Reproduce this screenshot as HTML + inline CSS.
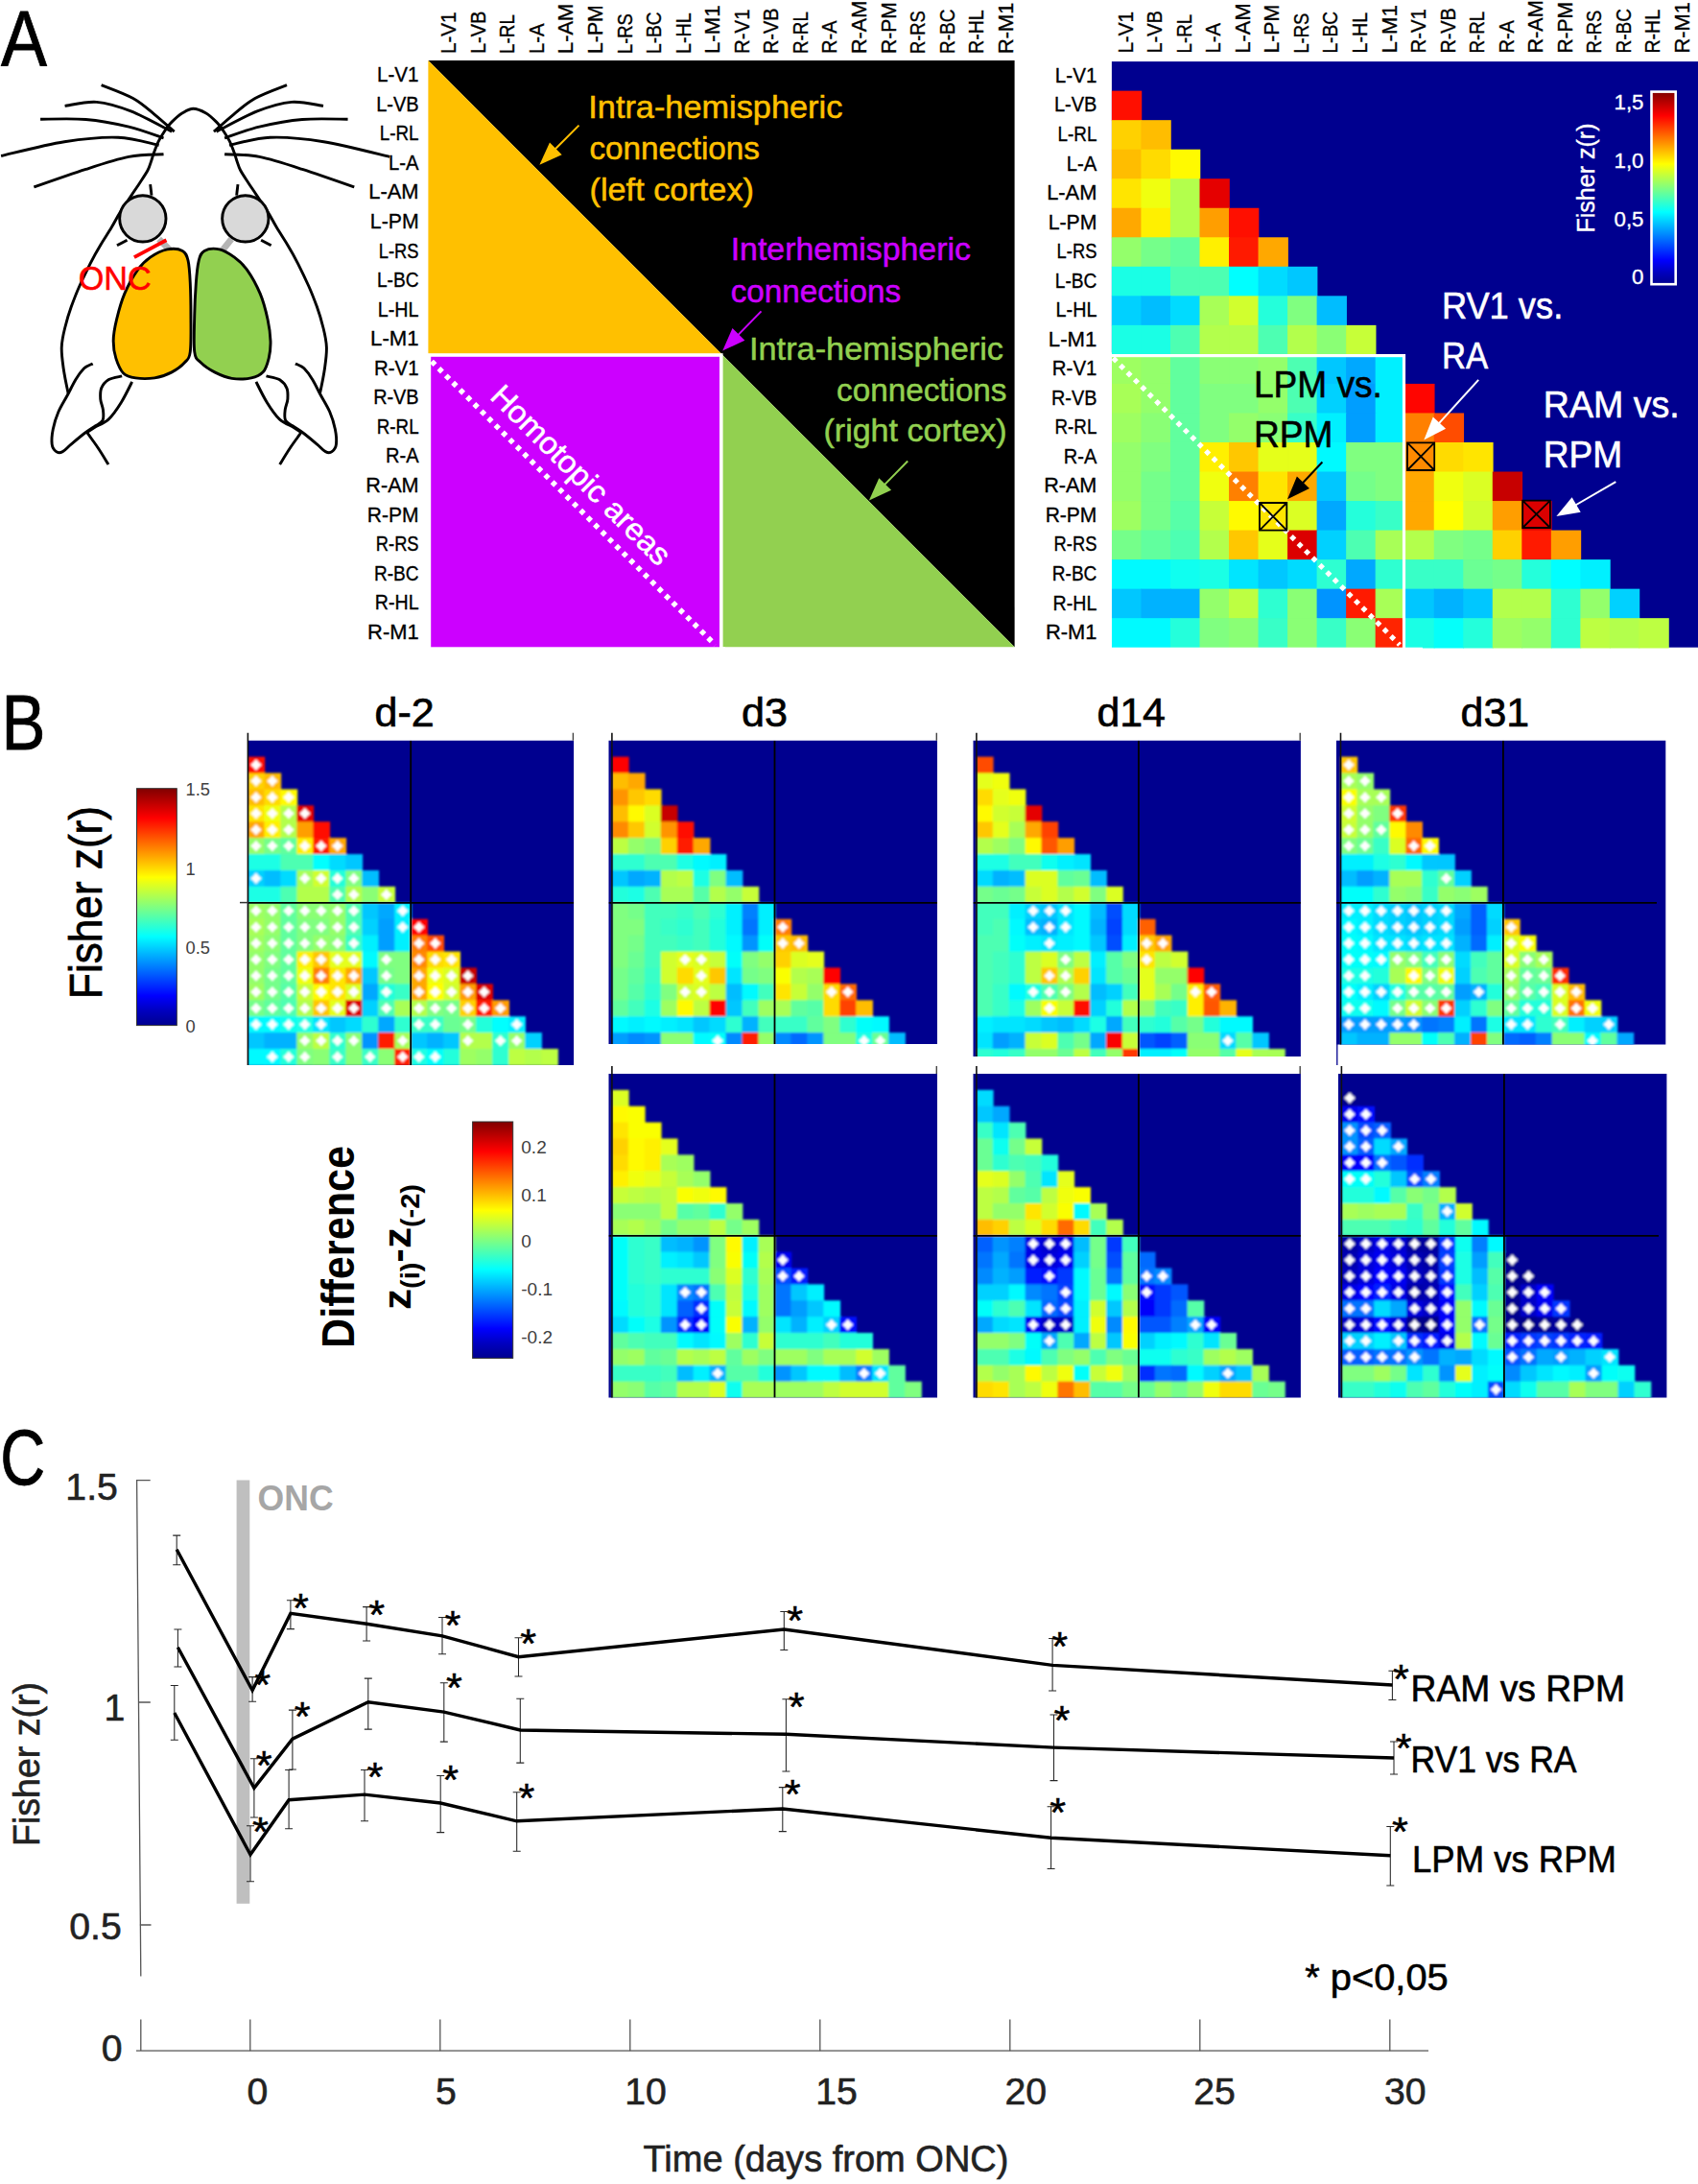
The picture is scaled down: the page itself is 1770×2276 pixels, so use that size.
<!DOCTYPE html><html><head><meta charset="utf-8"><title>Figure</title><style>html,body{margin:0;padding:0;background:#fff}svg{display:block}text{font-family:"Liberation Sans",sans-serif}</style></head><body>
<svg width="1770" height="2276" viewBox="0 0 1770 2276">
<defs>
<linearGradient id="jet" x1="0" y1="0" x2="0" y2="1"><stop offset="0.000" stop-color="#800000"/><stop offset="0.062" stop-color="#bf0000"/><stop offset="0.125" stop-color="#ff0000"/><stop offset="0.188" stop-color="#ff4000"/><stop offset="0.250" stop-color="#ff8000"/><stop offset="0.312" stop-color="#ffbf00"/><stop offset="0.375" stop-color="#ffff00"/><stop offset="0.438" stop-color="#bfff40"/><stop offset="0.500" stop-color="#80ff80"/><stop offset="0.562" stop-color="#40ffbf"/><stop offset="0.625" stop-color="#00ffff"/><stop offset="0.688" stop-color="#00bfff"/><stop offset="0.750" stop-color="#0080ff"/><stop offset="0.812" stop-color="#0040ff"/><stop offset="0.875" stop-color="#0000ff"/><stop offset="0.938" stop-color="#0000bf"/><stop offset="1.000" stop-color="#00008f"/></linearGradient>
<filter id="bl" x="-2%" y="-2%" width="104%" height="104%"><feGaussianBlur stdDeviation="0.9"/></filter>
</defs>
<rect width="1770" height="2276" fill="#fff"/>
<text transform="translate(1.10 67.70) scale(0.880 1)" x="0" y="0" font-size="81.7" stroke="#000" stroke-width="0.8">A</text>
<text transform="translate(1.45 780.90) scale(0.843 1)" x="0" y="0" font-size="81.7" stroke="#000" stroke-width="0.8">B</text>
<text transform="translate(0.25 1547.40) scale(0.796 1)" x="0" y="0" font-size="81.7" stroke="#000" stroke-width="0.8">C</text>
<g transform="translate(0 60) scale(0.2238)" fill="none" stroke="#000" stroke-width="13" stroke-linecap="butt" stroke-linejoin="round">
<line x1="740" y1="845" x2="795" y2="900" stroke="#b4b4b4" stroke-width="30"/>
<line x1="1078" y1="845" x2="1030" y2="905" stroke="#b4b4b4" stroke-width="30"/>
<path d="M318 1565C314 1546 301 1486 296 1450C291 1414 286 1382 287 1350C288 1318 294 1292 302 1260C310 1228 320 1193 332 1160C344 1127 357 1093 372 1060C387 1027 404 992 420 960C436 928 453 898 470 870C487 842 505 815 520 790C535 765 545 744 560 720C575 696 595 668 610 645C625 622 637 605 650 585C663 565 679 542 688 525C697 508 700 494 705 480C710 466 712 455 718 440C724 425 730 406 738 390C746 374 755 360 765 345C775 330 786 314 800 300C814 286 833 268 850 258C867 248 882 238 900 238C918 238 940 248 958 258C976 268 994 286 1008 300C1022 314 1033 330 1043 345C1053 360 1062 374 1070 390C1078 406 1084 425 1090 440C1096 455 1098 466 1103 480C1108 494 1111 508 1120 525C1129 542 1145 565 1158 585C1171 605 1183 622 1198 645C1213 668 1233 696 1248 720C1263 744 1273 765 1288 790C1303 815 1321 842 1338 870C1355 898 1372 928 1388 960C1404 992 1421 1027 1436 1060C1451 1093 1464 1127 1476 1160C1488 1193 1498 1228 1506 1260C1514 1292 1520 1318 1521 1350C1522 1382 1517 1414 1512 1450C1507 1486 1494 1546 1490 1565"/>
<path d="M432 1425C425 1429 405 1434 392 1447C379 1460 364 1480 352 1500C340 1520 331 1540 318 1565C305 1590 284 1622 272 1650C260 1678 252 1705 247 1730C242 1755 240 1782 242 1800C244 1818 254 1829 262 1835C270 1841 280 1841 292 1835C304 1829 314 1815 332 1800C350 1785 381 1759 400 1745C419 1731 432 1724 445 1715C458 1706 472 1702 478 1690C484 1678 482 1657 480 1640C478 1623 469 1607 468 1590C467 1573 466 1555 472 1540C478 1525 489 1510 505 1500C521 1490 558 1486 568 1483"/>
<path d="M1376 1425C1383 1429 1403 1434 1416 1447C1429 1460 1444 1480 1456 1500C1468 1520 1477 1540 1490 1565C1503 1590 1524 1622 1536 1650C1548 1678 1556 1705 1561 1730C1566 1755 1568 1782 1566 1800C1564 1818 1554 1829 1546 1835C1538 1841 1528 1841 1516 1835C1504 1829 1494 1815 1476 1800C1458 1785 1427 1759 1408 1745C1389 1731 1376 1724 1363 1715C1350 1706 1336 1702 1330 1690C1324 1678 1326 1657 1328 1640C1330 1623 1339 1607 1340 1590C1341 1573 1342 1555 1336 1540C1330 1525 1319 1510 1303 1500C1287 1490 1250 1486 1240 1483"/>
<path d="M615 1510C607 1526 583 1576 565 1605C547 1634 526 1666 505 1685C484 1704 457 1712 440 1722C423 1732 411 1741 405 1745"/>
<path d="M1193 1510C1201 1526 1225 1576 1243 1605C1261 1634 1282 1666 1303 1685C1324 1704 1351 1712 1368 1722C1385 1732 1397 1741 1403 1745"/>
<path d="M405 1745C413 1757 438 1790 455 1815C472 1840 497 1882 505 1895"/>
<path d="M1403 1745C1395 1757 1370 1790 1353 1815C1336 1840 1311 1882 1303 1895"/>
<path d="M472 128C497 138 579 167 620 190C661 213 688 239 720 265C752 291 797 332 812 345"/>
<path d="M1336 128C1311 138 1229 167 1188 190C1147 213 1120 239 1088 265C1056 291 1011 332 996 345"/>
<path d="M302 225C327 222 399 203 450 207C501 211 552 227 610 250C668 273 768 329 800 345"/>
<path d="M1506 225C1481 222 1409 203 1358 207C1307 211 1256 227 1198 250C1140 273 1040 329 1008 345"/>
<path d="M188 287C223 287 331 282 400 288C469 294 540 308 600 322C660 336 735 366 762 375"/>
<path d="M1620 287C1585 287 1477 282 1408 288C1339 294 1268 308 1208 322C1148 336 1073 366 1046 375"/>
<path d="M5 458C54 447 209 406 300 392C391 378 477 369 550 372C623 375 708 402 740 408"/>
<path d="M1815 462C1764 450 1601 407 1508 392C1415 377 1331 369 1258 372C1185 375 1100 402 1068 408"/>
<path d="M158 603C198 589 326 544 400 520C474 496 540 474 600 462C660 450 735 452 762 450"/>
<path d="M1650 603C1610 589 1482 544 1408 520C1334 496 1268 474 1208 462C1148 450 1073 452 1046 450"/>
<path d="M700 590L706 642"/>
<path d="M1108 590L1102 642"/>
<path d="M545 875L592 850"/>
<path d="M1263 875L1216 850"/>
<circle cx="665" cy="750" r="108" fill="#d9d9d9"/>
<circle cx="1143" cy="750" r="108" fill="#d9d9d9"/>
<path d="M780 893C805 888 834 891 850 900C866 909 870 920 876 945C882 970 884 1008 886 1050C888 1092 889 1147 889 1200C889 1253 891 1333 886 1370C881 1407 874 1404 860 1420C846 1436 823 1453 800 1465C777 1477 748 1488 720 1492C692 1496 656 1496 632 1492C608 1488 590 1485 575 1470C560 1455 548 1425 540 1400C532 1375 528 1350 528 1320C528 1290 534 1257 543 1220C552 1183 564 1138 580 1100C596 1062 620 1018 640 990C660 962 677 946 700 930C723 914 755 898 780 893Z" fill="#ffc000"/>
<path d="M1022 893C999 888 968 891 952 900C936 909 932 920 926 945C920 970 916 1008 913 1050C910 1092 907 1147 906 1200C905 1253 901 1333 906 1370C911 1407 919 1404 935 1420C951 1436 976 1453 1000 1465C1024 1477 1052 1490 1080 1494C1108 1498 1146 1497 1170 1492C1194 1487 1211 1480 1225 1465C1239 1450 1246 1424 1252 1400C1258 1376 1261 1350 1260 1320C1259 1290 1255 1257 1247 1220C1239 1183 1228 1138 1212 1100C1196 1062 1172 1018 1152 990C1132 962 1114 946 1092 930C1070 914 1045 898 1022 893Z" fill="#92d050"/>
<line x1="625" y1="930" x2="775" y2="850" stroke="#ff0000" stroke-width="17"/>
</g>
<text x="81.70" y="301.70" font-size="34.20" fill="#ff0000" stroke="#ff0000" stroke-width="0.53" textLength="76.00" lengthAdjust="spacingAndGlyphs">ONC</text>
<text x="393.04" y="85.18" font-size="21.78" fill="#000" stroke="#000" stroke-width="0.34" textLength="43.56" lengthAdjust="spacingAndGlyphs">L-V1</text>
<text x="0.00" y="0.00" font-size="21.78" fill="#000" stroke="#000" stroke-width="0.34" textLength="43.56" lengthAdjust="spacingAndGlyphs" transform="translate(475.18 56.00) rotate(-90)">L-V1</text>
<text x="392.14" y="115.74" font-size="21.78" fill="#000" stroke="#000" stroke-width="0.34" textLength="44.46" lengthAdjust="spacingAndGlyphs">L-VB</text>
<text x="0.00" y="0.00" font-size="21.78" fill="#000" stroke="#000" stroke-width="0.34" textLength="44.46" lengthAdjust="spacingAndGlyphs" transform="translate(505.74 56.00) rotate(-90)">L-VB</text>
<text x="395.73" y="146.30" font-size="21.78" fill="#000" stroke="#000" stroke-width="0.34" textLength="40.87" lengthAdjust="spacingAndGlyphs">L-RL</text>
<text x="0.00" y="0.00" font-size="21.78" fill="#000" stroke="#000" stroke-width="0.34" textLength="40.87" lengthAdjust="spacingAndGlyphs" transform="translate(536.30 56.00) rotate(-90)">L-RL</text>
<text x="405.02" y="176.86" font-size="21.78" fill="#000" stroke="#000" stroke-width="0.34" textLength="31.58" lengthAdjust="spacingAndGlyphs">L-A</text>
<text x="0.00" y="0.00" font-size="21.78" fill="#000" stroke="#000" stroke-width="0.34" textLength="31.58" lengthAdjust="spacingAndGlyphs" transform="translate(566.86 56.00) rotate(-90)">L-A</text>
<text x="384.33" y="207.42" font-size="21.78" fill="#000" stroke="#000" stroke-width="0.34" textLength="52.27" lengthAdjust="spacingAndGlyphs">L-AM</text>
<text x="0.00" y="0.00" font-size="21.78" fill="#000" stroke="#000" stroke-width="0.34" textLength="52.27" lengthAdjust="spacingAndGlyphs" transform="translate(597.42 56.00) rotate(-90)">L-AM</text>
<text x="385.83" y="237.98" font-size="21.78" fill="#000" stroke="#000" stroke-width="0.34" textLength="50.77" lengthAdjust="spacingAndGlyphs">L-PM</text>
<text x="0.00" y="0.00" font-size="21.78" fill="#000" stroke="#000" stroke-width="0.34" textLength="50.77" lengthAdjust="spacingAndGlyphs" transform="translate(627.98 56.00) rotate(-90)">L-PM</text>
<text x="394.78" y="268.54" font-size="21.78" fill="#000" stroke="#000" stroke-width="0.34" textLength="41.82" lengthAdjust="spacingAndGlyphs">L-RS</text>
<text x="0.00" y="0.00" font-size="21.78" fill="#000" stroke="#000" stroke-width="0.34" textLength="41.82" lengthAdjust="spacingAndGlyphs" transform="translate(658.54 56.00) rotate(-90)">L-RS</text>
<text x="392.97" y="299.10" font-size="21.78" fill="#000" stroke="#000" stroke-width="0.34" textLength="43.63" lengthAdjust="spacingAndGlyphs">L-BC</text>
<text x="0.00" y="0.00" font-size="21.78" fill="#000" stroke="#000" stroke-width="0.34" textLength="43.63" lengthAdjust="spacingAndGlyphs" transform="translate(689.10 56.00) rotate(-90)">L-BC</text>
<text x="393.79" y="329.66" font-size="21.78" fill="#000" stroke="#000" stroke-width="0.34" textLength="42.81" lengthAdjust="spacingAndGlyphs">L-HL</text>
<text x="0.00" y="0.00" font-size="21.78" fill="#000" stroke="#000" stroke-width="0.34" textLength="42.81" lengthAdjust="spacingAndGlyphs" transform="translate(719.66 56.00) rotate(-90)">L-HL</text>
<text x="386.07" y="360.22" font-size="21.78" fill="#000" stroke="#000" stroke-width="0.34" textLength="50.53" lengthAdjust="spacingAndGlyphs">L-M1</text>
<text x="0.00" y="0.00" font-size="21.78" fill="#000" stroke="#000" stroke-width="0.34" textLength="50.53" lengthAdjust="spacingAndGlyphs" transform="translate(750.22 56.00) rotate(-90)">L-M1</text>
<text x="390.06" y="390.78" font-size="21.78" fill="#000" stroke="#000" stroke-width="0.34" textLength="46.54" lengthAdjust="spacingAndGlyphs">R-V1</text>
<text x="0.00" y="0.00" font-size="21.78" fill="#000" stroke="#000" stroke-width="0.34" textLength="46.54" lengthAdjust="spacingAndGlyphs" transform="translate(780.78 56.00) rotate(-90)">R-V1</text>
<text x="389.17" y="421.34" font-size="21.78" fill="#000" stroke="#000" stroke-width="0.34" textLength="47.43" lengthAdjust="spacingAndGlyphs">R-VB</text>
<text x="0.00" y="0.00" font-size="21.78" fill="#000" stroke="#000" stroke-width="0.34" textLength="47.43" lengthAdjust="spacingAndGlyphs" transform="translate(811.34 56.00) rotate(-90)">R-VB</text>
<text x="392.75" y="451.90" font-size="21.78" fill="#000" stroke="#000" stroke-width="0.34" textLength="43.85" lengthAdjust="spacingAndGlyphs">R-RL</text>
<text x="0.00" y="0.00" font-size="21.78" fill="#000" stroke="#000" stroke-width="0.34" textLength="43.85" lengthAdjust="spacingAndGlyphs" transform="translate(841.90 56.00) rotate(-90)">R-RL</text>
<text x="402.04" y="482.46" font-size="21.78" fill="#000" stroke="#000" stroke-width="0.34" textLength="34.56" lengthAdjust="spacingAndGlyphs">R-A</text>
<text x="0.00" y="0.00" font-size="21.78" fill="#000" stroke="#000" stroke-width="0.34" textLength="34.56" lengthAdjust="spacingAndGlyphs" transform="translate(872.46 56.00) rotate(-90)">R-A</text>
<text x="381.35" y="513.02" font-size="21.78" fill="#000" stroke="#000" stroke-width="0.34" textLength="55.25" lengthAdjust="spacingAndGlyphs">R-AM</text>
<text x="0.00" y="0.00" font-size="21.78" fill="#000" stroke="#000" stroke-width="0.34" textLength="55.25" lengthAdjust="spacingAndGlyphs" transform="translate(903.02 56.00) rotate(-90)">R-AM</text>
<text x="382.85" y="543.58" font-size="21.78" fill="#000" stroke="#000" stroke-width="0.34" textLength="53.75" lengthAdjust="spacingAndGlyphs">R-PM</text>
<text x="0.00" y="0.00" font-size="21.78" fill="#000" stroke="#000" stroke-width="0.34" textLength="53.75" lengthAdjust="spacingAndGlyphs" transform="translate(933.58 56.00) rotate(-90)">R-PM</text>
<text x="391.81" y="574.14" font-size="21.78" fill="#000" stroke="#000" stroke-width="0.34" textLength="44.79" lengthAdjust="spacingAndGlyphs">R-RS</text>
<text x="0.00" y="0.00" font-size="21.78" fill="#000" stroke="#000" stroke-width="0.34" textLength="44.79" lengthAdjust="spacingAndGlyphs" transform="translate(964.14 56.00) rotate(-90)">R-RS</text>
<text x="389.99" y="604.70" font-size="21.78" fill="#000" stroke="#000" stroke-width="0.34" textLength="46.61" lengthAdjust="spacingAndGlyphs">R-BC</text>
<text x="0.00" y="0.00" font-size="21.78" fill="#000" stroke="#000" stroke-width="0.34" textLength="46.61" lengthAdjust="spacingAndGlyphs" transform="translate(994.70 56.00) rotate(-90)">R-BC</text>
<text x="390.81" y="635.26" font-size="21.78" fill="#000" stroke="#000" stroke-width="0.34" textLength="45.79" lengthAdjust="spacingAndGlyphs">R-HL</text>
<text x="0.00" y="0.00" font-size="21.78" fill="#000" stroke="#000" stroke-width="0.34" textLength="45.79" lengthAdjust="spacingAndGlyphs" transform="translate(1025.26 56.00) rotate(-90)">R-HL</text>
<text x="383.09" y="665.82" font-size="21.78" fill="#000" stroke="#000" stroke-width="0.34" textLength="53.51" lengthAdjust="spacingAndGlyphs">R-M1</text>
<text x="0.00" y="0.00" font-size="21.78" fill="#000" stroke="#000" stroke-width="0.34" textLength="53.51" lengthAdjust="spacingAndGlyphs" transform="translate(1055.82 56.00) rotate(-90)">R-M1</text>
<polygon points="446.4,63.1 1057.6,63.1 1057.6,674.3" fill="#000"/>
<polygon points="446.4,63.1 446.4,369.7 753.0,369.7" fill="#ffc000"/>
<polygon points="752.0,368.7 752.0,674.3 1057.6,674.3" fill="#92d050"/>
<rect x="447.4" y="370.0" width="304.4" height="307.6" fill="#cc00ff" stroke="#fff" stroke-width="3.6"/>
<rect x="442.4" y="674.3" width="313.6" height="8.0" fill="#fff"/>
<line x1="450" y1="376.6" x2="745.6" y2="672.2" stroke="#fff" stroke-width="5.5" stroke-dasharray="5 5.45"/>
<text x="613.30" y="123.00" font-size="32.40" fill="#ffc000" stroke="#ffc000" stroke-width="0.50" textLength="265.00" lengthAdjust="spacingAndGlyphs">Intra-hemispheric</text>
<text x="614.50" y="166.00" font-size="32.40" fill="#ffc000" stroke="#ffc000" stroke-width="0.50" textLength="177.41" lengthAdjust="spacingAndGlyphs">connections</text>
<text x="614.50" y="209.00" font-size="32.40" fill="#ffc000" stroke="#ffc000" stroke-width="0.50" textLength="171.50" lengthAdjust="spacingAndGlyphs">(left cortex)</text>
<text x="761.70" y="271.40" font-size="32.40" fill="#cc00ff" stroke="#cc00ff" stroke-width="0.50" textLength="250.20" lengthAdjust="spacingAndGlyphs">Interhemispheric</text>
<text x="761.70" y="314.70" font-size="32.40" fill="#cc00ff" stroke="#cc00ff" stroke-width="0.50" textLength="177.41" lengthAdjust="spacingAndGlyphs">connections</text>
<text x="781.00" y="375.30" font-size="32.40" fill="#92d050" stroke="#92d050" stroke-width="0.50" textLength="265.00" lengthAdjust="spacingAndGlyphs">Intra-hemispheric</text>
<text x="872.09" y="417.70" font-size="32.40" fill="#92d050" stroke="#92d050" stroke-width="0.50" textLength="177.41" lengthAdjust="spacingAndGlyphs">connections</text>
<text x="858.48" y="460.00" font-size="32.40" fill="#92d050" stroke="#92d050" stroke-width="0.50" textLength="191.02" lengthAdjust="spacingAndGlyphs">(right cortex)</text>
<text x="0.00" y="0.00" font-size="32.40" fill="#fff" stroke="#fff" stroke-width="0.50" textLength="249.73" lengthAdjust="spacingAndGlyphs" transform="translate(509.50 414.50) rotate(45)">Homotopic areas</text>
<line x1="603.5" y1="130.6" x2="577.9" y2="156.2" stroke="#ffc000" stroke-width="2"/>
<polygon points="562.4,171.8 573.0,148.5 585.7,161.2" fill="#ffc000"/>
<line x1="793.5" y1="324.4" x2="768.6" y2="349.9" stroke="#cc00ff" stroke-width="2"/>
<polygon points="753.2,365.6 763.5,342.1 776.4,354.7" fill="#cc00ff"/>
<line x1="946.2" y1="480.5" x2="921.3" y2="505.9" stroke="#92d050" stroke-width="2"/>
<polygon points="905.9,521.6 916.3,498.2 929.1,510.8" fill="#92d050"/>
<text x="1099.84" y="85.96" font-size="21.78" fill="#000" stroke="#000" stroke-width="0.34" textLength="43.56" lengthAdjust="spacingAndGlyphs">L-V1</text>
<text x="0.00" y="0.00" font-size="21.78" fill="#000" stroke="#000" stroke-width="0.34" textLength="43.56" lengthAdjust="spacingAndGlyphs" transform="translate(1180.77 55.60) rotate(-90)">L-V1</text>
<text x="1098.94" y="116.49" font-size="21.78" fill="#000" stroke="#000" stroke-width="0.34" textLength="44.46" lengthAdjust="spacingAndGlyphs">L-VB</text>
<text x="0.00" y="0.00" font-size="21.78" fill="#000" stroke="#000" stroke-width="0.34" textLength="44.46" lengthAdjust="spacingAndGlyphs" transform="translate(1211.30 55.60) rotate(-90)">L-VB</text>
<text x="1102.53" y="147.03" font-size="21.78" fill="#000" stroke="#000" stroke-width="0.34" textLength="40.87" lengthAdjust="spacingAndGlyphs">L-RL</text>
<text x="0.00" y="0.00" font-size="21.78" fill="#000" stroke="#000" stroke-width="0.34" textLength="40.87" lengthAdjust="spacingAndGlyphs" transform="translate(1241.83 55.60) rotate(-90)">L-RL</text>
<text x="1111.82" y="177.55" font-size="21.78" fill="#000" stroke="#000" stroke-width="0.34" textLength="31.58" lengthAdjust="spacingAndGlyphs">L-A</text>
<text x="0.00" y="0.00" font-size="21.78" fill="#000" stroke="#000" stroke-width="0.34" textLength="31.58" lengthAdjust="spacingAndGlyphs" transform="translate(1272.36 55.60) rotate(-90)">L-A</text>
<text x="1091.13" y="208.08" font-size="21.78" fill="#000" stroke="#000" stroke-width="0.34" textLength="52.27" lengthAdjust="spacingAndGlyphs">L-AM</text>
<text x="0.00" y="0.00" font-size="21.78" fill="#000" stroke="#000" stroke-width="0.34" textLength="52.27" lengthAdjust="spacingAndGlyphs" transform="translate(1302.88 55.60) rotate(-90)">L-AM</text>
<text x="1092.63" y="238.62" font-size="21.78" fill="#000" stroke="#000" stroke-width="0.34" textLength="50.77" lengthAdjust="spacingAndGlyphs">L-PM</text>
<text x="0.00" y="0.00" font-size="21.78" fill="#000" stroke="#000" stroke-width="0.34" textLength="50.77" lengthAdjust="spacingAndGlyphs" transform="translate(1333.41 55.60) rotate(-90)">L-PM</text>
<text x="1101.58" y="269.14" font-size="21.78" fill="#000" stroke="#000" stroke-width="0.34" textLength="41.82" lengthAdjust="spacingAndGlyphs">L-RS</text>
<text x="0.00" y="0.00" font-size="21.78" fill="#000" stroke="#000" stroke-width="0.34" textLength="41.82" lengthAdjust="spacingAndGlyphs" transform="translate(1363.94 55.60) rotate(-90)">L-RS</text>
<text x="1099.77" y="299.68" font-size="21.78" fill="#000" stroke="#000" stroke-width="0.34" textLength="43.63" lengthAdjust="spacingAndGlyphs">L-BC</text>
<text x="0.00" y="0.00" font-size="21.78" fill="#000" stroke="#000" stroke-width="0.34" textLength="43.63" lengthAdjust="spacingAndGlyphs" transform="translate(1394.47 55.60) rotate(-90)">L-BC</text>
<text x="1100.59" y="330.21" font-size="21.78" fill="#000" stroke="#000" stroke-width="0.34" textLength="42.81" lengthAdjust="spacingAndGlyphs">L-HL</text>
<text x="0.00" y="0.00" font-size="21.78" fill="#000" stroke="#000" stroke-width="0.34" textLength="42.81" lengthAdjust="spacingAndGlyphs" transform="translate(1425.01 55.60) rotate(-90)">L-HL</text>
<text x="1092.87" y="360.74" font-size="21.78" fill="#000" stroke="#000" stroke-width="0.34" textLength="50.53" lengthAdjust="spacingAndGlyphs">L-M1</text>
<text x="0.00" y="0.00" font-size="21.78" fill="#000" stroke="#000" stroke-width="0.34" textLength="50.53" lengthAdjust="spacingAndGlyphs" transform="translate(1455.54 55.60) rotate(-90)">L-M1</text>
<text x="1096.86" y="391.26" font-size="21.78" fill="#000" stroke="#000" stroke-width="0.34" textLength="46.54" lengthAdjust="spacingAndGlyphs">R-V1</text>
<text x="0.00" y="0.00" font-size="21.78" fill="#000" stroke="#000" stroke-width="0.34" textLength="46.54" lengthAdjust="spacingAndGlyphs" transform="translate(1486.07 55.60) rotate(-90)">R-V1</text>
<text x="1095.97" y="421.80" font-size="21.78" fill="#000" stroke="#000" stroke-width="0.34" textLength="47.43" lengthAdjust="spacingAndGlyphs">R-VB</text>
<text x="0.00" y="0.00" font-size="21.78" fill="#000" stroke="#000" stroke-width="0.34" textLength="47.43" lengthAdjust="spacingAndGlyphs" transform="translate(1516.60 55.60) rotate(-90)">R-VB</text>
<text x="1099.55" y="452.33" font-size="21.78" fill="#000" stroke="#000" stroke-width="0.34" textLength="43.85" lengthAdjust="spacingAndGlyphs">R-RL</text>
<text x="0.00" y="0.00" font-size="21.78" fill="#000" stroke="#000" stroke-width="0.34" textLength="43.85" lengthAdjust="spacingAndGlyphs" transform="translate(1547.12 55.60) rotate(-90)">R-RL</text>
<text x="1108.84" y="482.86" font-size="21.78" fill="#000" stroke="#000" stroke-width="0.34" textLength="34.56" lengthAdjust="spacingAndGlyphs">R-A</text>
<text x="0.00" y="0.00" font-size="21.78" fill="#000" stroke="#000" stroke-width="0.34" textLength="34.56" lengthAdjust="spacingAndGlyphs" transform="translate(1577.65 55.60) rotate(-90)">R-A</text>
<text x="1088.15" y="513.38" font-size="21.78" fill="#000" stroke="#000" stroke-width="0.34" textLength="55.25" lengthAdjust="spacingAndGlyphs">R-AM</text>
<text x="0.00" y="0.00" font-size="21.78" fill="#000" stroke="#000" stroke-width="0.34" textLength="55.25" lengthAdjust="spacingAndGlyphs" transform="translate(1608.18 55.60) rotate(-90)">R-AM</text>
<text x="1089.65" y="543.92" font-size="21.78" fill="#000" stroke="#000" stroke-width="0.34" textLength="53.75" lengthAdjust="spacingAndGlyphs">R-PM</text>
<text x="0.00" y="0.00" font-size="21.78" fill="#000" stroke="#000" stroke-width="0.34" textLength="53.75" lengthAdjust="spacingAndGlyphs" transform="translate(1638.72 55.60) rotate(-90)">R-PM</text>
<text x="1098.61" y="574.45" font-size="21.78" fill="#000" stroke="#000" stroke-width="0.34" textLength="44.79" lengthAdjust="spacingAndGlyphs">R-RS</text>
<text x="0.00" y="0.00" font-size="21.78" fill="#000" stroke="#000" stroke-width="0.34" textLength="44.79" lengthAdjust="spacingAndGlyphs" transform="translate(1669.24 55.60) rotate(-90)">R-RS</text>
<text x="1096.79" y="604.98" font-size="21.78" fill="#000" stroke="#000" stroke-width="0.34" textLength="46.61" lengthAdjust="spacingAndGlyphs">R-BC</text>
<text x="0.00" y="0.00" font-size="21.78" fill="#000" stroke="#000" stroke-width="0.34" textLength="46.61" lengthAdjust="spacingAndGlyphs" transform="translate(1699.78 55.60) rotate(-90)">R-BC</text>
<text x="1097.61" y="635.51" font-size="21.78" fill="#000" stroke="#000" stroke-width="0.34" textLength="45.79" lengthAdjust="spacingAndGlyphs">R-HL</text>
<text x="0.00" y="0.00" font-size="21.78" fill="#000" stroke="#000" stroke-width="0.34" textLength="45.79" lengthAdjust="spacingAndGlyphs" transform="translate(1730.31 55.60) rotate(-90)">R-HL</text>
<text x="1089.89" y="666.04" font-size="21.78" fill="#000" stroke="#000" stroke-width="0.34" textLength="53.51" lengthAdjust="spacingAndGlyphs">R-M1</text>
<text x="0.00" y="0.00" font-size="21.78" fill="#000" stroke="#000" stroke-width="0.34" textLength="53.51" lengthAdjust="spacingAndGlyphs" transform="translate(1760.84 55.60) rotate(-90)">R-M1</text>
<rect x="1158.9" y="64.1" width="613.1" height="610.6" fill="#00008f"/>
<rect x="1158.90" y="94.63" width="31.33" height="31.33" fill="#ff0f00"/>
<rect x="1158.90" y="125.16" width="31.33" height="31.33" fill="#ffd100"/>
<rect x="1189.43" y="125.16" width="31.33" height="31.33" fill="#ffbd00"/>
<rect x="1158.90" y="155.69" width="31.33" height="31.33" fill="#ffbd00"/>
<rect x="1189.43" y="155.69" width="31.33" height="31.33" fill="#ffdb00"/>
<rect x="1219.96" y="155.69" width="31.33" height="31.33" fill="#fffa00"/>
<rect x="1158.90" y="186.22" width="31.33" height="31.33" fill="#ffe500"/>
<rect x="1189.43" y="186.22" width="31.33" height="31.33" fill="#f0ff0f"/>
<rect x="1219.96" y="186.22" width="31.33" height="31.33" fill="#b3ff4c"/>
<rect x="1250.49" y="186.22" width="31.33" height="31.33" fill="#e50000"/>
<rect x="1158.90" y="216.75" width="31.33" height="31.33" fill="#ffa800"/>
<rect x="1189.43" y="216.75" width="31.33" height="31.33" fill="#fff000"/>
<rect x="1219.96" y="216.75" width="31.33" height="31.33" fill="#b3ff4c"/>
<rect x="1250.49" y="216.75" width="31.33" height="31.33" fill="#ff9e00"/>
<rect x="1281.02" y="216.75" width="31.33" height="31.33" fill="#ff0f00"/>
<rect x="1158.90" y="247.28" width="31.33" height="31.33" fill="#94ff6b"/>
<rect x="1189.43" y="247.28" width="31.33" height="31.33" fill="#75ff8a"/>
<rect x="1219.96" y="247.28" width="31.33" height="31.33" fill="#61ff9e"/>
<rect x="1250.49" y="247.28" width="31.33" height="31.33" fill="#fff000"/>
<rect x="1281.02" y="247.28" width="31.33" height="31.33" fill="#ff1a00"/>
<rect x="1311.55" y="247.28" width="31.33" height="31.33" fill="#ffa800"/>
<rect x="1158.90" y="277.81" width="31.33" height="31.33" fill="#1affe5"/>
<rect x="1189.43" y="277.81" width="31.33" height="31.33" fill="#1affe5"/>
<rect x="1219.96" y="277.81" width="31.33" height="31.33" fill="#4dffb2"/>
<rect x="1250.49" y="277.81" width="31.33" height="31.33" fill="#4dffb2"/>
<rect x="1281.02" y="277.81" width="31.33" height="31.33" fill="#00ffff"/>
<rect x="1311.55" y="277.81" width="31.33" height="31.33" fill="#00dbff"/>
<rect x="1342.08" y="277.81" width="31.33" height="31.33" fill="#00c7ff"/>
<rect x="1158.90" y="308.34" width="31.33" height="31.33" fill="#00d1ff"/>
<rect x="1189.43" y="308.34" width="31.33" height="31.33" fill="#00bdff"/>
<rect x="1219.96" y="308.34" width="31.33" height="31.33" fill="#00dbff"/>
<rect x="1250.49" y="308.34" width="31.33" height="31.33" fill="#a8ff57"/>
<rect x="1281.02" y="308.34" width="31.33" height="31.33" fill="#d1ff2e"/>
<rect x="1311.55" y="308.34" width="31.33" height="31.33" fill="#24ffdb"/>
<rect x="1342.08" y="308.34" width="31.33" height="31.33" fill="#80ff80"/>
<rect x="1372.61" y="308.34" width="31.33" height="31.33" fill="#00bdff"/>
<rect x="1158.90" y="338.87" width="31.33" height="31.33" fill="#1affe5"/>
<rect x="1189.43" y="338.87" width="31.33" height="31.33" fill="#1affe5"/>
<rect x="1219.96" y="338.87" width="31.33" height="31.33" fill="#4dffb2"/>
<rect x="1250.49" y="338.87" width="31.33" height="31.33" fill="#b3ff4c"/>
<rect x="1281.02" y="338.87" width="31.33" height="31.33" fill="#b3ff4c"/>
<rect x="1311.55" y="338.87" width="31.33" height="31.33" fill="#4dffb2"/>
<rect x="1342.08" y="338.87" width="31.33" height="31.33" fill="#b3ff4c"/>
<rect x="1372.61" y="338.87" width="31.33" height="31.33" fill="#8aff75"/>
<rect x="1403.14" y="338.87" width="31.33" height="31.33" fill="#c7ff38"/>
<rect x="1158.90" y="369.40" width="31.33" height="31.33" fill="#9eff61"/>
<rect x="1189.43" y="369.40" width="31.33" height="31.33" fill="#94ff6b"/>
<rect x="1219.96" y="369.40" width="31.33" height="31.33" fill="#61ff9e"/>
<rect x="1250.49" y="369.40" width="31.33" height="31.33" fill="#8aff75"/>
<rect x="1281.02" y="369.40" width="31.33" height="31.33" fill="#8aff75"/>
<rect x="1311.55" y="369.40" width="31.33" height="31.33" fill="#94ff6b"/>
<rect x="1342.08" y="369.40" width="31.33" height="31.33" fill="#4dffb2"/>
<rect x="1372.61" y="369.40" width="31.33" height="31.33" fill="#00c7ff"/>
<rect x="1403.14" y="369.40" width="31.33" height="31.33" fill="#00a8ff"/>
<rect x="1433.67" y="369.40" width="31.33" height="31.33" fill="#00f0ff"/>
<rect x="1158.90" y="399.93" width="31.33" height="31.33" fill="#a8ff57"/>
<rect x="1189.43" y="399.93" width="31.33" height="31.33" fill="#94ff6b"/>
<rect x="1219.96" y="399.93" width="31.33" height="31.33" fill="#61ff9e"/>
<rect x="1250.49" y="399.93" width="31.33" height="31.33" fill="#80ff80"/>
<rect x="1281.02" y="399.93" width="31.33" height="31.33" fill="#80ff80"/>
<rect x="1311.55" y="399.93" width="31.33" height="31.33" fill="#94ff6b"/>
<rect x="1342.08" y="399.93" width="31.33" height="31.33" fill="#4dffb2"/>
<rect x="1372.61" y="399.93" width="31.33" height="31.33" fill="#00d1ff"/>
<rect x="1403.14" y="399.93" width="31.33" height="31.33" fill="#009eff"/>
<rect x="1433.67" y="399.93" width="31.33" height="31.33" fill="#00f0ff"/>
<rect x="1464.20" y="399.93" width="31.33" height="31.33" fill="#ff0500"/>
<rect x="1158.90" y="430.46" width="31.33" height="31.33" fill="#9eff61"/>
<rect x="1189.43" y="430.46" width="31.33" height="31.33" fill="#8aff75"/>
<rect x="1219.96" y="430.46" width="31.33" height="31.33" fill="#61ff9e"/>
<rect x="1250.49" y="430.46" width="31.33" height="31.33" fill="#80ff80"/>
<rect x="1281.02" y="430.46" width="31.33" height="31.33" fill="#94ff6b"/>
<rect x="1311.55" y="430.46" width="31.33" height="31.33" fill="#8aff75"/>
<rect x="1342.08" y="430.46" width="31.33" height="31.33" fill="#38ffc7"/>
<rect x="1372.61" y="430.46" width="31.33" height="31.33" fill="#00f0ff"/>
<rect x="1403.14" y="430.46" width="31.33" height="31.33" fill="#009eff"/>
<rect x="1433.67" y="430.46" width="31.33" height="31.33" fill="#00f0ff"/>
<rect x="1464.20" y="430.46" width="31.33" height="31.33" fill="#ff8000"/>
<rect x="1494.73" y="430.46" width="31.33" height="31.33" fill="#ff4c00"/>
<rect x="1158.90" y="460.99" width="31.33" height="31.33" fill="#94ff6b"/>
<rect x="1189.43" y="460.99" width="31.33" height="31.33" fill="#80ff80"/>
<rect x="1219.96" y="460.99" width="31.33" height="31.33" fill="#61ff9e"/>
<rect x="1250.49" y="460.99" width="31.33" height="31.33" fill="#fff000"/>
<rect x="1281.02" y="460.99" width="31.33" height="31.33" fill="#ffc700"/>
<rect x="1311.55" y="460.99" width="31.33" height="31.33" fill="#e5ff1a"/>
<rect x="1342.08" y="460.99" width="31.33" height="31.33" fill="#e5ff1a"/>
<rect x="1372.61" y="460.99" width="31.33" height="31.33" fill="#00faff"/>
<rect x="1403.14" y="460.99" width="31.33" height="31.33" fill="#80ff80"/>
<rect x="1433.67" y="460.99" width="31.33" height="31.33" fill="#80ff80"/>
<rect x="1464.20" y="460.99" width="31.33" height="31.33" fill="#ff8a00"/>
<rect x="1494.73" y="460.99" width="31.33" height="31.33" fill="#ffdb00"/>
<rect x="1525.26" y="460.99" width="31.33" height="31.33" fill="#ffe500"/>
<rect x="1158.90" y="491.52" width="31.33" height="31.33" fill="#94ff6b"/>
<rect x="1189.43" y="491.52" width="31.33" height="31.33" fill="#75ff8a"/>
<rect x="1219.96" y="491.52" width="31.33" height="31.33" fill="#61ff9e"/>
<rect x="1250.49" y="491.52" width="31.33" height="31.33" fill="#f0ff0f"/>
<rect x="1281.02" y="491.52" width="31.33" height="31.33" fill="#ff8000"/>
<rect x="1311.55" y="491.52" width="31.33" height="31.33" fill="#ffe500"/>
<rect x="1342.08" y="491.52" width="31.33" height="31.33" fill="#ffa800"/>
<rect x="1372.61" y="491.52" width="31.33" height="31.33" fill="#00c7ff"/>
<rect x="1403.14" y="491.52" width="31.33" height="31.33" fill="#75ff8a"/>
<rect x="1433.67" y="491.52" width="31.33" height="31.33" fill="#80ff80"/>
<rect x="1464.20" y="491.52" width="31.33" height="31.33" fill="#ffa800"/>
<rect x="1494.73" y="491.52" width="31.33" height="31.33" fill="#f0ff0f"/>
<rect x="1525.26" y="491.52" width="31.33" height="31.33" fill="#dbff24"/>
<rect x="1555.79" y="491.52" width="31.33" height="31.33" fill="#c70000"/>
<rect x="1158.90" y="522.05" width="31.33" height="31.33" fill="#9eff61"/>
<rect x="1189.43" y="522.05" width="31.33" height="31.33" fill="#75ff8a"/>
<rect x="1219.96" y="522.05" width="31.33" height="31.33" fill="#57ffa8"/>
<rect x="1250.49" y="522.05" width="31.33" height="31.33" fill="#c7ff38"/>
<rect x="1281.02" y="522.05" width="31.33" height="31.33" fill="#fffa00"/>
<rect x="1311.55" y="522.05" width="31.33" height="31.33" fill="#ffe500"/>
<rect x="1342.08" y="522.05" width="31.33" height="31.33" fill="#dbff24"/>
<rect x="1372.61" y="522.05" width="31.33" height="31.33" fill="#00a8ff"/>
<rect x="1403.14" y="522.05" width="31.33" height="31.33" fill="#24ffdb"/>
<rect x="1433.67" y="522.05" width="31.33" height="31.33" fill="#38ffc7"/>
<rect x="1464.20" y="522.05" width="31.33" height="31.33" fill="#ffa800"/>
<rect x="1494.73" y="522.05" width="31.33" height="31.33" fill="#ffff00"/>
<rect x="1525.26" y="522.05" width="31.33" height="31.33" fill="#d1ff2e"/>
<rect x="1555.79" y="522.05" width="31.33" height="31.33" fill="#ff9e00"/>
<rect x="1586.32" y="522.05" width="31.33" height="31.33" fill="#db0000"/>
<rect x="1158.90" y="552.58" width="31.33" height="31.33" fill="#75ff8a"/>
<rect x="1189.43" y="552.58" width="31.33" height="31.33" fill="#61ff9e"/>
<rect x="1219.96" y="552.58" width="31.33" height="31.33" fill="#4dffb2"/>
<rect x="1250.49" y="552.58" width="31.33" height="31.33" fill="#b3ff4c"/>
<rect x="1281.02" y="552.58" width="31.33" height="31.33" fill="#ffc700"/>
<rect x="1311.55" y="552.58" width="31.33" height="31.33" fill="#e5ff1a"/>
<rect x="1342.08" y="552.58" width="31.33" height="31.33" fill="#db0000"/>
<rect x="1372.61" y="552.58" width="31.33" height="31.33" fill="#00d1ff"/>
<rect x="1403.14" y="552.58" width="31.33" height="31.33" fill="#4dffb2"/>
<rect x="1433.67" y="552.58" width="31.33" height="31.33" fill="#a8ff57"/>
<rect x="1464.20" y="552.58" width="31.33" height="31.33" fill="#b3ff4c"/>
<rect x="1494.73" y="552.58" width="31.33" height="31.33" fill="#80ff80"/>
<rect x="1525.26" y="552.58" width="31.33" height="31.33" fill="#75ff8a"/>
<rect x="1555.79" y="552.58" width="31.33" height="31.33" fill="#ffd100"/>
<rect x="1586.32" y="552.58" width="31.33" height="31.33" fill="#ff1a00"/>
<rect x="1616.85" y="552.58" width="31.33" height="31.33" fill="#ff9e00"/>
<rect x="1158.90" y="583.11" width="31.33" height="31.33" fill="#00faff"/>
<rect x="1189.43" y="583.11" width="31.33" height="31.33" fill="#00faff"/>
<rect x="1219.96" y="583.11" width="31.33" height="31.33" fill="#0ffff0"/>
<rect x="1250.49" y="583.11" width="31.33" height="31.33" fill="#1affe5"/>
<rect x="1281.02" y="583.11" width="31.33" height="31.33" fill="#00e5ff"/>
<rect x="1311.55" y="583.11" width="31.33" height="31.33" fill="#00c7ff"/>
<rect x="1342.08" y="583.11" width="31.33" height="31.33" fill="#00dbff"/>
<rect x="1372.61" y="583.11" width="31.33" height="31.33" fill="#2effd1"/>
<rect x="1403.14" y="583.11" width="31.33" height="31.33" fill="#00a8ff"/>
<rect x="1433.67" y="583.11" width="31.33" height="31.33" fill="#2effd1"/>
<rect x="1464.20" y="583.11" width="31.33" height="31.33" fill="#38ffc7"/>
<rect x="1494.73" y="583.11" width="31.33" height="31.33" fill="#38ffc7"/>
<rect x="1525.26" y="583.11" width="31.33" height="31.33" fill="#6bff94"/>
<rect x="1555.79" y="583.11" width="31.33" height="31.33" fill="#75ff8a"/>
<rect x="1586.32" y="583.11" width="31.33" height="31.33" fill="#24ffdb"/>
<rect x="1616.85" y="583.11" width="31.33" height="31.33" fill="#00ffff"/>
<rect x="1647.38" y="583.11" width="31.33" height="31.33" fill="#00f0ff"/>
<rect x="1158.90" y="613.64" width="31.33" height="31.33" fill="#00c7ff"/>
<rect x="1189.43" y="613.64" width="31.33" height="31.33" fill="#00b2ff"/>
<rect x="1219.96" y="613.64" width="31.33" height="31.33" fill="#00b2ff"/>
<rect x="1250.49" y="613.64" width="31.33" height="31.33" fill="#94ff6b"/>
<rect x="1281.02" y="613.64" width="31.33" height="31.33" fill="#bdff42"/>
<rect x="1311.55" y="613.64" width="31.33" height="31.33" fill="#2effd1"/>
<rect x="1342.08" y="613.64" width="31.33" height="31.33" fill="#8aff75"/>
<rect x="1372.61" y="613.64" width="31.33" height="31.33" fill="#0094ff"/>
<rect x="1403.14" y="613.64" width="31.33" height="31.33" fill="#ff1a00"/>
<rect x="1433.67" y="613.64" width="31.33" height="31.33" fill="#a8ff57"/>
<rect x="1464.20" y="613.64" width="31.33" height="31.33" fill="#00c7ff"/>
<rect x="1494.73" y="613.64" width="31.33" height="31.33" fill="#00b2ff"/>
<rect x="1525.26" y="613.64" width="31.33" height="31.33" fill="#00c7ff"/>
<rect x="1555.79" y="613.64" width="31.33" height="31.33" fill="#b3ff4c"/>
<rect x="1586.32" y="613.64" width="31.33" height="31.33" fill="#b3ff4c"/>
<rect x="1616.85" y="613.64" width="31.33" height="31.33" fill="#2effd1"/>
<rect x="1647.38" y="613.64" width="31.33" height="31.33" fill="#94ff6b"/>
<rect x="1677.91" y="613.64" width="31.33" height="31.33" fill="#00d1ff"/>
<rect x="1158.90" y="644.17" width="31.33" height="31.33" fill="#00faff"/>
<rect x="1189.43" y="644.17" width="31.33" height="31.33" fill="#00faff"/>
<rect x="1219.96" y="644.17" width="31.33" height="31.33" fill="#24ffdb"/>
<rect x="1250.49" y="644.17" width="31.33" height="31.33" fill="#80ff80"/>
<rect x="1281.02" y="644.17" width="31.33" height="31.33" fill="#8aff75"/>
<rect x="1311.55" y="644.17" width="31.33" height="31.33" fill="#38ffc7"/>
<rect x="1342.08" y="644.17" width="31.33" height="31.33" fill="#8aff75"/>
<rect x="1372.61" y="644.17" width="31.33" height="31.33" fill="#38ffc7"/>
<rect x="1403.14" y="644.17" width="31.33" height="31.33" fill="#8aff75"/>
<rect x="1433.67" y="644.17" width="31.33" height="31.33" fill="#ff2400"/>
<rect x="1464.20" y="644.17" width="31.33" height="31.33" fill="#1affe5"/>
<rect x="1494.73" y="644.17" width="31.33" height="31.33" fill="#05fffa"/>
<rect x="1525.26" y="644.17" width="31.33" height="31.33" fill="#24ffdb"/>
<rect x="1555.79" y="644.17" width="31.33" height="31.33" fill="#9eff61"/>
<rect x="1586.32" y="644.17" width="31.33" height="31.33" fill="#94ff6b"/>
<rect x="1616.85" y="644.17" width="31.33" height="31.33" fill="#2effd1"/>
<rect x="1647.38" y="644.17" width="31.33" height="31.33" fill="#bdff42"/>
<rect x="1677.91" y="644.17" width="31.33" height="31.33" fill="#b3ff4c"/>
<rect x="1708.44" y="644.17" width="31.33" height="31.33" fill="#bdff42"/>
<rect x="1155.9" y="370.6" width="307.6" height="308.3" fill="none" stroke="#fff" stroke-width="3.2"/>
<rect x="1152.9" y="674.7" width="330.0" height="8.0" fill="#fff"/>
<rect x="1150.9" y="367.4" width="8.0" height="320.0" fill="#fff"/>
<line x1="1160.4" y1="373.2" x2="1459" y2="672" stroke="#fff" stroke-width="5.2" stroke-dasharray="5 5.5"/>
<path d="M1313.0 524.0H1341.3V552.6H1313.0ZM1313.0 524.0L1341.3 552.6M1341.3 524.0L1313.0 552.6" fill="none" stroke="#000" stroke-width="1.8"/>
<path d="M1467.0 461.4H1495.2V490.0H1467.0ZM1467.0 461.4L1495.2 490.0M1495.2 461.4L1467.0 490.0" fill="none" stroke="#000" stroke-width="1.8"/>
<path d="M1587.2 521.7H1615.9V550.0H1587.2ZM1587.2 521.7L1615.9 550.0M1615.9 521.7L1587.2 550.0" fill="none" stroke="#000" stroke-width="1.8"/>
<text x="1307.00" y="413.50" font-size="38.70" fill="#000" stroke="#000" stroke-width="0.60" textLength="133.86" lengthAdjust="spacingAndGlyphs">LPM vs.</text>
<text x="1307.00" y="465.80" font-size="38.70" fill="#000" stroke="#000" stroke-width="0.60" textLength="82.34" lengthAdjust="spacingAndGlyphs">RPM</text>
<text x="1502.90" y="331.90" font-size="38.70" fill="#fff" stroke="#fff" stroke-width="0.60" textLength="126.33" lengthAdjust="spacingAndGlyphs">RV1 vs.</text>
<text x="1502.90" y="384.20" font-size="38.70" fill="#fff" stroke="#fff" stroke-width="0.60" textLength="48.25" lengthAdjust="spacingAndGlyphs">RA</text>
<text x="1608.80" y="435.00" font-size="38.70" fill="#fff" stroke="#fff" stroke-width="0.60" textLength="141.81" lengthAdjust="spacingAndGlyphs">RAM vs.</text>
<text x="1608.80" y="486.50" font-size="38.70" fill="#fff" stroke="#fff" stroke-width="0.60" textLength="82.34" lengthAdjust="spacingAndGlyphs">RPM</text>
<line x1="1378.4" y1="481.5" x2="1357.1" y2="504.3" stroke="#000" stroke-width="2"/>
<polygon points="1342.0,520.3 1351.9,496.6 1365.0,509.0" fill="#000"/>
<line x1="1541.2" y1="395.8" x2="1499.1" y2="442.1" stroke="#fff" stroke-width="2"/>
<polygon points="1484.3,458.4 1493.8,434.6 1507.1,446.7" fill="#fff"/>
<line x1="1684.3" y1="502.1" x2="1641.4" y2="527.0" stroke="#fff" stroke-width="2"/>
<polygon points="1622.4,538.0 1638.6,518.2 1647.7,533.7" fill="#fff"/>
<rect x="1721.5" y="95.6" width="25.2" height="200.6" fill="url(#jet)" stroke="#fff" stroke-width="2.6"/>
<text x="1682.53" y="114.20" font-size="22.05" fill="#fff" stroke="#fff" stroke-width="0.34" textLength="30.97" lengthAdjust="spacingAndGlyphs">1,5</text>
<text x="1682.53" y="174.90" font-size="22.05" fill="#fff" stroke="#fff" stroke-width="0.34" textLength="30.97" lengthAdjust="spacingAndGlyphs">1,0</text>
<text x="1682.53" y="235.60" font-size="22.05" fill="#fff" stroke="#fff" stroke-width="0.34" textLength="30.97" lengthAdjust="spacingAndGlyphs">0,5</text>
<text x="1701.08" y="296.30" font-size="22.05" fill="#fff" stroke="#fff" stroke-width="0.34" textLength="12.42" lengthAdjust="spacingAndGlyphs">0</text>
<text x="0.00" y="0.00" font-size="26.55" fill="#fff" stroke="#fff" stroke-width="0.41" textLength="114.00" lengthAdjust="spacingAndGlyphs" transform="translate(1661.50 242.50) rotate(-90)">Fisher z(r)</text>
<clipPath id="c358"><rect x="258.4" y="771.7" width="339.7" height="338.2"/></clipPath>
<g clip-path="url(#c358)">
<rect x="256.4" y="769.7" width="343.7" height="342.2" fill="#00008f"/>
<g filter="url(#bl)">
<rect x="258.40" y="788.61" width="17.79" height="17.71" fill="#ff0f00"/>
<rect x="258.40" y="805.52" width="17.79" height="17.71" fill="#ffd100"/>
<rect x="275.38" y="805.52" width="17.79" height="17.71" fill="#ffbd00"/>
<rect x="258.40" y="822.43" width="17.79" height="17.71" fill="#ffbd00"/>
<rect x="275.38" y="822.43" width="17.79" height="17.71" fill="#ffdb00"/>
<rect x="292.37" y="822.43" width="17.79" height="17.71" fill="#fffa00"/>
<rect x="258.40" y="839.34" width="17.79" height="17.71" fill="#ffe500"/>
<rect x="275.38" y="839.34" width="17.79" height="17.71" fill="#f0ff0f"/>
<rect x="292.37" y="839.34" width="17.79" height="17.71" fill="#b3ff4c"/>
<rect x="309.36" y="839.34" width="17.79" height="17.71" fill="#e50000"/>
<rect x="258.40" y="856.25" width="17.79" height="17.71" fill="#ffa800"/>
<rect x="275.38" y="856.25" width="17.79" height="17.71" fill="#fff000"/>
<rect x="292.37" y="856.25" width="17.79" height="17.71" fill="#b3ff4c"/>
<rect x="309.36" y="856.25" width="17.79" height="17.71" fill="#ff9e00"/>
<rect x="326.34" y="856.25" width="17.79" height="17.71" fill="#ff0f00"/>
<rect x="258.40" y="873.16" width="17.79" height="17.71" fill="#94ff6b"/>
<rect x="275.38" y="873.16" width="17.79" height="17.71" fill="#75ff8a"/>
<rect x="292.37" y="873.16" width="17.79" height="17.71" fill="#61ff9e"/>
<rect x="309.36" y="873.16" width="17.79" height="17.71" fill="#fff000"/>
<rect x="326.34" y="873.16" width="17.79" height="17.71" fill="#ff1a00"/>
<rect x="343.32" y="873.16" width="17.79" height="17.71" fill="#ffa800"/>
<rect x="258.40" y="890.07" width="17.79" height="17.71" fill="#1affe5"/>
<rect x="275.38" y="890.07" width="17.79" height="17.71" fill="#1affe5"/>
<rect x="292.37" y="890.07" width="17.79" height="17.71" fill="#4dffb2"/>
<rect x="309.36" y="890.07" width="17.79" height="17.71" fill="#4dffb2"/>
<rect x="326.34" y="890.07" width="17.79" height="17.71" fill="#00ffff"/>
<rect x="343.32" y="890.07" width="17.79" height="17.71" fill="#00dbff"/>
<rect x="360.31" y="890.07" width="17.79" height="17.71" fill="#00c7ff"/>
<rect x="258.40" y="906.98" width="17.79" height="17.71" fill="#00d1ff"/>
<rect x="275.38" y="906.98" width="17.79" height="17.71" fill="#00bdff"/>
<rect x="292.37" y="906.98" width="17.79" height="17.71" fill="#00dbff"/>
<rect x="309.36" y="906.98" width="17.79" height="17.71" fill="#a8ff57"/>
<rect x="326.34" y="906.98" width="17.79" height="17.71" fill="#d1ff2e"/>
<rect x="343.32" y="906.98" width="17.79" height="17.71" fill="#24ffdb"/>
<rect x="360.31" y="906.98" width="17.79" height="17.71" fill="#80ff80"/>
<rect x="377.30" y="906.98" width="17.79" height="17.71" fill="#00bdff"/>
<rect x="258.40" y="923.89" width="17.79" height="17.71" fill="#1affe5"/>
<rect x="275.38" y="923.89" width="17.79" height="17.71" fill="#1affe5"/>
<rect x="292.37" y="923.89" width="17.79" height="17.71" fill="#4dffb2"/>
<rect x="309.36" y="923.89" width="17.79" height="17.71" fill="#b3ff4c"/>
<rect x="326.34" y="923.89" width="17.79" height="17.71" fill="#b3ff4c"/>
<rect x="343.32" y="923.89" width="17.79" height="17.71" fill="#4dffb2"/>
<rect x="360.31" y="923.89" width="17.79" height="17.71" fill="#b3ff4c"/>
<rect x="377.30" y="923.89" width="17.79" height="17.71" fill="#8aff75"/>
<rect x="394.28" y="923.89" width="17.79" height="17.71" fill="#c7ff38"/>
<rect x="258.40" y="940.80" width="17.79" height="17.71" fill="#9eff61"/>
<rect x="275.38" y="940.80" width="17.79" height="17.71" fill="#94ff6b"/>
<rect x="292.37" y="940.80" width="17.79" height="17.71" fill="#61ff9e"/>
<rect x="309.36" y="940.80" width="17.79" height="17.71" fill="#8aff75"/>
<rect x="326.34" y="940.80" width="17.79" height="17.71" fill="#8aff75"/>
<rect x="343.32" y="940.80" width="17.79" height="17.71" fill="#94ff6b"/>
<rect x="360.31" y="940.80" width="17.79" height="17.71" fill="#4dffb2"/>
<rect x="377.30" y="940.80" width="17.79" height="17.71" fill="#00c7ff"/>
<rect x="394.28" y="940.80" width="17.79" height="17.71" fill="#00a8ff"/>
<rect x="411.26" y="940.80" width="17.79" height="17.71" fill="#00f0ff"/>
<rect x="258.40" y="957.71" width="17.79" height="17.71" fill="#a8ff57"/>
<rect x="275.38" y="957.71" width="17.79" height="17.71" fill="#94ff6b"/>
<rect x="292.37" y="957.71" width="17.79" height="17.71" fill="#61ff9e"/>
<rect x="309.36" y="957.71" width="17.79" height="17.71" fill="#80ff80"/>
<rect x="326.34" y="957.71" width="17.79" height="17.71" fill="#80ff80"/>
<rect x="343.32" y="957.71" width="17.79" height="17.71" fill="#94ff6b"/>
<rect x="360.31" y="957.71" width="17.79" height="17.71" fill="#4dffb2"/>
<rect x="377.30" y="957.71" width="17.79" height="17.71" fill="#00d1ff"/>
<rect x="394.28" y="957.71" width="17.79" height="17.71" fill="#009eff"/>
<rect x="411.26" y="957.71" width="17.79" height="17.71" fill="#00f0ff"/>
<rect x="428.25" y="957.71" width="17.79" height="17.71" fill="#ff0500"/>
<rect x="258.40" y="974.62" width="17.79" height="17.71" fill="#9eff61"/>
<rect x="275.38" y="974.62" width="17.79" height="17.71" fill="#8aff75"/>
<rect x="292.37" y="974.62" width="17.79" height="17.71" fill="#61ff9e"/>
<rect x="309.36" y="974.62" width="17.79" height="17.71" fill="#80ff80"/>
<rect x="326.34" y="974.62" width="17.79" height="17.71" fill="#94ff6b"/>
<rect x="343.32" y="974.62" width="17.79" height="17.71" fill="#8aff75"/>
<rect x="360.31" y="974.62" width="17.79" height="17.71" fill="#38ffc7"/>
<rect x="377.30" y="974.62" width="17.79" height="17.71" fill="#00f0ff"/>
<rect x="394.28" y="974.62" width="17.79" height="17.71" fill="#009eff"/>
<rect x="411.26" y="974.62" width="17.79" height="17.71" fill="#00f0ff"/>
<rect x="428.25" y="974.62" width="17.79" height="17.71" fill="#ff8000"/>
<rect x="445.24" y="974.62" width="17.79" height="17.71" fill="#ff4c00"/>
<rect x="258.40" y="991.53" width="17.79" height="17.71" fill="#94ff6b"/>
<rect x="275.38" y="991.53" width="17.79" height="17.71" fill="#80ff80"/>
<rect x="292.37" y="991.53" width="17.79" height="17.71" fill="#61ff9e"/>
<rect x="309.36" y="991.53" width="17.79" height="17.71" fill="#fff000"/>
<rect x="326.34" y="991.53" width="17.79" height="17.71" fill="#ffc700"/>
<rect x="343.32" y="991.53" width="17.79" height="17.71" fill="#e5ff1a"/>
<rect x="360.31" y="991.53" width="17.79" height="17.71" fill="#e5ff1a"/>
<rect x="377.30" y="991.53" width="17.79" height="17.71" fill="#00faff"/>
<rect x="394.28" y="991.53" width="17.79" height="17.71" fill="#80ff80"/>
<rect x="411.26" y="991.53" width="17.79" height="17.71" fill="#80ff80"/>
<rect x="428.25" y="991.53" width="17.79" height="17.71" fill="#ff8a00"/>
<rect x="445.24" y="991.53" width="17.79" height="17.71" fill="#ffdb00"/>
<rect x="462.22" y="991.53" width="17.79" height="17.71" fill="#ffe500"/>
<rect x="258.40" y="1008.44" width="17.79" height="17.71" fill="#94ff6b"/>
<rect x="275.38" y="1008.44" width="17.79" height="17.71" fill="#75ff8a"/>
<rect x="292.37" y="1008.44" width="17.79" height="17.71" fill="#61ff9e"/>
<rect x="309.36" y="1008.44" width="17.79" height="17.71" fill="#f0ff0f"/>
<rect x="326.34" y="1008.44" width="17.79" height="17.71" fill="#ff8000"/>
<rect x="343.32" y="1008.44" width="17.79" height="17.71" fill="#ffe500"/>
<rect x="360.31" y="1008.44" width="17.79" height="17.71" fill="#ffa800"/>
<rect x="377.30" y="1008.44" width="17.79" height="17.71" fill="#00c7ff"/>
<rect x="394.28" y="1008.44" width="17.79" height="17.71" fill="#75ff8a"/>
<rect x="411.26" y="1008.44" width="17.79" height="17.71" fill="#80ff80"/>
<rect x="428.25" y="1008.44" width="17.79" height="17.71" fill="#ffa800"/>
<rect x="445.24" y="1008.44" width="17.79" height="17.71" fill="#f0ff0f"/>
<rect x="462.22" y="1008.44" width="17.79" height="17.71" fill="#dbff24"/>
<rect x="479.21" y="1008.44" width="17.79" height="17.71" fill="#c70000"/>
<rect x="258.40" y="1025.35" width="17.79" height="17.71" fill="#9eff61"/>
<rect x="275.38" y="1025.35" width="17.79" height="17.71" fill="#75ff8a"/>
<rect x="292.37" y="1025.35" width="17.79" height="17.71" fill="#57ffa8"/>
<rect x="309.36" y="1025.35" width="17.79" height="17.71" fill="#c7ff38"/>
<rect x="326.34" y="1025.35" width="17.79" height="17.71" fill="#fffa00"/>
<rect x="343.32" y="1025.35" width="17.79" height="17.71" fill="#ffe500"/>
<rect x="360.31" y="1025.35" width="17.79" height="17.71" fill="#dbff24"/>
<rect x="377.30" y="1025.35" width="17.79" height="17.71" fill="#00a8ff"/>
<rect x="394.28" y="1025.35" width="17.79" height="17.71" fill="#24ffdb"/>
<rect x="411.26" y="1025.35" width="17.79" height="17.71" fill="#38ffc7"/>
<rect x="428.25" y="1025.35" width="17.79" height="17.71" fill="#ffa800"/>
<rect x="445.24" y="1025.35" width="17.79" height="17.71" fill="#ffff00"/>
<rect x="462.22" y="1025.35" width="17.79" height="17.71" fill="#d1ff2e"/>
<rect x="479.21" y="1025.35" width="17.79" height="17.71" fill="#ff9e00"/>
<rect x="496.19" y="1025.35" width="17.79" height="17.71" fill="#db0000"/>
<rect x="258.40" y="1042.26" width="17.79" height="17.71" fill="#75ff8a"/>
<rect x="275.38" y="1042.26" width="17.79" height="17.71" fill="#61ff9e"/>
<rect x="292.37" y="1042.26" width="17.79" height="17.71" fill="#4dffb2"/>
<rect x="309.36" y="1042.26" width="17.79" height="17.71" fill="#b3ff4c"/>
<rect x="326.34" y="1042.26" width="17.79" height="17.71" fill="#ffc700"/>
<rect x="343.32" y="1042.26" width="17.79" height="17.71" fill="#e5ff1a"/>
<rect x="360.31" y="1042.26" width="17.79" height="17.71" fill="#db0000"/>
<rect x="377.30" y="1042.26" width="17.79" height="17.71" fill="#00d1ff"/>
<rect x="394.28" y="1042.26" width="17.79" height="17.71" fill="#4dffb2"/>
<rect x="411.26" y="1042.26" width="17.79" height="17.71" fill="#a8ff57"/>
<rect x="428.25" y="1042.26" width="17.79" height="17.71" fill="#b3ff4c"/>
<rect x="445.24" y="1042.26" width="17.79" height="17.71" fill="#80ff80"/>
<rect x="462.22" y="1042.26" width="17.79" height="17.71" fill="#75ff8a"/>
<rect x="479.21" y="1042.26" width="17.79" height="17.71" fill="#ffd100"/>
<rect x="496.19" y="1042.26" width="17.79" height="17.71" fill="#ff1a00"/>
<rect x="513.17" y="1042.26" width="17.79" height="17.71" fill="#ff9e00"/>
<rect x="258.40" y="1059.17" width="17.79" height="17.71" fill="#00faff"/>
<rect x="275.38" y="1059.17" width="17.79" height="17.71" fill="#00faff"/>
<rect x="292.37" y="1059.17" width="17.79" height="17.71" fill="#0ffff0"/>
<rect x="309.36" y="1059.17" width="17.79" height="17.71" fill="#1affe5"/>
<rect x="326.34" y="1059.17" width="17.79" height="17.71" fill="#00e5ff"/>
<rect x="343.32" y="1059.17" width="17.79" height="17.71" fill="#00c7ff"/>
<rect x="360.31" y="1059.17" width="17.79" height="17.71" fill="#00dbff"/>
<rect x="377.30" y="1059.17" width="17.79" height="17.71" fill="#2effd1"/>
<rect x="394.28" y="1059.17" width="17.79" height="17.71" fill="#00a8ff"/>
<rect x="411.26" y="1059.17" width="17.79" height="17.71" fill="#2effd1"/>
<rect x="428.25" y="1059.17" width="17.79" height="17.71" fill="#38ffc7"/>
<rect x="445.24" y="1059.17" width="17.79" height="17.71" fill="#38ffc7"/>
<rect x="462.22" y="1059.17" width="17.79" height="17.71" fill="#6bff94"/>
<rect x="479.21" y="1059.17" width="17.79" height="17.71" fill="#75ff8a"/>
<rect x="496.19" y="1059.17" width="17.79" height="17.71" fill="#24ffdb"/>
<rect x="513.17" y="1059.17" width="17.79" height="17.71" fill="#00ffff"/>
<rect x="530.16" y="1059.17" width="17.79" height="17.71" fill="#00f0ff"/>
<rect x="258.40" y="1076.08" width="17.79" height="17.71" fill="#00c7ff"/>
<rect x="275.38" y="1076.08" width="17.79" height="17.71" fill="#00b2ff"/>
<rect x="292.37" y="1076.08" width="17.79" height="17.71" fill="#00b2ff"/>
<rect x="309.36" y="1076.08" width="17.79" height="17.71" fill="#94ff6b"/>
<rect x="326.34" y="1076.08" width="17.79" height="17.71" fill="#bdff42"/>
<rect x="343.32" y="1076.08" width="17.79" height="17.71" fill="#2effd1"/>
<rect x="360.31" y="1076.08" width="17.79" height="17.71" fill="#8aff75"/>
<rect x="377.30" y="1076.08" width="17.79" height="17.71" fill="#0094ff"/>
<rect x="394.28" y="1076.08" width="17.79" height="17.71" fill="#ff1a00"/>
<rect x="411.26" y="1076.08" width="17.79" height="17.71" fill="#a8ff57"/>
<rect x="428.25" y="1076.08" width="17.79" height="17.71" fill="#00c7ff"/>
<rect x="445.24" y="1076.08" width="17.79" height="17.71" fill="#00b2ff"/>
<rect x="462.22" y="1076.08" width="17.79" height="17.71" fill="#00c7ff"/>
<rect x="479.21" y="1076.08" width="17.79" height="17.71" fill="#b3ff4c"/>
<rect x="496.19" y="1076.08" width="17.79" height="17.71" fill="#b3ff4c"/>
<rect x="513.17" y="1076.08" width="17.79" height="17.71" fill="#2effd1"/>
<rect x="530.16" y="1076.08" width="17.79" height="17.71" fill="#94ff6b"/>
<rect x="547.14" y="1076.08" width="17.79" height="17.71" fill="#00d1ff"/>
<rect x="258.40" y="1092.99" width="17.79" height="17.71" fill="#00faff"/>
<rect x="275.38" y="1092.99" width="17.79" height="17.71" fill="#00faff"/>
<rect x="292.37" y="1092.99" width="17.79" height="17.71" fill="#24ffdb"/>
<rect x="309.36" y="1092.99" width="17.79" height="17.71" fill="#80ff80"/>
<rect x="326.34" y="1092.99" width="17.79" height="17.71" fill="#8aff75"/>
<rect x="343.32" y="1092.99" width="17.79" height="17.71" fill="#38ffc7"/>
<rect x="360.31" y="1092.99" width="17.79" height="17.71" fill="#8aff75"/>
<rect x="377.30" y="1092.99" width="17.79" height="17.71" fill="#38ffc7"/>
<rect x="394.28" y="1092.99" width="17.79" height="17.71" fill="#8aff75"/>
<rect x="411.26" y="1092.99" width="17.79" height="17.71" fill="#ff2400"/>
<rect x="428.25" y="1092.99" width="17.79" height="17.71" fill="#1affe5"/>
<rect x="445.24" y="1092.99" width="17.79" height="17.71" fill="#05fffa"/>
<rect x="462.22" y="1092.99" width="17.79" height="17.71" fill="#24ffdb"/>
<rect x="479.21" y="1092.99" width="17.79" height="17.71" fill="#9eff61"/>
<rect x="496.19" y="1092.99" width="17.79" height="17.71" fill="#94ff6b"/>
<rect x="513.17" y="1092.99" width="17.79" height="17.71" fill="#2effd1"/>
<rect x="530.16" y="1092.99" width="17.79" height="17.71" fill="#bdff42"/>
<rect x="547.14" y="1092.99" width="17.79" height="17.71" fill="#b3ff4c"/>
<rect x="564.13" y="1092.99" width="17.79" height="17.71" fill="#bdff42"/>
<path d="M266.9 791.3L269.6 794.4L272.7 797.1L269.6 799.7L266.9 802.9L264.2 799.7L261.1 797.1L264.2 794.4ZM266.9 808.2L269.6 811.3L272.7 814.0L269.6 816.6L266.9 819.8L264.2 816.6L261.1 814.0L264.2 811.3ZM283.9 808.2L286.5 811.3L289.7 814.0L286.5 816.6L283.9 819.8L281.2 816.6L278.1 814.0L281.2 811.3ZM266.9 825.1L269.6 828.2L272.7 830.9L269.6 833.6L266.9 836.7L264.2 833.6L261.1 830.9L264.2 828.2ZM283.9 825.1L286.5 828.2L289.7 830.9L286.5 833.6L283.9 836.7L281.2 833.6L278.1 830.9L281.2 828.2ZM300.9 825.1L303.5 828.2L306.7 830.9L303.5 833.6L300.9 836.7L298.2 833.6L295.1 830.9L298.2 828.2ZM266.9 842.0L269.6 845.1L272.7 847.8L269.6 850.5L266.9 853.6L264.2 850.5L261.1 847.8L264.2 845.1ZM283.9 842.0L286.5 845.1L289.7 847.8L286.5 850.5L283.9 853.6L281.2 850.5L278.1 847.8L281.2 845.1ZM300.9 842.0L303.5 845.1L306.7 847.8L303.5 850.5L300.9 853.6L298.2 850.5L295.1 847.8L298.2 845.1ZM317.8 842.0L320.5 845.1L323.6 847.8L320.5 850.5L317.8 853.6L315.2 850.5L312.0 847.8L315.2 845.1ZM266.9 858.9L269.6 862.0L272.7 864.7L269.6 867.4L266.9 870.5L264.2 867.4L261.1 864.7L264.2 862.0ZM283.9 858.9L286.5 862.0L289.7 864.7L286.5 867.4L283.9 870.5L281.2 867.4L278.1 864.7L281.2 862.0ZM300.9 858.9L303.5 862.0L306.7 864.7L303.5 867.4L300.9 870.5L298.2 867.4L295.1 864.7L298.2 862.0ZM266.9 875.8L269.6 878.9L272.7 881.6L269.6 884.3L266.9 887.4L264.2 884.3L261.1 881.6L264.2 878.9ZM283.9 875.8L286.5 878.9L289.7 881.6L286.5 884.3L283.9 887.4L281.2 884.3L278.1 881.6L281.2 878.9ZM300.9 875.8L303.5 878.9L306.7 881.6L303.5 884.3L300.9 887.4L298.2 884.3L295.1 881.6L298.2 878.9ZM317.8 875.8L320.5 878.9L323.6 881.6L320.5 884.3L317.8 887.4L315.2 884.3L312.0 881.6L315.2 878.9ZM334.8 875.8L337.5 878.9L340.6 881.6L337.5 884.3L334.8 887.4L332.2 884.3L329.0 881.6L332.2 878.9ZM351.8 875.8L354.5 878.9L357.6 881.6L354.5 884.3L351.8 887.4L349.1 884.3L346.0 881.6L349.1 878.9ZM266.9 909.6L269.6 912.8L272.7 915.4L269.6 918.1L266.9 921.2L264.2 918.1L261.1 915.4L264.2 912.8ZM317.8 909.6L320.5 912.8L323.6 915.4L320.5 918.1L317.8 921.2L315.2 918.1L312.0 915.4L315.2 912.8ZM334.8 909.6L337.5 912.8L340.6 915.4L337.5 918.1L334.8 921.2L332.2 918.1L329.0 915.4L332.2 912.8ZM351.8 909.6L354.5 912.8L357.6 915.4L354.5 918.1L351.8 921.2L349.1 918.1L346.0 915.4L349.1 912.8ZM368.8 909.6L371.5 912.8L374.6 915.4L371.5 918.1L368.8 921.2L366.1 918.1L363.0 915.4L366.1 912.8ZM351.8 926.5L354.5 929.7L357.6 932.3L354.5 935.0L351.8 938.1L349.1 935.0L346.0 932.3L349.1 929.7ZM368.8 926.5L371.5 929.7L374.6 932.3L371.5 935.0L368.8 938.1L366.1 935.0L363.0 932.3L366.1 929.7ZM402.8 926.5L405.4 929.7L408.6 932.3L405.4 935.0L402.8 938.1L400.1 935.0L397.0 932.3L400.1 929.7ZM266.9 943.5L269.6 946.6L272.7 949.3L269.6 951.9L266.9 955.1L264.2 951.9L261.1 949.3L264.2 946.6ZM283.9 943.5L286.5 946.6L289.7 949.3L286.5 951.9L283.9 955.1L281.2 951.9L278.1 949.3L281.2 946.6ZM300.9 943.5L303.5 946.6L306.7 949.3L303.5 951.9L300.9 955.1L298.2 951.9L295.1 949.3L298.2 946.6ZM317.8 943.5L320.5 946.6L323.6 949.3L320.5 951.9L317.8 955.1L315.2 951.9L312.0 949.3L315.2 946.6ZM334.8 943.5L337.5 946.6L340.6 949.3L337.5 951.9L334.8 955.1L332.2 951.9L329.0 949.3L332.2 946.6ZM351.8 943.5L354.5 946.6L357.6 949.3L354.5 951.9L351.8 955.1L349.1 951.9L346.0 949.3L349.1 946.6ZM368.8 943.5L371.5 946.6L374.6 949.3L371.5 951.9L368.8 955.1L366.1 951.9L363.0 949.3L366.1 946.6ZM419.8 943.5L422.4 946.6L425.6 949.3L422.4 951.9L419.8 955.1L417.1 951.9L414.0 949.3L417.1 946.6ZM266.9 960.4L269.6 963.5L272.7 966.2L269.6 968.8L266.9 972.0L264.2 968.8L261.1 966.2L264.2 963.5ZM283.9 960.4L286.5 963.5L289.7 966.2L286.5 968.8L283.9 972.0L281.2 968.8L278.1 966.2L281.2 963.5ZM300.9 960.4L303.5 963.5L306.7 966.2L303.5 968.8L300.9 972.0L298.2 968.8L295.1 966.2L298.2 963.5ZM317.8 960.4L320.5 963.5L323.6 966.2L320.5 968.8L317.8 972.0L315.2 968.8L312.0 966.2L315.2 963.5ZM334.8 960.4L337.5 963.5L340.6 966.2L337.5 968.8L334.8 972.0L332.2 968.8L329.0 966.2L332.2 963.5ZM351.8 960.4L354.5 963.5L357.6 966.2L354.5 968.8L351.8 972.0L349.1 968.8L346.0 966.2L349.1 963.5ZM368.8 960.4L371.5 963.5L374.6 966.2L371.5 968.8L368.8 972.0L366.1 968.8L363.0 966.2L366.1 963.5ZM419.8 960.4L422.4 963.5L425.6 966.2L422.4 968.8L419.8 972.0L417.1 968.8L414.0 966.2L417.1 963.5ZM436.7 960.4L439.4 963.5L442.5 966.2L439.4 968.8L436.7 972.0L434.1 968.8L430.9 966.2L434.1 963.5ZM266.9 977.3L269.6 980.4L272.7 983.1L269.6 985.7L266.9 988.9L264.2 985.7L261.1 983.1L264.2 980.4ZM283.9 977.3L286.5 980.4L289.7 983.1L286.5 985.7L283.9 988.9L281.2 985.7L278.1 983.1L281.2 980.4ZM300.9 977.3L303.5 980.4L306.7 983.1L303.5 985.7L300.9 988.9L298.2 985.7L295.1 983.1L298.2 980.4ZM317.8 977.3L320.5 980.4L323.6 983.1L320.5 985.7L317.8 988.9L315.2 985.7L312.0 983.1L315.2 980.4ZM334.8 977.3L337.5 980.4L340.6 983.1L337.5 985.7L334.8 988.9L332.2 985.7L329.0 983.1L332.2 980.4ZM351.8 977.3L354.5 980.4L357.6 983.1L354.5 985.7L351.8 988.9L349.1 985.7L346.0 983.1L349.1 980.4ZM368.8 977.3L371.5 980.4L374.6 983.1L371.5 985.7L368.8 988.9L366.1 985.7L363.0 983.1L366.1 980.4ZM436.7 977.3L439.4 980.4L442.5 983.1L439.4 985.7L436.7 988.9L434.1 985.7L430.9 983.1L434.1 980.4ZM453.7 977.3L456.4 980.4L459.5 983.1L456.4 985.7L453.7 988.9L451.1 985.7L447.9 983.1L451.1 980.4ZM266.9 994.2L269.6 997.3L272.7 1000.0L269.6 1002.7L266.9 1005.8L264.2 1002.7L261.1 1000.0L264.2 997.3ZM283.9 994.2L286.5 997.3L289.7 1000.0L286.5 1002.7L283.9 1005.8L281.2 1002.7L278.1 1000.0L281.2 997.3ZM300.9 994.2L303.5 997.3L306.7 1000.0L303.5 1002.7L300.9 1005.8L298.2 1002.7L295.1 1000.0L298.2 997.3ZM317.8 994.2L320.5 997.3L323.6 1000.0L320.5 1002.7L317.8 1005.8L315.2 1002.7L312.0 1000.0L315.2 997.3ZM334.8 994.2L337.5 997.3L340.6 1000.0L337.5 1002.7L334.8 1005.8L332.2 1002.7L329.0 1000.0L332.2 997.3ZM351.8 994.2L354.5 997.3L357.6 1000.0L354.5 1002.7L351.8 1005.8L349.1 1002.7L346.0 1000.0L349.1 997.3ZM368.8 994.2L371.5 997.3L374.6 1000.0L371.5 1002.7L368.8 1005.8L366.1 1002.7L363.0 1000.0L366.1 997.3ZM402.8 994.2L405.4 997.3L408.6 1000.0L405.4 1002.7L402.8 1005.8L400.1 1002.7L397.0 1000.0L400.1 997.3ZM436.7 994.2L439.4 997.3L442.5 1000.0L439.4 1002.7L436.7 1005.8L434.1 1002.7L430.9 1000.0L434.1 997.3ZM453.7 994.2L456.4 997.3L459.5 1000.0L456.4 1002.7L453.7 1005.8L451.1 1002.7L447.9 1000.0L451.1 997.3ZM470.7 994.2L473.4 997.3L476.5 1000.0L473.4 1002.7L470.7 1005.8L468.0 1002.7L464.9 1000.0L468.0 997.3ZM266.9 1011.1L269.6 1014.2L272.7 1016.9L269.6 1019.6L266.9 1022.7L264.2 1019.6L261.1 1016.9L264.2 1014.2ZM283.9 1011.1L286.5 1014.2L289.7 1016.9L286.5 1019.6L283.9 1022.7L281.2 1019.6L278.1 1016.9L281.2 1014.2ZM300.9 1011.1L303.5 1014.2L306.7 1016.9L303.5 1019.6L300.9 1022.7L298.2 1019.6L295.1 1016.9L298.2 1014.2ZM317.8 1011.1L320.5 1014.2L323.6 1016.9L320.5 1019.6L317.8 1022.7L315.2 1019.6L312.0 1016.9L315.2 1014.2ZM334.8 1011.1L337.5 1014.2L340.6 1016.9L337.5 1019.6L334.8 1022.7L332.2 1019.6L329.0 1016.9L332.2 1014.2ZM351.8 1011.1L354.5 1014.2L357.6 1016.9L354.5 1019.6L351.8 1022.7L349.1 1019.6L346.0 1016.9L349.1 1014.2ZM368.8 1011.1L371.5 1014.2L374.6 1016.9L371.5 1019.6L368.8 1022.7L366.1 1019.6L363.0 1016.9L366.1 1014.2ZM402.8 1011.1L405.4 1014.2L408.6 1016.9L405.4 1019.6L402.8 1022.7L400.1 1019.6L397.0 1016.9L400.1 1014.2ZM436.7 1011.1L439.4 1014.2L442.5 1016.9L439.4 1019.6L436.7 1022.7L434.1 1019.6L430.9 1016.9L434.1 1014.2ZM453.7 1011.1L456.4 1014.2L459.5 1016.9L456.4 1019.6L453.7 1022.7L451.1 1019.6L447.9 1016.9L451.1 1014.2ZM470.7 1011.1L473.4 1014.2L476.5 1016.9L473.4 1019.6L470.7 1022.7L468.0 1019.6L464.9 1016.9L468.0 1014.2ZM487.7 1011.1L490.4 1014.2L493.5 1016.9L490.4 1019.6L487.7 1022.7L485.0 1019.6L481.9 1016.9L485.0 1014.2ZM266.9 1028.0L269.6 1031.1L272.7 1033.8L269.6 1036.5L266.9 1039.6L264.2 1036.5L261.1 1033.8L264.2 1031.1ZM283.9 1028.0L286.5 1031.1L289.7 1033.8L286.5 1036.5L283.9 1039.6L281.2 1036.5L278.1 1033.8L281.2 1031.1ZM300.9 1028.0L303.5 1031.1L306.7 1033.8L303.5 1036.5L300.9 1039.6L298.2 1036.5L295.1 1033.8L298.2 1031.1ZM317.8 1028.0L320.5 1031.1L323.6 1033.8L320.5 1036.5L317.8 1039.6L315.2 1036.5L312.0 1033.8L315.2 1031.1ZM334.8 1028.0L337.5 1031.1L340.6 1033.8L337.5 1036.5L334.8 1039.6L332.2 1036.5L329.0 1033.8L332.2 1031.1ZM351.8 1028.0L354.5 1031.1L357.6 1033.8L354.5 1036.5L351.8 1039.6L349.1 1036.5L346.0 1033.8L349.1 1031.1ZM368.8 1028.0L371.5 1031.1L374.6 1033.8L371.5 1036.5L368.8 1039.6L366.1 1036.5L363.0 1033.8L366.1 1031.1ZM402.8 1028.0L405.4 1031.1L408.6 1033.8L405.4 1036.5L402.8 1039.6L400.1 1036.5L397.0 1033.8L400.1 1031.1ZM436.7 1028.0L439.4 1031.1L442.5 1033.8L439.4 1036.5L436.7 1039.6L434.1 1036.5L430.9 1033.8L434.1 1031.1ZM453.7 1028.0L456.4 1031.1L459.5 1033.8L456.4 1036.5L453.7 1039.6L451.1 1036.5L447.9 1033.8L451.1 1031.1ZM470.7 1028.0L473.4 1031.1L476.5 1033.8L473.4 1036.5L470.7 1039.6L468.0 1036.5L464.9 1033.8L468.0 1031.1ZM487.7 1028.0L490.4 1031.1L493.5 1033.8L490.4 1036.5L487.7 1039.6L485.0 1036.5L481.9 1033.8L485.0 1031.1ZM504.7 1028.0L507.4 1031.1L510.5 1033.8L507.4 1036.5L504.7 1039.6L502.0 1036.5L498.9 1033.8L502.0 1031.1ZM266.9 1044.9L269.6 1048.0L272.7 1050.7L269.6 1053.4L266.9 1056.5L264.2 1053.4L261.1 1050.7L264.2 1048.0ZM283.9 1044.9L286.5 1048.0L289.7 1050.7L286.5 1053.4L283.9 1056.5L281.2 1053.4L278.1 1050.7L281.2 1048.0ZM300.9 1044.9L303.5 1048.0L306.7 1050.7L303.5 1053.4L300.9 1056.5L298.2 1053.4L295.1 1050.7L298.2 1048.0ZM317.8 1044.9L320.5 1048.0L323.6 1050.7L320.5 1053.4L317.8 1056.5L315.2 1053.4L312.0 1050.7L315.2 1048.0ZM334.8 1044.9L337.5 1048.0L340.6 1050.7L337.5 1053.4L334.8 1056.5L332.2 1053.4L329.0 1050.7L332.2 1048.0ZM351.8 1044.9L354.5 1048.0L357.6 1050.7L354.5 1053.4L351.8 1056.5L349.1 1053.4L346.0 1050.7L349.1 1048.0ZM368.8 1044.9L371.5 1048.0L374.6 1050.7L371.5 1053.4L368.8 1056.5L366.1 1053.4L363.0 1050.7L366.1 1048.0ZM402.8 1044.9L405.4 1048.0L408.6 1050.7L405.4 1053.4L402.8 1056.5L400.1 1053.4L397.0 1050.7L400.1 1048.0ZM436.7 1044.9L439.4 1048.0L442.5 1050.7L439.4 1053.4L436.7 1056.5L434.1 1053.4L430.9 1050.7L434.1 1048.0ZM453.7 1044.9L456.4 1048.0L459.5 1050.7L456.4 1053.4L453.7 1056.5L451.1 1053.4L447.9 1050.7L451.1 1048.0ZM470.7 1044.9L473.4 1048.0L476.5 1050.7L473.4 1053.4L470.7 1056.5L468.0 1053.4L464.9 1050.7L468.0 1048.0ZM487.7 1044.9L490.4 1048.0L493.5 1050.7L490.4 1053.4L487.7 1056.5L485.0 1053.4L481.9 1050.7L485.0 1048.0ZM504.7 1044.9L507.4 1048.0L510.5 1050.7L507.4 1053.4L504.7 1056.5L502.0 1053.4L498.9 1050.7L502.0 1048.0ZM521.7 1044.9L524.3 1048.0L527.5 1050.7L524.3 1053.4L521.7 1056.5L519.0 1053.4L515.9 1050.7L519.0 1048.0ZM266.9 1061.8L269.6 1065.0L272.7 1067.6L269.6 1070.3L266.9 1073.4L264.2 1070.3L261.1 1067.6L264.2 1065.0ZM283.9 1061.8L286.5 1065.0L289.7 1067.6L286.5 1070.3L283.9 1073.4L281.2 1070.3L278.1 1067.6L281.2 1065.0ZM300.9 1061.8L303.5 1065.0L306.7 1067.6L303.5 1070.3L300.9 1073.4L298.2 1070.3L295.1 1067.6L298.2 1065.0ZM317.8 1061.8L320.5 1065.0L323.6 1067.6L320.5 1070.3L317.8 1073.4L315.2 1070.3L312.0 1067.6L315.2 1065.0ZM334.8 1061.8L337.5 1065.0L340.6 1067.6L337.5 1070.3L334.8 1073.4L332.2 1070.3L329.0 1067.6L332.2 1065.0ZM436.7 1061.8L439.4 1065.0L442.5 1067.6L439.4 1070.3L436.7 1073.4L434.1 1070.3L430.9 1067.6L434.1 1065.0ZM453.7 1061.8L456.4 1065.0L459.5 1067.6L456.4 1070.3L453.7 1073.4L451.1 1070.3L447.9 1067.6L451.1 1065.0ZM487.7 1061.8L490.4 1065.0L493.5 1067.6L490.4 1070.3L487.7 1073.4L485.0 1070.3L481.9 1067.6L485.0 1065.0ZM538.7 1061.8L541.3 1065.0L544.5 1067.6L541.3 1070.3L538.7 1073.4L536.0 1070.3L532.9 1067.6L536.0 1065.0ZM317.8 1078.7L320.5 1081.9L323.6 1084.5L320.5 1087.2L317.8 1090.3L315.2 1087.2L312.0 1084.5L315.2 1081.9ZM334.8 1078.7L337.5 1081.9L340.6 1084.5L337.5 1087.2L334.8 1090.3L332.2 1087.2L329.0 1084.5L332.2 1081.9ZM351.8 1078.7L354.5 1081.9L357.6 1084.5L354.5 1087.2L351.8 1090.3L349.1 1087.2L346.0 1084.5L349.1 1081.9ZM368.8 1078.7L371.5 1081.9L374.6 1084.5L371.5 1087.2L368.8 1090.3L366.1 1087.2L363.0 1084.5L366.1 1081.9ZM419.8 1078.7L422.4 1081.9L425.6 1084.5L422.4 1087.2L419.8 1090.3L417.1 1087.2L414.0 1084.5L417.1 1081.9ZM487.7 1078.7L490.4 1081.9L493.5 1084.5L490.4 1087.2L487.7 1090.3L485.0 1087.2L481.9 1084.5L485.0 1081.9ZM521.7 1078.7L524.3 1081.9L527.5 1084.5L524.3 1087.2L521.7 1090.3L519.0 1087.2L515.9 1084.5L519.0 1081.9ZM538.7 1078.7L541.3 1081.9L544.5 1084.5L541.3 1087.2L538.7 1090.3L536.0 1087.2L532.9 1084.5L536.0 1081.9ZM283.9 1095.6L286.5 1098.8L289.7 1101.4L286.5 1104.1L283.9 1107.2L281.2 1104.1L278.1 1101.4L281.2 1098.8ZM300.9 1095.6L303.5 1098.8L306.7 1101.4L303.5 1104.1L300.9 1107.2L298.2 1104.1L295.1 1101.4L298.2 1098.8ZM317.8 1095.6L320.5 1098.8L323.6 1101.4L320.5 1104.1L317.8 1107.2L315.2 1104.1L312.0 1101.4L315.2 1098.8ZM351.8 1095.6L354.5 1098.8L357.6 1101.4L354.5 1104.1L351.8 1107.2L349.1 1104.1L346.0 1101.4L349.1 1098.8ZM385.8 1095.6L388.5 1098.8L391.6 1101.4L388.5 1104.1L385.8 1107.2L383.1 1104.1L380.0 1101.4L383.1 1098.8ZM419.8 1095.6L422.4 1098.8L425.6 1101.4L422.4 1104.1L419.8 1107.2L417.1 1104.1L414.0 1101.4L417.1 1098.8ZM436.7 1095.6L439.4 1098.8L442.5 1101.4L439.4 1104.1L436.7 1107.2L434.1 1104.1L430.9 1101.4L434.1 1098.8ZM453.7 1095.6L456.4 1098.8L459.5 1101.4L456.4 1104.1L453.7 1107.2L451.1 1104.1L447.9 1101.4L451.1 1098.8Z" fill="#fff"/>
</g>
<line x1="428.2" y1="771.7" x2="428.2" y2="1109.9" stroke="#000" stroke-width="1.8"/>
<line x1="258.4" y1="940.8" x2="598.1" y2="940.8" stroke="#000" stroke-width="1.8"/>
</g>
<line x1="258.4" y1="763.7" x2="258.4" y2="1109.9" stroke="#111" stroke-width="1.6"/>
<line x1="597.4" y1="763.7" x2="597.4" y2="771.7" stroke="#444" stroke-width="1.4"/>
<line x1="250" y1="940.6" x2="259" y2="940.6" stroke="#333" stroke-width="1.5"/>
<clipPath id="c560"><rect x="634.5" y="771.7" width="342.5" height="316.3"/></clipPath>
<g clip-path="url(#c560)">
<rect x="632.5" y="769.7" width="346.5" height="342.2" fill="#00008f"/>
<g filter="url(#bl)">
<rect x="637.90" y="788.61" width="17.76" height="17.71" fill="#ff0500"/>
<rect x="637.90" y="805.52" width="17.76" height="17.71" fill="#ffbd00"/>
<rect x="654.86" y="805.52" width="17.76" height="17.71" fill="#ffa800"/>
<rect x="637.90" y="822.43" width="17.76" height="17.71" fill="#ff9400"/>
<rect x="654.86" y="822.43" width="17.76" height="17.71" fill="#ffc700"/>
<rect x="671.81" y="822.43" width="17.76" height="17.71" fill="#ffdb00"/>
<rect x="637.90" y="839.34" width="17.76" height="17.71" fill="#ffbd00"/>
<rect x="654.86" y="839.34" width="17.76" height="17.71" fill="#fffa00"/>
<rect x="671.81" y="839.34" width="17.76" height="17.71" fill="#dbff24"/>
<rect x="688.76" y="839.34" width="17.76" height="17.71" fill="#c70000"/>
<rect x="637.90" y="856.25" width="17.76" height="17.71" fill="#ff8a00"/>
<rect x="654.86" y="856.25" width="17.76" height="17.71" fill="#ffc700"/>
<rect x="671.81" y="856.25" width="17.76" height="17.71" fill="#d1ff2e"/>
<rect x="688.76" y="856.25" width="17.76" height="17.71" fill="#ff9400"/>
<rect x="705.72" y="856.25" width="17.76" height="17.71" fill="#ff0f00"/>
<rect x="637.90" y="873.16" width="17.76" height="17.71" fill="#bdff42"/>
<rect x="654.86" y="873.16" width="17.76" height="17.71" fill="#94ff6b"/>
<rect x="671.81" y="873.16" width="17.76" height="17.71" fill="#80ff80"/>
<rect x="688.76" y="873.16" width="17.76" height="17.71" fill="#ffd100"/>
<rect x="705.72" y="873.16" width="17.76" height="17.71" fill="#ff1a00"/>
<rect x="722.67" y="873.16" width="17.76" height="17.71" fill="#ffa800"/>
<rect x="637.90" y="890.07" width="17.76" height="17.71" fill="#2effd1"/>
<rect x="654.86" y="890.07" width="17.76" height="17.71" fill="#2effd1"/>
<rect x="671.81" y="890.07" width="17.76" height="17.71" fill="#4dffb2"/>
<rect x="688.76" y="890.07" width="17.76" height="17.71" fill="#4dffb2"/>
<rect x="705.72" y="890.07" width="17.76" height="17.71" fill="#1affe5"/>
<rect x="722.67" y="890.07" width="17.76" height="17.71" fill="#00faff"/>
<rect x="739.63" y="890.07" width="17.76" height="17.71" fill="#00f0ff"/>
<rect x="637.90" y="906.98" width="17.76" height="17.71" fill="#00c7ff"/>
<rect x="654.86" y="906.98" width="17.76" height="17.71" fill="#00a8ff"/>
<rect x="671.81" y="906.98" width="17.76" height="17.71" fill="#00b2ff"/>
<rect x="688.76" y="906.98" width="17.76" height="17.71" fill="#b3ff4c"/>
<rect x="705.72" y="906.98" width="17.76" height="17.71" fill="#bdff42"/>
<rect x="722.67" y="906.98" width="17.76" height="17.71" fill="#1affe5"/>
<rect x="739.63" y="906.98" width="17.76" height="17.71" fill="#80ff80"/>
<rect x="756.59" y="906.98" width="17.76" height="17.71" fill="#00bdff"/>
<rect x="637.90" y="923.89" width="17.76" height="17.71" fill="#24ffdb"/>
<rect x="654.86" y="923.89" width="17.76" height="17.71" fill="#1affe5"/>
<rect x="671.81" y="923.89" width="17.76" height="17.71" fill="#4dffb2"/>
<rect x="688.76" y="923.89" width="17.76" height="17.71" fill="#a8ff57"/>
<rect x="705.72" y="923.89" width="17.76" height="17.71" fill="#a8ff57"/>
<rect x="722.67" y="923.89" width="17.76" height="17.71" fill="#57ffa8"/>
<rect x="739.63" y="923.89" width="17.76" height="17.71" fill="#b3ff4c"/>
<rect x="756.59" y="923.89" width="17.76" height="17.71" fill="#94ff6b"/>
<rect x="773.54" y="923.89" width="17.76" height="17.71" fill="#c7ff38"/>
<rect x="637.90" y="940.80" width="17.76" height="17.71" fill="#80ff80"/>
<rect x="654.86" y="940.80" width="17.76" height="17.71" fill="#75ff8a"/>
<rect x="671.81" y="940.80" width="17.76" height="17.71" fill="#42ffbd"/>
<rect x="688.76" y="940.80" width="17.76" height="17.71" fill="#42ffbd"/>
<rect x="705.72" y="940.80" width="17.76" height="17.71" fill="#38ffc7"/>
<rect x="722.67" y="940.80" width="17.76" height="17.71" fill="#4dffb2"/>
<rect x="739.63" y="940.80" width="17.76" height="17.71" fill="#2effd1"/>
<rect x="756.59" y="940.80" width="17.76" height="17.71" fill="#00f0ff"/>
<rect x="773.54" y="940.80" width="17.76" height="17.71" fill="#0080ff"/>
<rect x="790.50" y="940.80" width="17.76" height="17.71" fill="#00f0ff"/>
<rect x="637.90" y="957.71" width="17.76" height="17.71" fill="#80ff80"/>
<rect x="654.86" y="957.71" width="17.76" height="17.71" fill="#80ff80"/>
<rect x="671.81" y="957.71" width="17.76" height="17.71" fill="#42ffbd"/>
<rect x="688.76" y="957.71" width="17.76" height="17.71" fill="#38ffc7"/>
<rect x="705.72" y="957.71" width="17.76" height="17.71" fill="#2effd1"/>
<rect x="722.67" y="957.71" width="17.76" height="17.71" fill="#42ffbd"/>
<rect x="739.63" y="957.71" width="17.76" height="17.71" fill="#24ffdb"/>
<rect x="756.59" y="957.71" width="17.76" height="17.71" fill="#00f0ff"/>
<rect x="773.54" y="957.71" width="17.76" height="17.71" fill="#0075ff"/>
<rect x="790.50" y="957.71" width="17.76" height="17.71" fill="#00f0ff"/>
<rect x="807.45" y="957.71" width="17.76" height="17.71" fill="#ff8000"/>
<rect x="637.90" y="974.62" width="17.76" height="17.71" fill="#80ff80"/>
<rect x="654.86" y="974.62" width="17.76" height="17.71" fill="#75ff8a"/>
<rect x="671.81" y="974.62" width="17.76" height="17.71" fill="#42ffbd"/>
<rect x="688.76" y="974.62" width="17.76" height="17.71" fill="#42ffbd"/>
<rect x="705.72" y="974.62" width="17.76" height="17.71" fill="#38ffc7"/>
<rect x="722.67" y="974.62" width="17.76" height="17.71" fill="#42ffbd"/>
<rect x="739.63" y="974.62" width="17.76" height="17.71" fill="#24ffdb"/>
<rect x="756.59" y="974.62" width="17.76" height="17.71" fill="#00faff"/>
<rect x="773.54" y="974.62" width="17.76" height="17.71" fill="#0094ff"/>
<rect x="790.50" y="974.62" width="17.76" height="17.71" fill="#05fffa"/>
<rect x="807.45" y="974.62" width="17.76" height="17.71" fill="#ffc700"/>
<rect x="824.40" y="974.62" width="17.76" height="17.71" fill="#ffbd00"/>
<rect x="637.90" y="991.53" width="17.76" height="17.71" fill="#80ff80"/>
<rect x="654.86" y="991.53" width="17.76" height="17.71" fill="#6bff94"/>
<rect x="671.81" y="991.53" width="17.76" height="17.71" fill="#42ffbd"/>
<rect x="688.76" y="991.53" width="17.76" height="17.71" fill="#d1ff2e"/>
<rect x="705.72" y="991.53" width="17.76" height="17.71" fill="#e5ff1a"/>
<rect x="722.67" y="991.53" width="17.76" height="17.71" fill="#dbff24"/>
<rect x="739.63" y="991.53" width="17.76" height="17.71" fill="#c7ff38"/>
<rect x="756.59" y="991.53" width="17.76" height="17.71" fill="#05fffa"/>
<rect x="773.54" y="991.53" width="17.76" height="17.71" fill="#80ff80"/>
<rect x="790.50" y="991.53" width="17.76" height="17.71" fill="#94ff6b"/>
<rect x="807.45" y="991.53" width="17.76" height="17.71" fill="#ffd100"/>
<rect x="824.40" y="991.53" width="17.76" height="17.71" fill="#dbff24"/>
<rect x="841.36" y="991.53" width="17.76" height="17.71" fill="#e5ff1a"/>
<rect x="637.90" y="1008.44" width="17.76" height="17.71" fill="#75ff8a"/>
<rect x="654.86" y="1008.44" width="17.76" height="17.71" fill="#61ff9e"/>
<rect x="671.81" y="1008.44" width="17.76" height="17.71" fill="#38ffc7"/>
<rect x="688.76" y="1008.44" width="17.76" height="17.71" fill="#d1ff2e"/>
<rect x="705.72" y="1008.44" width="17.76" height="17.71" fill="#ffdb00"/>
<rect x="722.67" y="1008.44" width="17.76" height="17.71" fill="#e5ff1a"/>
<rect x="739.63" y="1008.44" width="17.76" height="17.71" fill="#ffc700"/>
<rect x="756.59" y="1008.44" width="17.76" height="17.71" fill="#00e5ff"/>
<rect x="773.54" y="1008.44" width="17.76" height="17.71" fill="#75ff8a"/>
<rect x="790.50" y="1008.44" width="17.76" height="17.71" fill="#80ff80"/>
<rect x="807.45" y="1008.44" width="17.76" height="17.71" fill="#faff05"/>
<rect x="824.40" y="1008.44" width="17.76" height="17.71" fill="#b3ff4c"/>
<rect x="841.36" y="1008.44" width="17.76" height="17.71" fill="#a8ff57"/>
<rect x="858.32" y="1008.44" width="17.76" height="17.71" fill="#ff0500"/>
<rect x="637.90" y="1025.35" width="17.76" height="17.71" fill="#75ff8a"/>
<rect x="654.86" y="1025.35" width="17.76" height="17.71" fill="#57ffa8"/>
<rect x="671.81" y="1025.35" width="17.76" height="17.71" fill="#2effd1"/>
<rect x="688.76" y="1025.35" width="17.76" height="17.71" fill="#80ff80"/>
<rect x="705.72" y="1025.35" width="17.76" height="17.71" fill="#d1ff2e"/>
<rect x="722.67" y="1025.35" width="17.76" height="17.71" fill="#dbff24"/>
<rect x="739.63" y="1025.35" width="17.76" height="17.71" fill="#bdff42"/>
<rect x="756.59" y="1025.35" width="17.76" height="17.71" fill="#00bdff"/>
<rect x="773.54" y="1025.35" width="17.76" height="17.71" fill="#00faff"/>
<rect x="790.50" y="1025.35" width="17.76" height="17.71" fill="#42ffbd"/>
<rect x="807.45" y="1025.35" width="17.76" height="17.71" fill="#ffe500"/>
<rect x="824.40" y="1025.35" width="17.76" height="17.71" fill="#c7ff38"/>
<rect x="841.36" y="1025.35" width="17.76" height="17.71" fill="#94ff6b"/>
<rect x="858.32" y="1025.35" width="17.76" height="17.71" fill="#ffdb00"/>
<rect x="875.27" y="1025.35" width="17.76" height="17.71" fill="#ff6b00"/>
<rect x="637.90" y="1042.26" width="17.76" height="17.71" fill="#61ff9e"/>
<rect x="654.86" y="1042.26" width="17.76" height="17.71" fill="#42ffbd"/>
<rect x="671.81" y="1042.26" width="17.76" height="17.71" fill="#1affe5"/>
<rect x="688.76" y="1042.26" width="17.76" height="17.71" fill="#9eff61"/>
<rect x="705.72" y="1042.26" width="17.76" height="17.71" fill="#fffa00"/>
<rect x="722.67" y="1042.26" width="17.76" height="17.71" fill="#bdff42"/>
<rect x="739.63" y="1042.26" width="17.76" height="17.71" fill="#ff0500"/>
<rect x="756.59" y="1042.26" width="17.76" height="17.71" fill="#00c7ff"/>
<rect x="773.54" y="1042.26" width="17.76" height="17.71" fill="#42ffbd"/>
<rect x="790.50" y="1042.26" width="17.76" height="17.71" fill="#9eff61"/>
<rect x="807.45" y="1042.26" width="17.76" height="17.71" fill="#a8ff57"/>
<rect x="824.40" y="1042.26" width="17.76" height="17.71" fill="#61ff9e"/>
<rect x="841.36" y="1042.26" width="17.76" height="17.71" fill="#57ffa8"/>
<rect x="858.32" y="1042.26" width="17.76" height="17.71" fill="#ffdb00"/>
<rect x="875.27" y="1042.26" width="17.76" height="17.71" fill="#ff4200"/>
<rect x="892.23" y="1042.26" width="17.76" height="17.71" fill="#ffbd00"/>
<rect x="637.90" y="1059.17" width="17.76" height="17.71" fill="#00faff"/>
<rect x="654.86" y="1059.17" width="17.76" height="17.71" fill="#00f0ff"/>
<rect x="671.81" y="1059.17" width="17.76" height="17.71" fill="#00faff"/>
<rect x="688.76" y="1059.17" width="17.76" height="17.71" fill="#00f0ff"/>
<rect x="705.72" y="1059.17" width="17.76" height="17.71" fill="#00e5ff"/>
<rect x="722.67" y="1059.17" width="17.76" height="17.71" fill="#00c7ff"/>
<rect x="739.63" y="1059.17" width="17.76" height="17.71" fill="#00dbff"/>
<rect x="756.59" y="1059.17" width="17.76" height="17.71" fill="#2effd1"/>
<rect x="773.54" y="1059.17" width="17.76" height="17.71" fill="#00b2ff"/>
<rect x="790.50" y="1059.17" width="17.76" height="17.71" fill="#42ffbd"/>
<rect x="807.45" y="1059.17" width="17.76" height="17.71" fill="#38ffc7"/>
<rect x="824.40" y="1059.17" width="17.76" height="17.71" fill="#38ffc7"/>
<rect x="841.36" y="1059.17" width="17.76" height="17.71" fill="#61ff9e"/>
<rect x="858.32" y="1059.17" width="17.76" height="17.71" fill="#80ff80"/>
<rect x="875.27" y="1059.17" width="17.76" height="17.71" fill="#2effd1"/>
<rect x="892.23" y="1059.17" width="17.76" height="17.71" fill="#05fffa"/>
<rect x="909.18" y="1059.17" width="17.76" height="17.71" fill="#00faff"/>
<rect x="637.90" y="1076.08" width="17.76" height="17.71" fill="#009eff"/>
<rect x="654.86" y="1076.08" width="17.76" height="17.71" fill="#008aff"/>
<rect x="671.81" y="1076.08" width="17.76" height="17.71" fill="#0094ff"/>
<rect x="688.76" y="1076.08" width="17.76" height="17.71" fill="#8aff75"/>
<rect x="705.72" y="1076.08" width="17.76" height="17.71" fill="#8aff75"/>
<rect x="722.67" y="1076.08" width="17.76" height="17.71" fill="#00faff"/>
<rect x="739.63" y="1076.08" width="17.76" height="17.71" fill="#05fffa"/>
<rect x="756.59" y="1076.08" width="17.76" height="17.71" fill="#008aff"/>
<rect x="773.54" y="1076.08" width="17.76" height="17.71" fill="#ff1a00"/>
<rect x="790.50" y="1076.08" width="17.76" height="17.71" fill="#94ff6b"/>
<rect x="807.45" y="1076.08" width="17.76" height="17.71" fill="#008aff"/>
<rect x="824.40" y="1076.08" width="17.76" height="17.71" fill="#006bff"/>
<rect x="841.36" y="1076.08" width="17.76" height="17.71" fill="#0094ff"/>
<rect x="858.32" y="1076.08" width="17.76" height="17.71" fill="#80ff80"/>
<rect x="875.27" y="1076.08" width="17.76" height="17.71" fill="#80ff80"/>
<rect x="892.23" y="1076.08" width="17.76" height="17.71" fill="#1affe5"/>
<rect x="909.18" y="1076.08" width="17.76" height="17.71" fill="#6bff94"/>
<rect x="926.13" y="1076.08" width="17.76" height="17.71" fill="#00bdff"/>
<rect x="637.90" y="1092.99" width="17.76" height="17.71" fill="#00faff"/>
<rect x="654.86" y="1092.99" width="17.76" height="17.71" fill="#00faff"/>
<rect x="671.81" y="1092.99" width="17.76" height="17.71" fill="#24ffdb"/>
<rect x="688.76" y="1092.99" width="17.76" height="17.71" fill="#80ff80"/>
<rect x="705.72" y="1092.99" width="17.76" height="17.71" fill="#8aff75"/>
<rect x="722.67" y="1092.99" width="17.76" height="17.71" fill="#38ffc7"/>
<rect x="739.63" y="1092.99" width="17.76" height="17.71" fill="#8aff75"/>
<rect x="756.59" y="1092.99" width="17.76" height="17.71" fill="#38ffc7"/>
<rect x="773.54" y="1092.99" width="17.76" height="17.71" fill="#8aff75"/>
<rect x="790.50" y="1092.99" width="17.76" height="17.71" fill="#ff2400"/>
<rect x="807.45" y="1092.99" width="17.76" height="17.71" fill="#1affe5"/>
<rect x="824.40" y="1092.99" width="17.76" height="17.71" fill="#05fffa"/>
<rect x="841.36" y="1092.99" width="17.76" height="17.71" fill="#24ffdb"/>
<rect x="858.32" y="1092.99" width="17.76" height="17.71" fill="#9eff61"/>
<rect x="875.27" y="1092.99" width="17.76" height="17.71" fill="#94ff6b"/>
<rect x="892.23" y="1092.99" width="17.76" height="17.71" fill="#2effd1"/>
<rect x="909.18" y="1092.99" width="17.76" height="17.71" fill="#bdff42"/>
<rect x="926.13" y="1092.99" width="17.76" height="17.71" fill="#b3ff4c"/>
<rect x="943.09" y="1092.99" width="17.76" height="17.71" fill="#bdff42"/>
<path d="M815.9 960.4L818.6 963.5L821.7 966.2L818.6 968.8L815.9 972.0L813.3 968.8L810.1 966.2L813.3 963.5ZM815.9 977.3L818.6 980.4L821.7 983.1L818.6 985.7L815.9 988.9L813.3 985.7L810.1 983.1L813.3 980.4ZM832.9 977.3L835.6 980.4L838.7 983.1L835.6 985.7L832.9 988.9L830.2 985.7L827.1 983.1L830.2 980.4ZM714.2 994.2L716.9 997.3L720.0 1000.0L716.9 1002.7L714.2 1005.8L711.5 1002.7L708.4 1000.0L711.5 997.3ZM731.2 994.2L733.8 997.3L737.0 1000.0L733.8 1002.7L731.2 1005.8L728.5 1002.7L725.4 1000.0L728.5 997.3ZM731.2 1011.1L733.8 1014.2L737.0 1016.9L733.8 1019.6L731.2 1022.7L728.5 1019.6L725.4 1016.9L728.5 1014.2ZM714.2 1028.0L716.9 1031.1L720.0 1033.8L716.9 1036.5L714.2 1039.6L711.5 1036.5L708.4 1033.8L711.5 1031.1ZM731.2 1028.0L733.8 1031.1L737.0 1033.8L733.8 1036.5L731.2 1039.6L728.5 1036.5L725.4 1033.8L728.5 1031.1ZM866.8 1028.0L869.5 1031.1L872.6 1033.8L869.5 1036.5L866.8 1039.6L864.1 1036.5L861.0 1033.8L864.1 1031.1ZM883.7 1028.0L886.4 1031.1L889.5 1033.8L886.4 1036.5L883.7 1039.6L881.1 1036.5L877.9 1033.8L881.1 1031.1ZM748.1 1078.7L750.8 1081.9L753.9 1084.5L750.8 1087.2L748.1 1090.3L745.4 1087.2L742.3 1084.5L745.4 1081.9ZM900.7 1078.7L903.4 1081.9L906.5 1084.5L903.4 1087.2L900.7 1090.3L898.0 1087.2L894.9 1084.5L898.0 1081.9ZM917.7 1078.7L920.3 1081.9L923.5 1084.5L920.3 1087.2L917.7 1090.3L915.0 1087.2L911.9 1084.5L915.0 1081.9Z" fill="#fff"/>
</g>
<line x1="807.5" y1="771.7" x2="807.5" y2="1109.9" stroke="#000" stroke-width="1.8"/>
<line x1="634.5" y1="940.8" x2="977.0" y2="940.8" stroke="#000" stroke-width="1.8"/>
</g>
<line x1="637.9" y1="763.7" x2="637.9" y2="1088.0" stroke="#111" stroke-width="1.6"/>
<line x1="976.3" y1="763.7" x2="976.3" y2="771.7" stroke="#444" stroke-width="1.4"/>
<clipPath id="c761"><rect x="1014.5" y="771.7" width="341.4" height="329.3"/></clipPath>
<g clip-path="url(#c761)">
<rect x="1012.5" y="769.7" width="345.4" height="342.2" fill="#00008f"/>
<g filter="url(#bl)">
<rect x="1017.90" y="788.61" width="17.70" height="17.71" fill="#ff4c00"/>
<rect x="1017.90" y="805.52" width="17.70" height="17.71" fill="#e5ff1a"/>
<rect x="1034.80" y="805.52" width="17.70" height="17.71" fill="#f0ff0f"/>
<rect x="1017.90" y="822.43" width="17.70" height="17.71" fill="#ffdb00"/>
<rect x="1034.80" y="822.43" width="17.70" height="17.71" fill="#e5ff1a"/>
<rect x="1051.70" y="822.43" width="17.70" height="17.71" fill="#f0ff0f"/>
<rect x="1017.90" y="839.34" width="17.70" height="17.71" fill="#fffa00"/>
<rect x="1034.80" y="839.34" width="17.70" height="17.71" fill="#d1ff2e"/>
<rect x="1051.70" y="839.34" width="17.70" height="17.71" fill="#c7ff38"/>
<rect x="1068.60" y="839.34" width="17.70" height="17.71" fill="#e50000"/>
<rect x="1017.90" y="856.25" width="17.70" height="17.71" fill="#ffc700"/>
<rect x="1034.80" y="856.25" width="17.70" height="17.71" fill="#e5ff1a"/>
<rect x="1051.70" y="856.25" width="17.70" height="17.71" fill="#a8ff57"/>
<rect x="1068.60" y="856.25" width="17.70" height="17.71" fill="#ffa800"/>
<rect x="1085.50" y="856.25" width="17.70" height="17.71" fill="#ff4200"/>
<rect x="1017.90" y="873.16" width="17.70" height="17.71" fill="#b3ff4c"/>
<rect x="1034.80" y="873.16" width="17.70" height="17.71" fill="#9eff61"/>
<rect x="1051.70" y="873.16" width="17.70" height="17.71" fill="#80ff80"/>
<rect x="1068.60" y="873.16" width="17.70" height="17.71" fill="#fffa00"/>
<rect x="1085.50" y="873.16" width="17.70" height="17.71" fill="#ff5700"/>
<rect x="1102.40" y="873.16" width="17.70" height="17.71" fill="#ff9e00"/>
<rect x="1017.90" y="890.07" width="17.70" height="17.71" fill="#1affe5"/>
<rect x="1034.80" y="890.07" width="17.70" height="17.71" fill="#1affe5"/>
<rect x="1051.70" y="890.07" width="17.70" height="17.71" fill="#42ffbd"/>
<rect x="1068.60" y="890.07" width="17.70" height="17.71" fill="#42ffbd"/>
<rect x="1085.50" y="890.07" width="17.70" height="17.71" fill="#0ffff0"/>
<rect x="1102.40" y="890.07" width="17.70" height="17.71" fill="#00f0ff"/>
<rect x="1119.30" y="890.07" width="17.70" height="17.71" fill="#00e5ff"/>
<rect x="1017.90" y="906.98" width="17.70" height="17.71" fill="#00dbff"/>
<rect x="1034.80" y="906.98" width="17.70" height="17.71" fill="#00b2ff"/>
<rect x="1051.70" y="906.98" width="17.70" height="17.71" fill="#00bdff"/>
<rect x="1068.60" y="906.98" width="17.70" height="17.71" fill="#dbff24"/>
<rect x="1085.50" y="906.98" width="17.70" height="17.71" fill="#dbff24"/>
<rect x="1102.40" y="906.98" width="17.70" height="17.71" fill="#61ff9e"/>
<rect x="1119.30" y="906.98" width="17.70" height="17.71" fill="#6bff94"/>
<rect x="1136.20" y="906.98" width="17.70" height="17.71" fill="#00bdff"/>
<rect x="1017.90" y="923.89" width="17.70" height="17.71" fill="#75ff8a"/>
<rect x="1034.80" y="923.89" width="17.70" height="17.71" fill="#6bff94"/>
<rect x="1051.70" y="923.89" width="17.70" height="17.71" fill="#75ff8a"/>
<rect x="1068.60" y="923.89" width="17.70" height="17.71" fill="#c7ff38"/>
<rect x="1085.50" y="923.89" width="17.70" height="17.71" fill="#dbff24"/>
<rect x="1102.40" y="923.89" width="17.70" height="17.71" fill="#b3ff4c"/>
<rect x="1119.30" y="923.89" width="17.70" height="17.71" fill="#d1ff2e"/>
<rect x="1136.20" y="923.89" width="17.70" height="17.71" fill="#80ff80"/>
<rect x="1153.10" y="923.89" width="17.70" height="17.71" fill="#dbff24"/>
<rect x="1017.90" y="940.80" width="17.70" height="17.71" fill="#42ffbd"/>
<rect x="1034.80" y="940.80" width="17.70" height="17.71" fill="#42ffbd"/>
<rect x="1051.70" y="940.80" width="17.70" height="17.71" fill="#00f0ff"/>
<rect x="1068.60" y="940.80" width="17.70" height="17.71" fill="#00d1ff"/>
<rect x="1085.50" y="940.80" width="17.70" height="17.71" fill="#00c7ff"/>
<rect x="1102.40" y="940.80" width="17.70" height="17.71" fill="#00e5ff"/>
<rect x="1119.30" y="940.80" width="17.70" height="17.71" fill="#00faff"/>
<rect x="1136.20" y="940.80" width="17.70" height="17.71" fill="#00bdff"/>
<rect x="1153.10" y="940.80" width="17.70" height="17.71" fill="#004dff"/>
<rect x="1170.00" y="940.80" width="17.70" height="17.71" fill="#00dbff"/>
<rect x="1017.90" y="957.71" width="17.70" height="17.71" fill="#42ffbd"/>
<rect x="1034.80" y="957.71" width="17.70" height="17.71" fill="#4dffb2"/>
<rect x="1051.70" y="957.71" width="17.70" height="17.71" fill="#00faff"/>
<rect x="1068.60" y="957.71" width="17.70" height="17.71" fill="#00bdff"/>
<rect x="1085.50" y="957.71" width="17.70" height="17.71" fill="#00b2ff"/>
<rect x="1102.40" y="957.71" width="17.70" height="17.71" fill="#00e5ff"/>
<rect x="1119.30" y="957.71" width="17.70" height="17.71" fill="#00faff"/>
<rect x="1136.20" y="957.71" width="17.70" height="17.71" fill="#00b2ff"/>
<rect x="1153.10" y="957.71" width="17.70" height="17.71" fill="#0042ff"/>
<rect x="1170.00" y="957.71" width="17.70" height="17.71" fill="#00dbff"/>
<rect x="1186.90" y="957.71" width="17.70" height="17.71" fill="#ff6100"/>
<rect x="1017.90" y="974.62" width="17.70" height="17.71" fill="#4dffb2"/>
<rect x="1034.80" y="974.62" width="17.70" height="17.71" fill="#4dffb2"/>
<rect x="1051.70" y="974.62" width="17.70" height="17.71" fill="#05fffa"/>
<rect x="1068.60" y="974.62" width="17.70" height="17.71" fill="#00f0ff"/>
<rect x="1085.50" y="974.62" width="17.70" height="17.71" fill="#00e5ff"/>
<rect x="1102.40" y="974.62" width="17.70" height="17.71" fill="#00f0ff"/>
<rect x="1119.30" y="974.62" width="17.70" height="17.71" fill="#00faff"/>
<rect x="1136.20" y="974.62" width="17.70" height="17.71" fill="#00c7ff"/>
<rect x="1153.10" y="974.62" width="17.70" height="17.71" fill="#004dff"/>
<rect x="1170.00" y="974.62" width="17.70" height="17.71" fill="#00f0ff"/>
<rect x="1186.90" y="974.62" width="17.70" height="17.71" fill="#ffc700"/>
<rect x="1203.80" y="974.62" width="17.70" height="17.71" fill="#ffa800"/>
<rect x="1017.90" y="991.53" width="17.70" height="17.71" fill="#4dffb2"/>
<rect x="1034.80" y="991.53" width="17.70" height="17.71" fill="#42ffbd"/>
<rect x="1051.70" y="991.53" width="17.70" height="17.71" fill="#2effd1"/>
<rect x="1068.60" y="991.53" width="17.70" height="17.71" fill="#bdff42"/>
<rect x="1085.50" y="991.53" width="17.70" height="17.71" fill="#dbff24"/>
<rect x="1102.40" y="991.53" width="17.70" height="17.71" fill="#80ff80"/>
<rect x="1119.30" y="991.53" width="17.70" height="17.71" fill="#bdff42"/>
<rect x="1136.20" y="991.53" width="17.70" height="17.71" fill="#00f0ff"/>
<rect x="1153.10" y="991.53" width="17.70" height="17.71" fill="#57ffa8"/>
<rect x="1170.00" y="991.53" width="17.70" height="17.71" fill="#80ff80"/>
<rect x="1186.90" y="991.53" width="17.70" height="17.71" fill="#ffe500"/>
<rect x="1203.80" y="991.53" width="17.70" height="17.71" fill="#bdff42"/>
<rect x="1220.70" y="991.53" width="17.70" height="17.71" fill="#d1ff2e"/>
<rect x="1017.90" y="1008.44" width="17.70" height="17.71" fill="#4dffb2"/>
<rect x="1034.80" y="1008.44" width="17.70" height="17.71" fill="#42ffbd"/>
<rect x="1051.70" y="1008.44" width="17.70" height="17.71" fill="#2effd1"/>
<rect x="1068.60" y="1008.44" width="17.70" height="17.71" fill="#bdff42"/>
<rect x="1085.50" y="1008.44" width="17.70" height="17.71" fill="#ffc700"/>
<rect x="1102.40" y="1008.44" width="17.70" height="17.71" fill="#b3ff4c"/>
<rect x="1119.30" y="1008.44" width="17.70" height="17.71" fill="#ffd100"/>
<rect x="1136.20" y="1008.44" width="17.70" height="17.71" fill="#00e5ff"/>
<rect x="1153.10" y="1008.44" width="17.70" height="17.71" fill="#57ffa8"/>
<rect x="1170.00" y="1008.44" width="17.70" height="17.71" fill="#6bff94"/>
<rect x="1186.90" y="1008.44" width="17.70" height="17.71" fill="#e5ff1a"/>
<rect x="1203.80" y="1008.44" width="17.70" height="17.71" fill="#94ff6b"/>
<rect x="1220.70" y="1008.44" width="17.70" height="17.71" fill="#94ff6b"/>
<rect x="1237.60" y="1008.44" width="17.70" height="17.71" fill="#ff0500"/>
<rect x="1017.90" y="1025.35" width="17.70" height="17.71" fill="#4dffb2"/>
<rect x="1034.80" y="1025.35" width="17.70" height="17.71" fill="#38ffc7"/>
<rect x="1051.70" y="1025.35" width="17.70" height="17.71" fill="#00faff"/>
<rect x="1068.60" y="1025.35" width="17.70" height="17.71" fill="#1affe5"/>
<rect x="1085.50" y="1025.35" width="17.70" height="17.71" fill="#4dffb2"/>
<rect x="1102.40" y="1025.35" width="17.70" height="17.71" fill="#80ff80"/>
<rect x="1119.30" y="1025.35" width="17.70" height="17.71" fill="#b3ff4c"/>
<rect x="1136.20" y="1025.35" width="17.70" height="17.71" fill="#00bdff"/>
<rect x="1153.10" y="1025.35" width="17.70" height="17.71" fill="#00d1ff"/>
<rect x="1170.00" y="1025.35" width="17.70" height="17.71" fill="#42ffbd"/>
<rect x="1186.90" y="1025.35" width="17.70" height="17.71" fill="#e5ff1a"/>
<rect x="1203.80" y="1025.35" width="17.70" height="17.71" fill="#a8ff57"/>
<rect x="1220.70" y="1025.35" width="17.70" height="17.71" fill="#75ff8a"/>
<rect x="1237.60" y="1025.35" width="17.70" height="17.71" fill="#fff000"/>
<rect x="1254.50" y="1025.35" width="17.70" height="17.71" fill="#ff6100"/>
<rect x="1017.90" y="1042.26" width="17.70" height="17.71" fill="#4dffb2"/>
<rect x="1034.80" y="1042.26" width="17.70" height="17.71" fill="#38ffc7"/>
<rect x="1051.70" y="1042.26" width="17.70" height="17.71" fill="#1affe5"/>
<rect x="1068.60" y="1042.26" width="17.70" height="17.71" fill="#9eff61"/>
<rect x="1085.50" y="1042.26" width="17.70" height="17.71" fill="#faff05"/>
<rect x="1102.40" y="1042.26" width="17.70" height="17.71" fill="#c7ff38"/>
<rect x="1119.30" y="1042.26" width="17.70" height="17.71" fill="#ff0f00"/>
<rect x="1136.20" y="1042.26" width="17.70" height="17.71" fill="#00d1ff"/>
<rect x="1153.10" y="1042.26" width="17.70" height="17.71" fill="#24ffdb"/>
<rect x="1170.00" y="1042.26" width="17.70" height="17.71" fill="#b3ff4c"/>
<rect x="1186.90" y="1042.26" width="17.70" height="17.71" fill="#94ff6b"/>
<rect x="1203.80" y="1042.26" width="17.70" height="17.71" fill="#42ffbd"/>
<rect x="1220.70" y="1042.26" width="17.70" height="17.71" fill="#38ffc7"/>
<rect x="1237.60" y="1042.26" width="17.70" height="17.71" fill="#fff000"/>
<rect x="1254.50" y="1042.26" width="17.70" height="17.71" fill="#ff5700"/>
<rect x="1271.40" y="1042.26" width="17.70" height="17.71" fill="#ffb300"/>
<rect x="1017.90" y="1059.17" width="17.70" height="17.71" fill="#00f0ff"/>
<rect x="1034.80" y="1059.17" width="17.70" height="17.71" fill="#00e5ff"/>
<rect x="1051.70" y="1059.17" width="17.70" height="17.71" fill="#00e5ff"/>
<rect x="1068.60" y="1059.17" width="17.70" height="17.71" fill="#00dbff"/>
<rect x="1085.50" y="1059.17" width="17.70" height="17.71" fill="#00c7ff"/>
<rect x="1102.40" y="1059.17" width="17.70" height="17.71" fill="#00bdff"/>
<rect x="1119.30" y="1059.17" width="17.70" height="17.71" fill="#00dbff"/>
<rect x="1136.20" y="1059.17" width="17.70" height="17.71" fill="#1affe5"/>
<rect x="1153.10" y="1059.17" width="17.70" height="17.71" fill="#00a8ff"/>
<rect x="1170.00" y="1059.17" width="17.70" height="17.71" fill="#42ffbd"/>
<rect x="1186.90" y="1059.17" width="17.70" height="17.71" fill="#2effd1"/>
<rect x="1203.80" y="1059.17" width="17.70" height="17.71" fill="#24ffdb"/>
<rect x="1220.70" y="1059.17" width="17.70" height="17.71" fill="#57ffa8"/>
<rect x="1237.60" y="1059.17" width="17.70" height="17.71" fill="#75ff8a"/>
<rect x="1254.50" y="1059.17" width="17.70" height="17.71" fill="#24ffdb"/>
<rect x="1271.40" y="1059.17" width="17.70" height="17.71" fill="#00faff"/>
<rect x="1288.30" y="1059.17" width="17.70" height="17.71" fill="#00faff"/>
<rect x="1017.90" y="1076.08" width="17.70" height="17.71" fill="#00e5ff"/>
<rect x="1034.80" y="1076.08" width="17.70" height="17.71" fill="#009eff"/>
<rect x="1051.70" y="1076.08" width="17.70" height="17.71" fill="#00b2ff"/>
<rect x="1068.60" y="1076.08" width="17.70" height="17.71" fill="#c7ff38"/>
<rect x="1085.50" y="1076.08" width="17.70" height="17.71" fill="#dbff24"/>
<rect x="1102.40" y="1076.08" width="17.70" height="17.71" fill="#4dffb2"/>
<rect x="1119.30" y="1076.08" width="17.70" height="17.71" fill="#75ff8a"/>
<rect x="1136.20" y="1076.08" width="17.70" height="17.71" fill="#00a8ff"/>
<rect x="1153.10" y="1076.08" width="17.70" height="17.71" fill="#fa0000"/>
<rect x="1170.00" y="1076.08" width="17.70" height="17.71" fill="#c7ff38"/>
<rect x="1186.90" y="1076.08" width="17.70" height="17.71" fill="#0057ff"/>
<rect x="1203.80" y="1076.08" width="17.70" height="17.71" fill="#0042ff"/>
<rect x="1220.70" y="1076.08" width="17.70" height="17.71" fill="#0061ff"/>
<rect x="1237.60" y="1076.08" width="17.70" height="17.71" fill="#8aff75"/>
<rect x="1254.50" y="1076.08" width="17.70" height="17.71" fill="#8aff75"/>
<rect x="1271.40" y="1076.08" width="17.70" height="17.71" fill="#00dbff"/>
<rect x="1288.30" y="1076.08" width="17.70" height="17.71" fill="#57ffa8"/>
<rect x="1305.20" y="1076.08" width="17.70" height="17.71" fill="#00c7ff"/>
<rect x="1017.90" y="1092.99" width="17.70" height="17.71" fill="#2effd1"/>
<rect x="1034.80" y="1092.99" width="17.70" height="17.71" fill="#24ffdb"/>
<rect x="1051.70" y="1092.99" width="17.70" height="17.71" fill="#38ffc7"/>
<rect x="1068.60" y="1092.99" width="17.70" height="17.71" fill="#94ff6b"/>
<rect x="1085.50" y="1092.99" width="17.70" height="17.71" fill="#94ff6b"/>
<rect x="1102.40" y="1092.99" width="17.70" height="17.71" fill="#6bff94"/>
<rect x="1119.30" y="1092.99" width="17.70" height="17.71" fill="#bdff42"/>
<rect x="1136.20" y="1092.99" width="17.70" height="17.71" fill="#42ffbd"/>
<rect x="1153.10" y="1092.99" width="17.70" height="17.71" fill="#94ff6b"/>
<rect x="1170.00" y="1092.99" width="17.70" height="17.71" fill="#ff3800"/>
<rect x="1186.90" y="1092.99" width="17.70" height="17.71" fill="#00f0ff"/>
<rect x="1203.80" y="1092.99" width="17.70" height="17.71" fill="#00f0ff"/>
<rect x="1220.70" y="1092.99" width="17.70" height="17.71" fill="#05fffa"/>
<rect x="1237.60" y="1092.99" width="17.70" height="17.71" fill="#94ff6b"/>
<rect x="1254.50" y="1092.99" width="17.70" height="17.71" fill="#94ff6b"/>
<rect x="1271.40" y="1092.99" width="17.70" height="17.71" fill="#57ffa8"/>
<rect x="1288.30" y="1092.99" width="17.70" height="17.71" fill="#e5ff1a"/>
<rect x="1305.20" y="1092.99" width="17.70" height="17.71" fill="#a8ff57"/>
<rect x="1322.10" y="1092.99" width="17.70" height="17.71" fill="#a8ff57"/>
<path d="M1077.0 943.5L1079.7 946.6L1082.8 949.3L1079.7 951.9L1077.0 955.1L1074.4 951.9L1071.2 949.3L1074.4 946.6ZM1094.0 943.5L1096.6 946.6L1099.8 949.3L1096.6 951.9L1094.0 955.1L1091.3 951.9L1088.2 949.3L1091.3 946.6ZM1110.8 943.5L1113.5 946.6L1116.6 949.3L1113.5 951.9L1110.8 955.1L1108.2 951.9L1105.0 949.3L1108.2 946.6ZM1077.0 960.4L1079.7 963.5L1082.8 966.2L1079.7 968.8L1077.0 972.0L1074.4 968.8L1071.2 966.2L1074.4 963.5ZM1094.0 960.4L1096.6 963.5L1099.8 966.2L1096.6 968.8L1094.0 972.0L1091.3 968.8L1088.2 966.2L1091.3 963.5ZM1110.8 960.4L1113.5 963.5L1116.6 966.2L1113.5 968.8L1110.8 972.0L1108.2 968.8L1105.0 966.2L1108.2 963.5ZM1094.0 977.3L1096.6 980.4L1099.8 983.1L1096.6 985.7L1094.0 988.9L1091.3 985.7L1088.2 983.1L1091.3 980.4ZM1195.3 977.3L1198.0 980.4L1201.1 983.1L1198.0 985.7L1195.3 988.9L1192.7 985.7L1189.5 983.1L1192.7 980.4ZM1212.2 977.3L1214.9 980.4L1218.0 983.1L1214.9 985.7L1212.2 988.9L1209.6 985.7L1206.5 983.1L1209.6 980.4ZM1110.8 994.2L1113.5 997.3L1116.6 1000.0L1113.5 1002.7L1110.8 1005.8L1108.2 1002.7L1105.0 1000.0L1108.2 997.3ZM1195.3 994.2L1198.0 997.3L1201.1 1000.0L1198.0 1002.7L1195.3 1005.8L1192.7 1002.7L1189.5 1000.0L1192.7 997.3ZM1094.0 1011.1L1096.6 1014.2L1099.8 1016.9L1096.6 1019.6L1094.0 1022.7L1091.3 1019.6L1088.2 1016.9L1091.3 1014.2ZM1110.8 1011.1L1113.5 1014.2L1116.6 1016.9L1113.5 1019.6L1110.8 1022.7L1108.2 1019.6L1105.0 1016.9L1108.2 1014.2ZM1077.0 1028.0L1079.7 1031.1L1082.8 1033.8L1079.7 1036.5L1077.0 1039.6L1074.4 1036.5L1071.2 1033.8L1074.4 1031.1ZM1094.0 1028.0L1096.6 1031.1L1099.8 1033.8L1096.6 1036.5L1094.0 1039.6L1091.3 1036.5L1088.2 1033.8L1091.3 1031.1ZM1110.8 1028.0L1113.5 1031.1L1116.6 1033.8L1113.5 1036.5L1110.8 1039.6L1108.2 1036.5L1105.0 1033.8L1108.2 1031.1ZM1246.1 1028.0L1248.7 1031.1L1251.9 1033.8L1248.7 1036.5L1246.1 1039.6L1243.4 1036.5L1240.3 1033.8L1243.4 1031.1ZM1263.0 1028.0L1265.6 1031.1L1268.8 1033.8L1265.6 1036.5L1263.0 1039.6L1260.3 1036.5L1257.2 1033.8L1260.3 1031.1ZM1094.0 1044.9L1096.6 1048.0L1099.8 1050.7L1096.6 1053.4L1094.0 1056.5L1091.3 1053.4L1088.2 1050.7L1091.3 1048.0ZM1279.9 1078.7L1282.5 1081.9L1285.7 1084.5L1282.5 1087.2L1279.9 1090.3L1277.2 1087.2L1274.1 1084.5L1277.2 1081.9Z" fill="#fff"/>
</g>
<line x1="1186.9" y1="771.7" x2="1186.9" y2="1109.9" stroke="#000" stroke-width="1.8"/>
<line x1="1014.5" y1="940.8" x2="1355.9" y2="940.8" stroke="#000" stroke-width="1.8"/>
</g>
<line x1="1017.9" y1="763.7" x2="1017.9" y2="1101.0" stroke="#111" stroke-width="1.6"/>
<line x1="1355.2" y1="763.7" x2="1355.2" y2="771.7" stroke="#444" stroke-width="1.4"/>
<clipPath id="c962"><rect x="1393.0" y="771.7" width="343.3" height="316.7"/></clipPath>
<g clip-path="url(#c962)">
<rect x="1391.0" y="769.7" width="347.3" height="342.2" fill="#00008f"/>
<g filter="url(#bl)">
<rect x="1397.50" y="788.61" width="17.74" height="17.71" fill="#ffc700"/>
<rect x="1397.50" y="805.52" width="17.74" height="17.71" fill="#a8ff57"/>
<rect x="1414.44" y="805.52" width="17.74" height="17.71" fill="#94ff6b"/>
<rect x="1397.50" y="822.43" width="17.74" height="17.71" fill="#faff05"/>
<rect x="1414.44" y="822.43" width="17.74" height="17.71" fill="#a8ff57"/>
<rect x="1431.38" y="822.43" width="17.74" height="17.71" fill="#a8ff57"/>
<rect x="1397.50" y="839.34" width="17.74" height="17.71" fill="#d1ff2e"/>
<rect x="1414.44" y="839.34" width="17.74" height="17.71" fill="#94ff6b"/>
<rect x="1431.38" y="839.34" width="17.74" height="17.71" fill="#80ff80"/>
<rect x="1448.32" y="839.34" width="17.74" height="17.71" fill="#ff3800"/>
<rect x="1397.50" y="856.25" width="17.74" height="17.71" fill="#c7ff38"/>
<rect x="1414.44" y="856.25" width="17.74" height="17.71" fill="#94ff6b"/>
<rect x="1431.38" y="856.25" width="17.74" height="17.71" fill="#61ff9e"/>
<rect x="1448.32" y="856.25" width="17.74" height="17.71" fill="#fffa00"/>
<rect x="1465.26" y="856.25" width="17.74" height="17.71" fill="#ff8a00"/>
<rect x="1397.50" y="873.16" width="17.74" height="17.71" fill="#80ff80"/>
<rect x="1414.44" y="873.16" width="17.74" height="17.71" fill="#6bff94"/>
<rect x="1431.38" y="873.16" width="17.74" height="17.71" fill="#38ffc7"/>
<rect x="1448.32" y="873.16" width="17.74" height="17.71" fill="#dbff24"/>
<rect x="1465.26" y="873.16" width="17.74" height="17.71" fill="#ff6b00"/>
<rect x="1482.20" y="873.16" width="17.74" height="17.71" fill="#fffa00"/>
<rect x="1397.50" y="890.07" width="17.74" height="17.71" fill="#00f0ff"/>
<rect x="1414.44" y="890.07" width="17.74" height="17.71" fill="#00f0ff"/>
<rect x="1431.38" y="890.07" width="17.74" height="17.71" fill="#1affe5"/>
<rect x="1448.32" y="890.07" width="17.74" height="17.71" fill="#2effd1"/>
<rect x="1465.26" y="890.07" width="17.74" height="17.71" fill="#00faff"/>
<rect x="1482.20" y="890.07" width="17.74" height="17.71" fill="#00c7ff"/>
<rect x="1499.14" y="890.07" width="17.74" height="17.71" fill="#00c7ff"/>
<rect x="1397.50" y="906.98" width="17.74" height="17.71" fill="#00bdff"/>
<rect x="1414.44" y="906.98" width="17.74" height="17.71" fill="#009eff"/>
<rect x="1431.38" y="906.98" width="17.74" height="17.71" fill="#00b2ff"/>
<rect x="1448.32" y="906.98" width="17.74" height="17.71" fill="#a8ff57"/>
<rect x="1465.26" y="906.98" width="17.74" height="17.71" fill="#a8ff57"/>
<rect x="1482.20" y="906.98" width="17.74" height="17.71" fill="#2effd1"/>
<rect x="1499.14" y="906.98" width="17.74" height="17.71" fill="#61ff9e"/>
<rect x="1516.08" y="906.98" width="17.74" height="17.71" fill="#00d1ff"/>
<rect x="1397.50" y="923.89" width="17.74" height="17.71" fill="#05fffa"/>
<rect x="1414.44" y="923.89" width="17.74" height="17.71" fill="#05fffa"/>
<rect x="1431.38" y="923.89" width="17.74" height="17.71" fill="#2effd1"/>
<rect x="1448.32" y="923.89" width="17.74" height="17.71" fill="#94ff6b"/>
<rect x="1465.26" y="923.89" width="17.74" height="17.71" fill="#8aff75"/>
<rect x="1482.20" y="923.89" width="17.74" height="17.71" fill="#38ffc7"/>
<rect x="1499.14" y="923.89" width="17.74" height="17.71" fill="#94ff6b"/>
<rect x="1516.08" y="923.89" width="17.74" height="17.71" fill="#8aff75"/>
<rect x="1533.02" y="923.89" width="17.74" height="17.71" fill="#9eff61"/>
<rect x="1397.50" y="940.80" width="17.74" height="17.71" fill="#00f0ff"/>
<rect x="1414.44" y="940.80" width="17.74" height="17.71" fill="#00f0ff"/>
<rect x="1431.38" y="940.80" width="17.74" height="17.71" fill="#00dbff"/>
<rect x="1448.32" y="940.80" width="17.74" height="17.71" fill="#00d1ff"/>
<rect x="1465.26" y="940.80" width="17.74" height="17.71" fill="#00c7ff"/>
<rect x="1482.20" y="940.80" width="17.74" height="17.71" fill="#00d1ff"/>
<rect x="1499.14" y="940.80" width="17.74" height="17.71" fill="#00dbff"/>
<rect x="1516.08" y="940.80" width="17.74" height="17.71" fill="#00a8ff"/>
<rect x="1533.02" y="940.80" width="17.74" height="17.71" fill="#0061ff"/>
<rect x="1549.96" y="940.80" width="17.74" height="17.71" fill="#00dbff"/>
<rect x="1397.50" y="957.71" width="17.74" height="17.71" fill="#00faff"/>
<rect x="1414.44" y="957.71" width="17.74" height="17.71" fill="#00f0ff"/>
<rect x="1431.38" y="957.71" width="17.74" height="17.71" fill="#00dbff"/>
<rect x="1448.32" y="957.71" width="17.74" height="17.71" fill="#00d1ff"/>
<rect x="1465.26" y="957.71" width="17.74" height="17.71" fill="#00c7ff"/>
<rect x="1482.20" y="957.71" width="17.74" height="17.71" fill="#00d1ff"/>
<rect x="1499.14" y="957.71" width="17.74" height="17.71" fill="#00dbff"/>
<rect x="1516.08" y="957.71" width="17.74" height="17.71" fill="#009eff"/>
<rect x="1533.02" y="957.71" width="17.74" height="17.71" fill="#0061ff"/>
<rect x="1549.96" y="957.71" width="17.74" height="17.71" fill="#00d1ff"/>
<rect x="1566.90" y="957.71" width="17.74" height="17.71" fill="#ffc700"/>
<rect x="1397.50" y="974.62" width="17.74" height="17.71" fill="#05fffa"/>
<rect x="1414.44" y="974.62" width="17.74" height="17.71" fill="#00faff"/>
<rect x="1431.38" y="974.62" width="17.74" height="17.71" fill="#00e5ff"/>
<rect x="1448.32" y="974.62" width="17.74" height="17.71" fill="#00e5ff"/>
<rect x="1465.26" y="974.62" width="17.74" height="17.71" fill="#00dbff"/>
<rect x="1482.20" y="974.62" width="17.74" height="17.71" fill="#00e5ff"/>
<rect x="1499.14" y="974.62" width="17.74" height="17.71" fill="#00e5ff"/>
<rect x="1516.08" y="974.62" width="17.74" height="17.71" fill="#00b2ff"/>
<rect x="1533.02" y="974.62" width="17.74" height="17.71" fill="#006bff"/>
<rect x="1549.96" y="974.62" width="17.74" height="17.71" fill="#00f0ff"/>
<rect x="1566.90" y="974.62" width="17.74" height="17.71" fill="#dbff24"/>
<rect x="1583.84" y="974.62" width="17.74" height="17.71" fill="#faff05"/>
<rect x="1397.50" y="991.53" width="17.74" height="17.71" fill="#05fffa"/>
<rect x="1414.44" y="991.53" width="17.74" height="17.71" fill="#05fffa"/>
<rect x="1431.38" y="991.53" width="17.74" height="17.71" fill="#00faff"/>
<rect x="1448.32" y="991.53" width="17.74" height="17.71" fill="#94ff6b"/>
<rect x="1465.26" y="991.53" width="17.74" height="17.71" fill="#80ff80"/>
<rect x="1482.20" y="991.53" width="17.74" height="17.71" fill="#42ffbd"/>
<rect x="1499.14" y="991.53" width="17.74" height="17.71" fill="#8aff75"/>
<rect x="1516.08" y="991.53" width="17.74" height="17.71" fill="#00dbff"/>
<rect x="1533.02" y="991.53" width="17.74" height="17.71" fill="#42ffbd"/>
<rect x="1549.96" y="991.53" width="17.74" height="17.71" fill="#61ff9e"/>
<rect x="1566.90" y="991.53" width="17.74" height="17.71" fill="#dbff24"/>
<rect x="1583.84" y="991.53" width="17.74" height="17.71" fill="#8aff75"/>
<rect x="1600.78" y="991.53" width="17.74" height="17.71" fill="#a8ff57"/>
<rect x="1397.50" y="1008.44" width="17.74" height="17.71" fill="#1affe5"/>
<rect x="1414.44" y="1008.44" width="17.74" height="17.71" fill="#1affe5"/>
<rect x="1431.38" y="1008.44" width="17.74" height="17.71" fill="#24ffdb"/>
<rect x="1448.32" y="1008.44" width="17.74" height="17.71" fill="#a8ff57"/>
<rect x="1465.26" y="1008.44" width="17.74" height="17.71" fill="#fffa00"/>
<rect x="1482.20" y="1008.44" width="17.74" height="17.71" fill="#80ff80"/>
<rect x="1499.14" y="1008.44" width="17.74" height="17.71" fill="#f0ff0f"/>
<rect x="1516.08" y="1008.44" width="17.74" height="17.71" fill="#00d1ff"/>
<rect x="1533.02" y="1008.44" width="17.74" height="17.71" fill="#4dffb2"/>
<rect x="1549.96" y="1008.44" width="17.74" height="17.71" fill="#61ff9e"/>
<rect x="1566.90" y="1008.44" width="17.74" height="17.71" fill="#a8ff57"/>
<rect x="1583.84" y="1008.44" width="17.74" height="17.71" fill="#61ff9e"/>
<rect x="1600.78" y="1008.44" width="17.74" height="17.71" fill="#6bff94"/>
<rect x="1617.72" y="1008.44" width="17.74" height="17.71" fill="#ff2e00"/>
<rect x="1397.50" y="1025.35" width="17.74" height="17.71" fill="#05fffa"/>
<rect x="1414.44" y="1025.35" width="17.74" height="17.71" fill="#00f0ff"/>
<rect x="1431.38" y="1025.35" width="17.74" height="17.71" fill="#00d1ff"/>
<rect x="1448.32" y="1025.35" width="17.74" height="17.71" fill="#1affe5"/>
<rect x="1465.26" y="1025.35" width="17.74" height="17.71" fill="#57ffa8"/>
<rect x="1482.20" y="1025.35" width="17.74" height="17.71" fill="#57ffa8"/>
<rect x="1499.14" y="1025.35" width="17.74" height="17.71" fill="#61ff9e"/>
<rect x="1516.08" y="1025.35" width="17.74" height="17.71" fill="#009eff"/>
<rect x="1533.02" y="1025.35" width="17.74" height="17.71" fill="#00b2ff"/>
<rect x="1549.96" y="1025.35" width="17.74" height="17.71" fill="#24ffdb"/>
<rect x="1566.90" y="1025.35" width="17.74" height="17.71" fill="#94ff6b"/>
<rect x="1583.84" y="1025.35" width="17.74" height="17.71" fill="#57ffa8"/>
<rect x="1600.78" y="1025.35" width="17.74" height="17.71" fill="#42ffbd"/>
<rect x="1617.72" y="1025.35" width="17.74" height="17.71" fill="#dbff24"/>
<rect x="1634.66" y="1025.35" width="17.74" height="17.71" fill="#ffbd00"/>
<rect x="1397.50" y="1042.26" width="17.74" height="17.71" fill="#0ffff0"/>
<rect x="1414.44" y="1042.26" width="17.74" height="17.71" fill="#0ffff0"/>
<rect x="1431.38" y="1042.26" width="17.74" height="17.71" fill="#00faff"/>
<rect x="1448.32" y="1042.26" width="17.74" height="17.71" fill="#75ff8a"/>
<rect x="1465.26" y="1042.26" width="17.74" height="17.71" fill="#d1ff2e"/>
<rect x="1482.20" y="1042.26" width="17.74" height="17.71" fill="#8aff75"/>
<rect x="1499.14" y="1042.26" width="17.74" height="17.71" fill="#ff3800"/>
<rect x="1516.08" y="1042.26" width="17.74" height="17.71" fill="#00d1ff"/>
<rect x="1533.02" y="1042.26" width="17.74" height="17.71" fill="#2effd1"/>
<rect x="1549.96" y="1042.26" width="17.74" height="17.71" fill="#80ff80"/>
<rect x="1566.90" y="1042.26" width="17.74" height="17.71" fill="#61ff9e"/>
<rect x="1583.84" y="1042.26" width="17.74" height="17.71" fill="#24ffdb"/>
<rect x="1600.78" y="1042.26" width="17.74" height="17.71" fill="#24ffdb"/>
<rect x="1617.72" y="1042.26" width="17.74" height="17.71" fill="#dbff24"/>
<rect x="1634.66" y="1042.26" width="17.74" height="17.71" fill="#ff7500"/>
<rect x="1651.60" y="1042.26" width="17.74" height="17.71" fill="#f0ff0f"/>
<rect x="1397.50" y="1059.17" width="17.74" height="17.71" fill="#009eff"/>
<rect x="1414.44" y="1059.17" width="17.74" height="17.71" fill="#009eff"/>
<rect x="1431.38" y="1059.17" width="17.74" height="17.71" fill="#009eff"/>
<rect x="1448.32" y="1059.17" width="17.74" height="17.71" fill="#009eff"/>
<rect x="1465.26" y="1059.17" width="17.74" height="17.71" fill="#0094ff"/>
<rect x="1482.20" y="1059.17" width="17.74" height="17.71" fill="#0075ff"/>
<rect x="1499.14" y="1059.17" width="17.74" height="17.71" fill="#0080ff"/>
<rect x="1516.08" y="1059.17" width="17.74" height="17.71" fill="#00f0ff"/>
<rect x="1533.02" y="1059.17" width="17.74" height="17.71" fill="#0075ff"/>
<rect x="1549.96" y="1059.17" width="17.74" height="17.71" fill="#1affe5"/>
<rect x="1566.90" y="1059.17" width="17.74" height="17.71" fill="#00e5ff"/>
<rect x="1583.84" y="1059.17" width="17.74" height="17.71" fill="#00e5ff"/>
<rect x="1600.78" y="1059.17" width="17.74" height="17.71" fill="#2effd1"/>
<rect x="1617.72" y="1059.17" width="17.74" height="17.71" fill="#42ffbd"/>
<rect x="1634.66" y="1059.17" width="17.74" height="17.71" fill="#00f0ff"/>
<rect x="1651.60" y="1059.17" width="17.74" height="17.71" fill="#00d1ff"/>
<rect x="1668.54" y="1059.17" width="17.74" height="17.71" fill="#00d1ff"/>
<rect x="1397.50" y="1076.08" width="17.74" height="17.71" fill="#00c7ff"/>
<rect x="1414.44" y="1076.08" width="17.74" height="17.71" fill="#00b2ff"/>
<rect x="1431.38" y="1076.08" width="17.74" height="17.71" fill="#00b2ff"/>
<rect x="1448.32" y="1076.08" width="17.74" height="17.71" fill="#94ff6b"/>
<rect x="1465.26" y="1076.08" width="17.74" height="17.71" fill="#94ff6b"/>
<rect x="1482.20" y="1076.08" width="17.74" height="17.71" fill="#05fffa"/>
<rect x="1499.14" y="1076.08" width="17.74" height="17.71" fill="#4dffb2"/>
<rect x="1516.08" y="1076.08" width="17.74" height="17.71" fill="#00b2ff"/>
<rect x="1533.02" y="1076.08" width="17.74" height="17.71" fill="#ff4200"/>
<rect x="1549.96" y="1076.08" width="17.74" height="17.71" fill="#80ff80"/>
<rect x="1566.90" y="1076.08" width="17.74" height="17.71" fill="#006bff"/>
<rect x="1583.84" y="1076.08" width="17.74" height="17.71" fill="#0061ff"/>
<rect x="1600.78" y="1076.08" width="17.74" height="17.71" fill="#0080ff"/>
<rect x="1617.72" y="1076.08" width="17.74" height="17.71" fill="#8aff75"/>
<rect x="1634.66" y="1076.08" width="17.74" height="17.71" fill="#8aff75"/>
<rect x="1651.60" y="1076.08" width="17.74" height="17.71" fill="#00faff"/>
<rect x="1668.54" y="1076.08" width="17.74" height="17.71" fill="#61ff9e"/>
<rect x="1685.48" y="1076.08" width="17.74" height="17.71" fill="#00a8ff"/>
<rect x="1397.50" y="1092.99" width="17.74" height="17.71" fill="#00faff"/>
<rect x="1414.44" y="1092.99" width="17.74" height="17.71" fill="#00faff"/>
<rect x="1431.38" y="1092.99" width="17.74" height="17.71" fill="#24ffdb"/>
<rect x="1448.32" y="1092.99" width="17.74" height="17.71" fill="#80ff80"/>
<rect x="1465.26" y="1092.99" width="17.74" height="17.71" fill="#8aff75"/>
<rect x="1482.20" y="1092.99" width="17.74" height="17.71" fill="#38ffc7"/>
<rect x="1499.14" y="1092.99" width="17.74" height="17.71" fill="#8aff75"/>
<rect x="1516.08" y="1092.99" width="17.74" height="17.71" fill="#38ffc7"/>
<rect x="1533.02" y="1092.99" width="17.74" height="17.71" fill="#8aff75"/>
<rect x="1549.96" y="1092.99" width="17.74" height="17.71" fill="#ff2400"/>
<rect x="1566.90" y="1092.99" width="17.74" height="17.71" fill="#1affe5"/>
<rect x="1583.84" y="1092.99" width="17.74" height="17.71" fill="#05fffa"/>
<rect x="1600.78" y="1092.99" width="17.74" height="17.71" fill="#24ffdb"/>
<rect x="1617.72" y="1092.99" width="17.74" height="17.71" fill="#9eff61"/>
<rect x="1634.66" y="1092.99" width="17.74" height="17.71" fill="#94ff6b"/>
<rect x="1651.60" y="1092.99" width="17.74" height="17.71" fill="#2effd1"/>
<rect x="1668.54" y="1092.99" width="17.74" height="17.71" fill="#bdff42"/>
<rect x="1685.48" y="1092.99" width="17.74" height="17.71" fill="#b3ff4c"/>
<rect x="1702.42" y="1092.99" width="17.74" height="17.71" fill="#bdff42"/>
<path d="M1406.0 791.3L1408.6 794.4L1411.8 797.1L1408.6 799.7L1406.0 802.9L1403.3 799.7L1400.2 797.1L1403.3 794.4ZM1406.0 808.2L1408.6 811.3L1411.8 814.0L1408.6 816.6L1406.0 819.8L1403.3 816.6L1400.2 814.0L1403.3 811.3ZM1422.9 808.2L1425.6 811.3L1428.7 814.0L1425.6 816.6L1422.9 819.8L1420.2 816.6L1417.1 814.0L1420.2 811.3ZM1406.0 825.1L1408.6 828.2L1411.8 830.9L1408.6 833.6L1406.0 836.7L1403.3 833.6L1400.2 830.9L1403.3 828.2ZM1422.9 825.1L1425.6 828.2L1428.7 830.9L1425.6 833.6L1422.9 836.7L1420.2 833.6L1417.1 830.9L1420.2 828.2ZM1439.8 825.1L1442.5 828.2L1445.6 830.9L1442.5 833.6L1439.8 836.7L1437.2 833.6L1434.0 830.9L1437.2 828.2ZM1406.0 842.0L1408.6 845.1L1411.8 847.8L1408.6 850.5L1406.0 853.6L1403.3 850.5L1400.2 847.8L1403.3 845.1ZM1422.9 842.0L1425.6 845.1L1428.7 847.8L1425.6 850.5L1422.9 853.6L1420.2 850.5L1417.1 847.8L1420.2 845.1ZM1456.8 842.0L1459.5 845.1L1462.6 847.8L1459.5 850.5L1456.8 853.6L1454.1 850.5L1451.0 847.8L1454.1 845.1ZM1406.0 858.9L1408.6 862.0L1411.8 864.7L1408.6 867.4L1406.0 870.5L1403.3 867.4L1400.2 864.7L1403.3 862.0ZM1422.9 858.9L1425.6 862.0L1428.7 864.7L1425.6 867.4L1422.9 870.5L1420.2 867.4L1417.1 864.7L1420.2 862.0ZM1439.8 858.9L1442.5 862.0L1445.6 864.7L1442.5 867.4L1439.8 870.5L1437.2 867.4L1434.0 864.7L1437.2 862.0ZM1406.0 875.8L1408.6 878.9L1411.8 881.6L1408.6 884.3L1406.0 887.4L1403.3 884.3L1400.2 881.6L1403.3 878.9ZM1422.9 875.8L1425.6 878.9L1428.7 881.6L1425.6 884.3L1422.9 887.4L1420.2 884.3L1417.1 881.6L1420.2 878.9ZM1473.7 875.8L1476.4 878.9L1479.5 881.6L1476.4 884.3L1473.7 887.4L1471.1 884.3L1467.9 881.6L1471.1 878.9ZM1490.7 875.8L1493.3 878.9L1496.5 881.6L1493.3 884.3L1490.7 887.4L1488.0 884.3L1484.9 881.6L1488.0 878.9ZM1507.6 909.6L1510.3 912.8L1513.4 915.4L1510.3 918.1L1507.6 921.2L1504.9 918.1L1501.8 915.4L1504.9 912.8ZM1406.0 943.5L1408.6 946.6L1411.8 949.3L1408.6 951.9L1406.0 955.1L1403.3 951.9L1400.2 949.3L1403.3 946.6ZM1422.9 943.5L1425.6 946.6L1428.7 949.3L1425.6 951.9L1422.9 955.1L1420.2 951.9L1417.1 949.3L1420.2 946.6ZM1439.8 943.5L1442.5 946.6L1445.6 949.3L1442.5 951.9L1439.8 955.1L1437.2 951.9L1434.0 949.3L1437.2 946.6ZM1456.8 943.5L1459.5 946.6L1462.6 949.3L1459.5 951.9L1456.8 955.1L1454.1 951.9L1451.0 949.3L1454.1 946.6ZM1473.7 943.5L1476.4 946.6L1479.5 949.3L1476.4 951.9L1473.7 955.1L1471.1 951.9L1467.9 949.3L1471.1 946.6ZM1490.7 943.5L1493.3 946.6L1496.5 949.3L1493.3 951.9L1490.7 955.1L1488.0 951.9L1484.9 949.3L1488.0 946.6ZM1507.6 943.5L1510.3 946.6L1513.4 949.3L1510.3 951.9L1507.6 955.1L1504.9 951.9L1501.8 949.3L1504.9 946.6ZM1406.0 960.4L1408.6 963.5L1411.8 966.2L1408.6 968.8L1406.0 972.0L1403.3 968.8L1400.2 966.2L1403.3 963.5ZM1422.9 960.4L1425.6 963.5L1428.7 966.2L1425.6 968.8L1422.9 972.0L1420.2 968.8L1417.1 966.2L1420.2 963.5ZM1439.8 960.4L1442.5 963.5L1445.6 966.2L1442.5 968.8L1439.8 972.0L1437.2 968.8L1434.0 966.2L1437.2 963.5ZM1456.8 960.4L1459.5 963.5L1462.6 966.2L1459.5 968.8L1456.8 972.0L1454.1 968.8L1451.0 966.2L1454.1 963.5ZM1473.7 960.4L1476.4 963.5L1479.5 966.2L1476.4 968.8L1473.7 972.0L1471.1 968.8L1467.9 966.2L1471.1 963.5ZM1490.7 960.4L1493.3 963.5L1496.5 966.2L1493.3 968.8L1490.7 972.0L1488.0 968.8L1484.9 966.2L1488.0 963.5ZM1507.6 960.4L1510.3 963.5L1513.4 966.2L1510.3 968.8L1507.6 972.0L1504.9 968.8L1501.8 966.2L1504.9 963.5ZM1575.4 960.4L1578.0 963.5L1581.2 966.2L1578.0 968.8L1575.4 972.0L1572.7 968.8L1569.6 966.2L1572.7 963.5ZM1406.0 977.3L1408.6 980.4L1411.8 983.1L1408.6 985.7L1406.0 988.9L1403.3 985.7L1400.2 983.1L1403.3 980.4ZM1422.9 977.3L1425.6 980.4L1428.7 983.1L1425.6 985.7L1422.9 988.9L1420.2 985.7L1417.1 983.1L1420.2 980.4ZM1439.8 977.3L1442.5 980.4L1445.6 983.1L1442.5 985.7L1439.8 988.9L1437.2 985.7L1434.0 983.1L1437.2 980.4ZM1456.8 977.3L1459.5 980.4L1462.6 983.1L1459.5 985.7L1456.8 988.9L1454.1 985.7L1451.0 983.1L1454.1 980.4ZM1473.7 977.3L1476.4 980.4L1479.5 983.1L1476.4 985.7L1473.7 988.9L1471.1 985.7L1467.9 983.1L1471.1 980.4ZM1490.7 977.3L1493.3 980.4L1496.5 983.1L1493.3 985.7L1490.7 988.9L1488.0 985.7L1484.9 983.1L1488.0 980.4ZM1507.6 977.3L1510.3 980.4L1513.4 983.1L1510.3 985.7L1507.6 988.9L1504.9 985.7L1501.8 983.1L1504.9 980.4ZM1575.4 977.3L1578.0 980.4L1581.2 983.1L1578.0 985.7L1575.4 988.9L1572.7 985.7L1569.6 983.1L1572.7 980.4ZM1592.3 977.3L1595.0 980.4L1598.1 983.1L1595.0 985.7L1592.3 988.9L1589.6 985.7L1586.5 983.1L1589.6 980.4ZM1406.0 994.2L1408.6 997.3L1411.8 1000.0L1408.6 1002.7L1406.0 1005.8L1403.3 1002.7L1400.2 1000.0L1403.3 997.3ZM1422.9 994.2L1425.6 997.3L1428.7 1000.0L1425.6 1002.7L1422.9 1005.8L1420.2 1002.7L1417.1 1000.0L1420.2 997.3ZM1439.8 994.2L1442.5 997.3L1445.6 1000.0L1442.5 1002.7L1439.8 1005.8L1437.2 1002.7L1434.0 1000.0L1437.2 997.3ZM1456.8 994.2L1459.5 997.3L1462.6 1000.0L1459.5 1002.7L1456.8 1005.8L1454.1 1002.7L1451.0 1000.0L1454.1 997.3ZM1473.7 994.2L1476.4 997.3L1479.5 1000.0L1476.4 1002.7L1473.7 1005.8L1471.1 1002.7L1467.9 1000.0L1471.1 997.3ZM1490.7 994.2L1493.3 997.3L1496.5 1000.0L1493.3 1002.7L1490.7 1005.8L1488.0 1002.7L1484.9 1000.0L1488.0 997.3ZM1507.6 994.2L1510.3 997.3L1513.4 1000.0L1510.3 1002.7L1507.6 1005.8L1504.9 1002.7L1501.8 1000.0L1504.9 997.3ZM1575.4 994.2L1578.0 997.3L1581.2 1000.0L1578.0 1002.7L1575.4 1005.8L1572.7 1002.7L1569.6 1000.0L1572.7 997.3ZM1592.3 994.2L1595.0 997.3L1598.1 1000.0L1595.0 1002.7L1592.3 1005.8L1589.6 1002.7L1586.5 1000.0L1589.6 997.3ZM1609.2 994.2L1611.9 997.3L1615.0 1000.0L1611.9 1002.7L1609.2 1005.8L1606.6 1002.7L1603.5 1000.0L1606.6 997.3ZM1406.0 1011.1L1408.6 1014.2L1411.8 1016.9L1408.6 1019.6L1406.0 1022.7L1403.3 1019.6L1400.2 1016.9L1403.3 1014.2ZM1422.9 1011.1L1425.6 1014.2L1428.7 1016.9L1425.6 1019.6L1422.9 1022.7L1420.2 1019.6L1417.1 1016.9L1420.2 1014.2ZM1473.7 1011.1L1476.4 1014.2L1479.5 1016.9L1476.4 1019.6L1473.7 1022.7L1471.1 1019.6L1467.9 1016.9L1471.1 1014.2ZM1490.7 1011.1L1493.3 1014.2L1496.5 1016.9L1493.3 1019.6L1490.7 1022.7L1488.0 1019.6L1484.9 1016.9L1488.0 1014.2ZM1507.6 1011.1L1510.3 1014.2L1513.4 1016.9L1510.3 1019.6L1507.6 1022.7L1504.9 1019.6L1501.8 1016.9L1504.9 1014.2ZM1575.4 1011.1L1578.0 1014.2L1581.2 1016.9L1578.0 1019.6L1575.4 1022.7L1572.7 1019.6L1569.6 1016.9L1572.7 1014.2ZM1592.3 1011.1L1595.0 1014.2L1598.1 1016.9L1595.0 1019.6L1592.3 1022.7L1589.6 1019.6L1586.5 1016.9L1589.6 1014.2ZM1609.2 1011.1L1611.9 1014.2L1615.0 1016.9L1611.9 1019.6L1609.2 1022.7L1606.6 1019.6L1603.5 1016.9L1606.6 1014.2ZM1626.2 1011.1L1628.9 1014.2L1632.0 1016.9L1628.9 1019.6L1626.2 1022.7L1623.5 1019.6L1620.4 1016.9L1623.5 1014.2ZM1406.0 1028.0L1408.6 1031.1L1411.8 1033.8L1408.6 1036.5L1406.0 1039.6L1403.3 1036.5L1400.2 1033.8L1403.3 1031.1ZM1422.9 1028.0L1425.6 1031.1L1428.7 1033.8L1425.6 1036.5L1422.9 1039.6L1420.2 1036.5L1417.1 1033.8L1420.2 1031.1ZM1439.8 1028.0L1442.5 1031.1L1445.6 1033.8L1442.5 1036.5L1439.8 1039.6L1437.2 1036.5L1434.0 1033.8L1437.2 1031.1ZM1456.8 1028.0L1459.5 1031.1L1462.6 1033.8L1459.5 1036.5L1456.8 1039.6L1454.1 1036.5L1451.0 1033.8L1454.1 1031.1ZM1473.7 1028.0L1476.4 1031.1L1479.5 1033.8L1476.4 1036.5L1473.7 1039.6L1471.1 1036.5L1467.9 1033.8L1471.1 1031.1ZM1490.7 1028.0L1493.3 1031.1L1496.5 1033.8L1493.3 1036.5L1490.7 1039.6L1488.0 1036.5L1484.9 1033.8L1488.0 1031.1ZM1507.6 1028.0L1510.3 1031.1L1513.4 1033.8L1510.3 1036.5L1507.6 1039.6L1504.9 1036.5L1501.8 1033.8L1504.9 1031.1ZM1541.5 1028.0L1544.2 1031.1L1547.3 1033.8L1544.2 1036.5L1541.5 1039.6L1538.8 1036.5L1535.7 1033.8L1538.8 1031.1ZM1575.4 1028.0L1578.0 1031.1L1581.2 1033.8L1578.0 1036.5L1575.4 1039.6L1572.7 1036.5L1569.6 1033.8L1572.7 1031.1ZM1592.3 1028.0L1595.0 1031.1L1598.1 1033.8L1595.0 1036.5L1592.3 1039.6L1589.6 1036.5L1586.5 1033.8L1589.6 1031.1ZM1609.2 1028.0L1611.9 1031.1L1615.0 1033.8L1611.9 1036.5L1609.2 1039.6L1606.6 1036.5L1603.5 1033.8L1606.6 1031.1ZM1626.2 1028.0L1628.9 1031.1L1632.0 1033.8L1628.9 1036.5L1626.2 1039.6L1623.5 1036.5L1620.4 1033.8L1623.5 1031.1ZM1643.1 1028.0L1645.8 1031.1L1648.9 1033.8L1645.8 1036.5L1643.1 1039.6L1640.5 1036.5L1637.3 1033.8L1640.5 1031.1ZM1406.0 1044.9L1408.6 1048.0L1411.8 1050.7L1408.6 1053.4L1406.0 1056.5L1403.3 1053.4L1400.2 1050.7L1403.3 1048.0ZM1422.9 1044.9L1425.6 1048.0L1428.7 1050.7L1425.6 1053.4L1422.9 1056.5L1420.2 1053.4L1417.1 1050.7L1420.2 1048.0ZM1456.8 1044.9L1459.5 1048.0L1462.6 1050.7L1459.5 1053.4L1456.8 1056.5L1454.1 1053.4L1451.0 1050.7L1454.1 1048.0ZM1473.7 1044.9L1476.4 1048.0L1479.5 1050.7L1476.4 1053.4L1473.7 1056.5L1471.1 1053.4L1467.9 1050.7L1471.1 1048.0ZM1490.7 1044.9L1493.3 1048.0L1496.5 1050.7L1493.3 1053.4L1490.7 1056.5L1488.0 1053.4L1484.9 1050.7L1488.0 1048.0ZM1507.6 1044.9L1510.3 1048.0L1513.4 1050.7L1510.3 1053.4L1507.6 1056.5L1504.9 1053.4L1501.8 1050.7L1504.9 1048.0ZM1575.4 1044.9L1578.0 1048.0L1581.2 1050.7L1578.0 1053.4L1575.4 1056.5L1572.7 1053.4L1569.6 1050.7L1572.7 1048.0ZM1592.3 1044.9L1595.0 1048.0L1598.1 1050.7L1595.0 1053.4L1592.3 1056.5L1589.6 1053.4L1586.5 1050.7L1589.6 1048.0ZM1609.2 1044.9L1611.9 1048.0L1615.0 1050.7L1611.9 1053.4L1609.2 1056.5L1606.6 1053.4L1603.5 1050.7L1606.6 1048.0ZM1626.2 1044.9L1628.9 1048.0L1632.0 1050.7L1628.9 1053.4L1626.2 1056.5L1623.5 1053.4L1620.4 1050.7L1623.5 1048.0ZM1643.1 1044.9L1645.8 1048.0L1648.9 1050.7L1645.8 1053.4L1643.1 1056.5L1640.5 1053.4L1637.3 1050.7L1640.5 1048.0ZM1660.1 1044.9L1662.7 1048.0L1665.9 1050.7L1662.7 1053.4L1660.1 1056.5L1657.4 1053.4L1654.3 1050.7L1657.4 1048.0ZM1406.0 1061.8L1408.6 1065.0L1411.8 1067.6L1408.6 1070.3L1406.0 1073.4L1403.3 1070.3L1400.2 1067.6L1403.3 1065.0ZM1422.9 1061.8L1425.6 1065.0L1428.7 1067.6L1425.6 1070.3L1422.9 1073.4L1420.2 1070.3L1417.1 1067.6L1420.2 1065.0ZM1439.8 1061.8L1442.5 1065.0L1445.6 1067.6L1442.5 1070.3L1439.8 1073.4L1437.2 1070.3L1434.0 1067.6L1437.2 1065.0ZM1456.8 1061.8L1459.5 1065.0L1462.6 1067.6L1459.5 1070.3L1456.8 1073.4L1454.1 1070.3L1451.0 1067.6L1454.1 1065.0ZM1473.7 1061.8L1476.4 1065.0L1479.5 1067.6L1476.4 1070.3L1473.7 1073.4L1471.1 1070.3L1467.9 1067.6L1471.1 1065.0ZM1575.4 1061.8L1578.0 1065.0L1581.2 1067.6L1578.0 1070.3L1575.4 1073.4L1572.7 1070.3L1569.6 1067.6L1572.7 1065.0ZM1592.3 1061.8L1595.0 1065.0L1598.1 1067.6L1595.0 1070.3L1592.3 1073.4L1589.6 1070.3L1586.5 1067.6L1589.6 1065.0ZM1626.2 1061.8L1628.9 1065.0L1632.0 1067.6L1628.9 1070.3L1626.2 1073.4L1623.5 1070.3L1620.4 1067.6L1623.5 1065.0ZM1677.0 1061.8L1679.7 1065.0L1682.8 1067.6L1679.7 1070.3L1677.0 1073.4L1674.3 1070.3L1671.2 1067.6L1674.3 1065.0ZM1660.1 1078.7L1662.7 1081.9L1665.9 1084.5L1662.7 1087.2L1660.1 1090.3L1657.4 1087.2L1654.3 1084.5L1657.4 1081.9Z" fill="#fff"/>
</g>
<line x1="1566.9" y1="771.7" x2="1566.9" y2="1109.9" stroke="#000" stroke-width="1.8"/>
<line x1="1393.0" y1="940.8" x2="1727.0" y2="940.8" stroke="#000" stroke-width="1.8"/>
</g>
<line x1="1397.5" y1="763.7" x2="1397.5" y2="1088.4" stroke="#111" stroke-width="1.6"/>
<line x1="1393.8" y1="1088" x2="1393.8" y2="1110" stroke="#00008f" stroke-width="1.3"/>
<clipPath id="c1163"><rect x="634.5" y="1119.0" width="342.5" height="337.5"/></clipPath>
<g clip-path="url(#c1163)">
<rect x="632.5" y="1117.0" width="346.5" height="341.5" fill="#00008f"/>
<g filter="url(#bl)">
<rect x="637.90" y="1135.88" width="17.76" height="17.68" fill="#dbff24"/>
<rect x="637.90" y="1152.75" width="17.76" height="17.68" fill="#fffa00"/>
<rect x="654.86" y="1152.75" width="17.76" height="17.68" fill="#faff05"/>
<rect x="637.90" y="1169.62" width="17.76" height="17.68" fill="#ffe500"/>
<rect x="654.86" y="1169.62" width="17.76" height="17.68" fill="#faff05"/>
<rect x="671.81" y="1169.62" width="17.76" height="17.68" fill="#faff05"/>
<rect x="637.90" y="1186.50" width="17.76" height="17.68" fill="#ffd100"/>
<rect x="654.86" y="1186.50" width="17.76" height="17.68" fill="#fffa00"/>
<rect x="671.81" y="1186.50" width="17.76" height="17.68" fill="#fff000"/>
<rect x="688.76" y="1186.50" width="17.76" height="17.68" fill="#e5ff1a"/>
<rect x="637.90" y="1203.38" width="17.76" height="17.68" fill="#ffdb00"/>
<rect x="654.86" y="1203.38" width="17.76" height="17.68" fill="#fffa00"/>
<rect x="671.81" y="1203.38" width="17.76" height="17.68" fill="#fff000"/>
<rect x="688.76" y="1203.38" width="17.76" height="17.68" fill="#a8ff57"/>
<rect x="705.72" y="1203.38" width="17.76" height="17.68" fill="#9eff61"/>
<rect x="637.90" y="1220.25" width="17.76" height="17.68" fill="#fff000"/>
<rect x="654.86" y="1220.25" width="17.76" height="17.68" fill="#f0ff0f"/>
<rect x="671.81" y="1220.25" width="17.76" height="17.68" fill="#e5ff1a"/>
<rect x="688.76" y="1220.25" width="17.76" height="17.68" fill="#c7ff38"/>
<rect x="705.72" y="1220.25" width="17.76" height="17.68" fill="#a8ff57"/>
<rect x="722.67" y="1220.25" width="17.76" height="17.68" fill="#94ff6b"/>
<rect x="637.90" y="1237.12" width="17.76" height="17.68" fill="#c7ff38"/>
<rect x="654.86" y="1237.12" width="17.76" height="17.68" fill="#bdff42"/>
<rect x="671.81" y="1237.12" width="17.76" height="17.68" fill="#b3ff4c"/>
<rect x="688.76" y="1237.12" width="17.76" height="17.68" fill="#bdff42"/>
<rect x="705.72" y="1237.12" width="17.76" height="17.68" fill="#faff05"/>
<rect x="722.67" y="1237.12" width="17.76" height="17.68" fill="#f0ff0f"/>
<rect x="739.63" y="1237.12" width="17.76" height="17.68" fill="#fffa00"/>
<rect x="637.90" y="1254.00" width="17.76" height="17.68" fill="#8aff75"/>
<rect x="654.86" y="1254.00" width="17.76" height="17.68" fill="#8aff75"/>
<rect x="671.81" y="1254.00" width="17.76" height="17.68" fill="#8aff75"/>
<rect x="688.76" y="1254.00" width="17.76" height="17.68" fill="#bdff42"/>
<rect x="705.72" y="1254.00" width="17.76" height="17.68" fill="#57ffa8"/>
<rect x="722.67" y="1254.00" width="17.76" height="17.68" fill="#61ff9e"/>
<rect x="739.63" y="1254.00" width="17.76" height="17.68" fill="#2effd1"/>
<rect x="756.59" y="1254.00" width="17.76" height="17.68" fill="#94ff6b"/>
<rect x="637.90" y="1270.88" width="17.76" height="17.68" fill="#a8ff57"/>
<rect x="654.86" y="1270.88" width="17.76" height="17.68" fill="#b3ff4c"/>
<rect x="671.81" y="1270.88" width="17.76" height="17.68" fill="#9eff61"/>
<rect x="688.76" y="1270.88" width="17.76" height="17.68" fill="#75ff8a"/>
<rect x="705.72" y="1270.88" width="17.76" height="17.68" fill="#94ff6b"/>
<rect x="722.67" y="1270.88" width="17.76" height="17.68" fill="#94ff6b"/>
<rect x="739.63" y="1270.88" width="17.76" height="17.68" fill="#bdff42"/>
<rect x="756.59" y="1270.88" width="17.76" height="17.68" fill="#75ff8a"/>
<rect x="773.54" y="1270.88" width="17.76" height="17.68" fill="#9eff61"/>
<rect x="637.90" y="1287.75" width="17.76" height="17.68" fill="#05fffa"/>
<rect x="654.86" y="1287.75" width="17.76" height="17.68" fill="#2effd1"/>
<rect x="671.81" y="1287.75" width="17.76" height="17.68" fill="#38ffc7"/>
<rect x="688.76" y="1287.75" width="17.76" height="17.68" fill="#00bdff"/>
<rect x="705.72" y="1287.75" width="17.76" height="17.68" fill="#00b2ff"/>
<rect x="722.67" y="1287.75" width="17.76" height="17.68" fill="#0094ff"/>
<rect x="739.63" y="1287.75" width="17.76" height="17.68" fill="#80ff80"/>
<rect x="756.59" y="1287.75" width="17.76" height="17.68" fill="#fffa00"/>
<rect x="773.54" y="1287.75" width="17.76" height="17.68" fill="#00f0ff"/>
<rect x="790.50" y="1287.75" width="17.76" height="17.68" fill="#a8ff57"/>
<rect x="637.90" y="1304.62" width="17.76" height="17.68" fill="#05fffa"/>
<rect x="654.86" y="1304.62" width="17.76" height="17.68" fill="#2effd1"/>
<rect x="671.81" y="1304.62" width="17.76" height="17.68" fill="#38ffc7"/>
<rect x="688.76" y="1304.62" width="17.76" height="17.68" fill="#00f0ff"/>
<rect x="705.72" y="1304.62" width="17.76" height="17.68" fill="#00e5ff"/>
<rect x="722.67" y="1304.62" width="17.76" height="17.68" fill="#00c7ff"/>
<rect x="739.63" y="1304.62" width="17.76" height="17.68" fill="#80ff80"/>
<rect x="756.59" y="1304.62" width="17.76" height="17.68" fill="#faff05"/>
<rect x="773.54" y="1304.62" width="17.76" height="17.68" fill="#05fffa"/>
<rect x="790.50" y="1304.62" width="17.76" height="17.68" fill="#b3ff4c"/>
<rect x="807.45" y="1304.62" width="17.76" height="17.68" fill="#0000f0"/>
<rect x="637.90" y="1321.50" width="17.76" height="17.68" fill="#05fffa"/>
<rect x="654.86" y="1321.50" width="17.76" height="17.68" fill="#2effd1"/>
<rect x="671.81" y="1321.50" width="17.76" height="17.68" fill="#38ffc7"/>
<rect x="688.76" y="1321.50" width="17.76" height="17.68" fill="#2effd1"/>
<rect x="705.72" y="1321.50" width="17.76" height="17.68" fill="#2effd1"/>
<rect x="722.67" y="1321.50" width="17.76" height="17.68" fill="#2effd1"/>
<rect x="739.63" y="1321.50" width="17.76" height="17.68" fill="#8aff75"/>
<rect x="756.59" y="1321.50" width="17.76" height="17.68" fill="#dbff24"/>
<rect x="773.54" y="1321.50" width="17.76" height="17.68" fill="#2effd1"/>
<rect x="790.50" y="1321.50" width="17.76" height="17.68" fill="#a8ff57"/>
<rect x="807.45" y="1321.50" width="17.76" height="17.68" fill="#004dff"/>
<rect x="824.40" y="1321.50" width="17.76" height="17.68" fill="#001aff"/>
<rect x="637.90" y="1338.38" width="17.76" height="17.68" fill="#05fffa"/>
<rect x="654.86" y="1338.38" width="17.76" height="17.68" fill="#24ffdb"/>
<rect x="671.81" y="1338.38" width="17.76" height="17.68" fill="#2effd1"/>
<rect x="688.76" y="1338.38" width="17.76" height="17.68" fill="#00e5ff"/>
<rect x="705.72" y="1338.38" width="17.76" height="17.68" fill="#008aff"/>
<rect x="722.67" y="1338.38" width="17.76" height="17.68" fill="#0075ff"/>
<rect x="739.63" y="1338.38" width="17.76" height="17.68" fill="#4dffb2"/>
<rect x="756.59" y="1338.38" width="17.76" height="17.68" fill="#bdff42"/>
<rect x="773.54" y="1338.38" width="17.76" height="17.68" fill="#1affe5"/>
<rect x="790.50" y="1338.38" width="17.76" height="17.68" fill="#9eff61"/>
<rect x="807.45" y="1338.38" width="17.76" height="17.68" fill="#0075ff"/>
<rect x="824.40" y="1338.38" width="17.76" height="17.68" fill="#00c7ff"/>
<rect x="841.36" y="1338.38" width="17.76" height="17.68" fill="#00f0ff"/>
<rect x="637.90" y="1355.25" width="17.76" height="17.68" fill="#00faff"/>
<rect x="654.86" y="1355.25" width="17.76" height="17.68" fill="#24ffdb"/>
<rect x="671.81" y="1355.25" width="17.76" height="17.68" fill="#2effd1"/>
<rect x="688.76" y="1355.25" width="17.76" height="17.68" fill="#00e5ff"/>
<rect x="705.72" y="1355.25" width="17.76" height="17.68" fill="#0061ff"/>
<rect x="722.67" y="1355.25" width="17.76" height="17.68" fill="#002eff"/>
<rect x="739.63" y="1355.25" width="17.76" height="17.68" fill="#05fffa"/>
<rect x="756.59" y="1355.25" width="17.76" height="17.68" fill="#c7ff38"/>
<rect x="773.54" y="1355.25" width="17.76" height="17.68" fill="#00faff"/>
<rect x="790.50" y="1355.25" width="17.76" height="17.68" fill="#9eff61"/>
<rect x="807.45" y="1355.25" width="17.76" height="17.68" fill="#0075ff"/>
<rect x="824.40" y="1355.25" width="17.76" height="17.68" fill="#009eff"/>
<rect x="841.36" y="1355.25" width="17.76" height="17.68" fill="#00c7ff"/>
<rect x="858.32" y="1355.25" width="17.76" height="17.68" fill="#00faff"/>
<rect x="637.90" y="1372.12" width="17.76" height="17.68" fill="#00dbff"/>
<rect x="654.86" y="1372.12" width="17.76" height="17.68" fill="#05fffa"/>
<rect x="671.81" y="1372.12" width="17.76" height="17.68" fill="#1affe5"/>
<rect x="688.76" y="1372.12" width="17.76" height="17.68" fill="#0094ff"/>
<rect x="705.72" y="1372.12" width="17.76" height="17.68" fill="#002eff"/>
<rect x="722.67" y="1372.12" width="17.76" height="17.68" fill="#0000fa"/>
<rect x="739.63" y="1372.12" width="17.76" height="17.68" fill="#05fffa"/>
<rect x="756.59" y="1372.12" width="17.76" height="17.68" fill="#faff05"/>
<rect x="773.54" y="1372.12" width="17.76" height="17.68" fill="#00b2ff"/>
<rect x="790.50" y="1372.12" width="17.76" height="17.68" fill="#94ff6b"/>
<rect x="807.45" y="1372.12" width="17.76" height="17.68" fill="#00e5ff"/>
<rect x="824.40" y="1372.12" width="17.76" height="17.68" fill="#00b2ff"/>
<rect x="841.36" y="1372.12" width="17.76" height="17.68" fill="#00f0ff"/>
<rect x="858.32" y="1372.12" width="17.76" height="17.68" fill="#00d1ff"/>
<rect x="875.27" y="1372.12" width="17.76" height="17.68" fill="#000fff"/>
<rect x="637.90" y="1389.00" width="17.76" height="17.68" fill="#61ff9e"/>
<rect x="654.86" y="1389.00" width="17.76" height="17.68" fill="#4dffb2"/>
<rect x="671.81" y="1389.00" width="17.76" height="17.68" fill="#42ffbd"/>
<rect x="688.76" y="1389.00" width="17.76" height="17.68" fill="#42ffbd"/>
<rect x="705.72" y="1389.00" width="17.76" height="17.68" fill="#00faff"/>
<rect x="722.67" y="1389.00" width="17.76" height="17.68" fill="#00e5ff"/>
<rect x="739.63" y="1389.00" width="17.76" height="17.68" fill="#00faff"/>
<rect x="756.59" y="1389.00" width="17.76" height="17.68" fill="#9eff61"/>
<rect x="773.54" y="1389.00" width="17.76" height="17.68" fill="#2effd1"/>
<rect x="790.50" y="1389.00" width="17.76" height="17.68" fill="#c7ff38"/>
<rect x="807.45" y="1389.00" width="17.76" height="17.68" fill="#2effd1"/>
<rect x="824.40" y="1389.00" width="17.76" height="17.68" fill="#2effd1"/>
<rect x="841.36" y="1389.00" width="17.76" height="17.68" fill="#2effd1"/>
<rect x="858.32" y="1389.00" width="17.76" height="17.68" fill="#42ffbd"/>
<rect x="875.27" y="1389.00" width="17.76" height="17.68" fill="#24ffdb"/>
<rect x="892.23" y="1389.00" width="17.76" height="17.68" fill="#24ffdb"/>
<rect x="637.90" y="1405.88" width="17.76" height="17.68" fill="#94ff6b"/>
<rect x="654.86" y="1405.88" width="17.76" height="17.68" fill="#9eff61"/>
<rect x="671.81" y="1405.88" width="17.76" height="17.68" fill="#61ff9e"/>
<rect x="688.76" y="1405.88" width="17.76" height="17.68" fill="#6bff94"/>
<rect x="705.72" y="1405.88" width="17.76" height="17.68" fill="#b3ff4c"/>
<rect x="722.67" y="1405.88" width="17.76" height="17.68" fill="#a8ff57"/>
<rect x="739.63" y="1405.88" width="17.76" height="17.68" fill="#bdff42"/>
<rect x="756.59" y="1405.88" width="17.76" height="17.68" fill="#61ff9e"/>
<rect x="773.54" y="1405.88" width="17.76" height="17.68" fill="#9eff61"/>
<rect x="790.50" y="1405.88" width="17.76" height="17.68" fill="#80ff80"/>
<rect x="807.45" y="1405.88" width="17.76" height="17.68" fill="#9eff61"/>
<rect x="824.40" y="1405.88" width="17.76" height="17.68" fill="#9eff61"/>
<rect x="841.36" y="1405.88" width="17.76" height="17.68" fill="#80ff80"/>
<rect x="858.32" y="1405.88" width="17.76" height="17.68" fill="#a8ff57"/>
<rect x="875.27" y="1405.88" width="17.76" height="17.68" fill="#a8ff57"/>
<rect x="892.23" y="1405.88" width="17.76" height="17.68" fill="#d1ff2e"/>
<rect x="909.18" y="1405.88" width="17.76" height="17.68" fill="#9eff61"/>
<rect x="637.90" y="1422.75" width="17.76" height="17.68" fill="#38ffc7"/>
<rect x="654.86" y="1422.75" width="17.76" height="17.68" fill="#38ffc7"/>
<rect x="671.81" y="1422.75" width="17.76" height="17.68" fill="#38ffc7"/>
<rect x="688.76" y="1422.75" width="17.76" height="17.68" fill="#42ffbd"/>
<rect x="705.72" y="1422.75" width="17.76" height="17.68" fill="#00bdff"/>
<rect x="722.67" y="1422.75" width="17.76" height="17.68" fill="#00f0ff"/>
<rect x="739.63" y="1422.75" width="17.76" height="17.68" fill="#00b2ff"/>
<rect x="756.59" y="1422.75" width="17.76" height="17.68" fill="#57ffa8"/>
<rect x="773.54" y="1422.75" width="17.76" height="17.68" fill="#57ffa8"/>
<rect x="790.50" y="1422.75" width="17.76" height="17.68" fill="#24ffdb"/>
<rect x="807.45" y="1422.75" width="17.76" height="17.68" fill="#0094ff"/>
<rect x="824.40" y="1422.75" width="17.76" height="17.68" fill="#00c7ff"/>
<rect x="841.36" y="1422.75" width="17.76" height="17.68" fill="#00faff"/>
<rect x="858.32" y="1422.75" width="17.76" height="17.68" fill="#00faff"/>
<rect x="875.27" y="1422.75" width="17.76" height="17.68" fill="#00bdff"/>
<rect x="892.23" y="1422.75" width="17.76" height="17.68" fill="#0080ff"/>
<rect x="909.18" y="1422.75" width="17.76" height="17.68" fill="#00e5ff"/>
<rect x="926.13" y="1422.75" width="17.76" height="17.68" fill="#61ff9e"/>
<rect x="637.90" y="1439.62" width="17.76" height="17.68" fill="#94ff6b"/>
<rect x="654.86" y="1439.62" width="17.76" height="17.68" fill="#8aff75"/>
<rect x="671.81" y="1439.62" width="17.76" height="17.68" fill="#57ffa8"/>
<rect x="688.76" y="1439.62" width="17.76" height="17.68" fill="#61ff9e"/>
<rect x="705.72" y="1439.62" width="17.76" height="17.68" fill="#b3ff4c"/>
<rect x="722.67" y="1439.62" width="17.76" height="17.68" fill="#b3ff4c"/>
<rect x="739.63" y="1439.62" width="17.76" height="17.68" fill="#dbff24"/>
<rect x="756.59" y="1439.62" width="17.76" height="17.68" fill="#0ffff0"/>
<rect x="773.54" y="1439.62" width="17.76" height="17.68" fill="#a8ff57"/>
<rect x="790.50" y="1439.62" width="17.76" height="17.68" fill="#a8ff57"/>
<rect x="807.45" y="1439.62" width="17.76" height="17.68" fill="#9eff61"/>
<rect x="824.40" y="1439.62" width="17.76" height="17.68" fill="#9eff61"/>
<rect x="841.36" y="1439.62" width="17.76" height="17.68" fill="#9eff61"/>
<rect x="858.32" y="1439.62" width="17.76" height="17.68" fill="#bdff42"/>
<rect x="875.27" y="1439.62" width="17.76" height="17.68" fill="#d1ff2e"/>
<rect x="892.23" y="1439.62" width="17.76" height="17.68" fill="#d1ff2e"/>
<rect x="909.18" y="1439.62" width="17.76" height="17.68" fill="#d1ff2e"/>
<rect x="926.13" y="1439.62" width="17.76" height="17.68" fill="#61ff9e"/>
<rect x="943.09" y="1439.62" width="17.76" height="17.68" fill="#80ff80"/>
<path d="M815.9 1307.3L818.6 1310.4L821.7 1313.1L818.6 1315.7L815.9 1318.9L813.3 1315.7L810.1 1313.1L813.3 1310.4ZM815.9 1324.1L818.6 1327.3L821.7 1329.9L818.6 1332.6L815.9 1335.7L813.3 1332.6L810.1 1329.9L813.3 1327.3ZM832.9 1324.1L835.6 1327.3L838.7 1329.9L835.6 1332.6L832.9 1335.7L830.2 1332.6L827.1 1329.9L830.2 1327.3ZM714.2 1341.0L716.9 1344.1L720.0 1346.8L716.9 1349.5L714.2 1352.6L711.5 1349.5L708.4 1346.8L711.5 1344.1ZM731.2 1341.0L733.8 1344.1L737.0 1346.8L733.8 1349.5L731.2 1352.6L728.5 1349.5L725.4 1346.8L728.5 1344.1ZM731.2 1357.9L733.8 1361.0L737.0 1363.7L733.8 1366.4L731.2 1369.5L728.5 1366.4L725.4 1363.7L728.5 1361.0ZM714.2 1374.8L716.9 1377.9L720.0 1380.6L716.9 1383.2L714.2 1386.4L711.5 1383.2L708.4 1380.6L711.5 1377.9ZM731.2 1374.8L733.8 1377.9L737.0 1380.6L733.8 1383.2L731.2 1386.4L728.5 1383.2L725.4 1380.6L728.5 1377.9ZM866.8 1374.8L869.5 1377.9L872.6 1380.6L869.5 1383.2L866.8 1386.4L864.1 1383.2L861.0 1380.6L864.1 1377.9ZM883.7 1374.8L886.4 1377.9L889.5 1380.6L886.4 1383.2L883.7 1386.4L881.1 1383.2L877.9 1380.6L881.1 1377.9ZM748.1 1425.4L750.8 1428.5L753.9 1431.2L750.8 1433.9L748.1 1437.0L745.4 1433.9L742.3 1431.2L745.4 1428.5ZM900.7 1425.4L903.4 1428.5L906.5 1431.2L903.4 1433.9L900.7 1437.0L898.0 1433.9L894.9 1431.2L898.0 1428.5ZM917.7 1425.4L920.3 1428.5L923.5 1431.2L920.3 1433.9L917.7 1437.0L915.0 1433.9L911.9 1431.2L915.0 1428.5Z" fill="#fff"/>
</g>
<line x1="807.5" y1="1119.0" x2="807.5" y2="1456.5" stroke="#000" stroke-width="1.8"/>
<line x1="634.5" y1="1287.8" x2="977.0" y2="1287.8" stroke="#000" stroke-width="1.8"/>
</g>
<line x1="637.9" y1="1111.0" x2="637.9" y2="1456.5" stroke="#111" stroke-width="1.6"/>
<line x1="976.3" y1="1111.0" x2="976.3" y2="1119.0" stroke="#444" stroke-width="1.4"/>
<clipPath id="c1364"><rect x="1014.5" y="1119.0" width="341.4" height="337.5"/></clipPath>
<g clip-path="url(#c1364)">
<rect x="1012.5" y="1117.0" width="345.4" height="341.5" fill="#00008f"/>
<g filter="url(#bl)">
<rect x="1017.90" y="1135.88" width="17.70" height="17.68" fill="#00dbff"/>
<rect x="1017.90" y="1152.75" width="17.70" height="17.68" fill="#00c7ff"/>
<rect x="1034.80" y="1152.75" width="17.70" height="17.68" fill="#00a8ff"/>
<rect x="1017.90" y="1169.62" width="17.70" height="17.68" fill="#38ffc7"/>
<rect x="1034.80" y="1169.62" width="17.70" height="17.68" fill="#00e5ff"/>
<rect x="1051.70" y="1169.62" width="17.70" height="17.68" fill="#4dffb2"/>
<rect x="1017.90" y="1186.50" width="17.70" height="17.68" fill="#6bff94"/>
<rect x="1034.80" y="1186.50" width="17.70" height="17.68" fill="#0ffff0"/>
<rect x="1051.70" y="1186.50" width="17.70" height="17.68" fill="#75ff8a"/>
<rect x="1068.60" y="1186.50" width="17.70" height="17.68" fill="#c7ff38"/>
<rect x="1017.90" y="1203.38" width="17.70" height="17.68" fill="#6bff94"/>
<rect x="1034.80" y="1203.38" width="17.70" height="17.68" fill="#2effd1"/>
<rect x="1051.70" y="1203.38" width="17.70" height="17.68" fill="#4dffb2"/>
<rect x="1068.60" y="1203.38" width="17.70" height="17.68" fill="#42ffbd"/>
<rect x="1085.50" y="1203.38" width="17.70" height="17.68" fill="#24ffdb"/>
<rect x="1017.90" y="1220.25" width="17.70" height="17.68" fill="#e5ff1a"/>
<rect x="1034.80" y="1220.25" width="17.70" height="17.68" fill="#dbff24"/>
<rect x="1051.70" y="1220.25" width="17.70" height="17.68" fill="#94ff6b"/>
<rect x="1068.60" y="1220.25" width="17.70" height="17.68" fill="#4dffb2"/>
<rect x="1085.50" y="1220.25" width="17.70" height="17.68" fill="#00e5ff"/>
<rect x="1102.40" y="1220.25" width="17.70" height="17.68" fill="#e5ff1a"/>
<rect x="1017.90" y="1237.12" width="17.70" height="17.68" fill="#bdff42"/>
<rect x="1034.80" y="1237.12" width="17.70" height="17.68" fill="#b3ff4c"/>
<rect x="1051.70" y="1237.12" width="17.70" height="17.68" fill="#61ff9e"/>
<rect x="1068.60" y="1237.12" width="17.70" height="17.68" fill="#57ffa8"/>
<rect x="1085.50" y="1237.12" width="17.70" height="17.68" fill="#bdff42"/>
<rect x="1102.40" y="1237.12" width="17.70" height="17.68" fill="#f0ff0f"/>
<rect x="1119.30" y="1237.12" width="17.70" height="17.68" fill="#faff05"/>
<rect x="1017.90" y="1254.00" width="17.70" height="17.68" fill="#bdff42"/>
<rect x="1034.80" y="1254.00" width="17.70" height="17.68" fill="#94ff6b"/>
<rect x="1051.70" y="1254.00" width="17.70" height="17.68" fill="#94ff6b"/>
<rect x="1068.60" y="1254.00" width="17.70" height="17.68" fill="#ffe500"/>
<rect x="1085.50" y="1254.00" width="17.70" height="17.68" fill="#d1ff2e"/>
<rect x="1102.40" y="1254.00" width="17.70" height="17.68" fill="#faff05"/>
<rect x="1119.30" y="1254.00" width="17.70" height="17.68" fill="#00faff"/>
<rect x="1136.20" y="1254.00" width="17.70" height="17.68" fill="#a8ff57"/>
<rect x="1017.90" y="1270.88" width="17.70" height="17.68" fill="#ffbd00"/>
<rect x="1034.80" y="1270.88" width="17.70" height="17.68" fill="#ffd100"/>
<rect x="1051.70" y="1270.88" width="17.70" height="17.68" fill="#bdff42"/>
<rect x="1068.60" y="1270.88" width="17.70" height="17.68" fill="#dbff24"/>
<rect x="1085.50" y="1270.88" width="17.70" height="17.68" fill="#ffdb00"/>
<rect x="1102.40" y="1270.88" width="17.70" height="17.68" fill="#ff6b00"/>
<rect x="1119.30" y="1270.88" width="17.70" height="17.68" fill="#ffdb00"/>
<rect x="1136.20" y="1270.88" width="17.70" height="17.68" fill="#42ffbd"/>
<rect x="1153.10" y="1270.88" width="17.70" height="17.68" fill="#b3ff4c"/>
<rect x="1017.90" y="1287.75" width="17.70" height="17.68" fill="#0061ff"/>
<rect x="1034.80" y="1287.75" width="17.70" height="17.68" fill="#0094ff"/>
<rect x="1051.70" y="1287.75" width="17.70" height="17.68" fill="#0080ff"/>
<rect x="1068.60" y="1287.75" width="17.70" height="17.68" fill="#0000e6"/>
<rect x="1085.50" y="1287.75" width="17.70" height="17.68" fill="#0000d1"/>
<rect x="1102.40" y="1287.75" width="17.70" height="17.68" fill="#0000e6"/>
<rect x="1119.30" y="1287.75" width="17.70" height="17.68" fill="#00bdff"/>
<rect x="1136.20" y="1287.75" width="17.70" height="17.68" fill="#75ff8a"/>
<rect x="1153.10" y="1287.75" width="17.70" height="17.68" fill="#0038ff"/>
<rect x="1170.00" y="1287.75" width="17.70" height="17.68" fill="#42ffbd"/>
<rect x="1017.90" y="1304.62" width="17.70" height="17.68" fill="#0075ff"/>
<rect x="1034.80" y="1304.62" width="17.70" height="17.68" fill="#00a8ff"/>
<rect x="1051.70" y="1304.62" width="17.70" height="17.68" fill="#0075ff"/>
<rect x="1068.60" y="1304.62" width="17.70" height="17.68" fill="#0000e6"/>
<rect x="1085.50" y="1304.62" width="17.70" height="17.68" fill="#0000db"/>
<rect x="1102.40" y="1304.62" width="17.70" height="17.68" fill="#0000f0"/>
<rect x="1119.30" y="1304.62" width="17.70" height="17.68" fill="#00d1ff"/>
<rect x="1136.20" y="1304.62" width="17.70" height="17.68" fill="#75ff8a"/>
<rect x="1153.10" y="1304.62" width="17.70" height="17.68" fill="#004dff"/>
<rect x="1170.00" y="1304.62" width="17.70" height="17.68" fill="#61ff9e"/>
<rect x="1186.90" y="1304.62" width="17.70" height="17.68" fill="#006bff"/>
<rect x="1017.90" y="1321.50" width="17.70" height="17.68" fill="#008aff"/>
<rect x="1034.80" y="1321.50" width="17.70" height="17.68" fill="#00b2ff"/>
<rect x="1051.70" y="1321.50" width="17.70" height="17.68" fill="#009eff"/>
<rect x="1068.60" y="1321.50" width="17.70" height="17.68" fill="#001aff"/>
<rect x="1085.50" y="1321.50" width="17.70" height="17.68" fill="#000fff"/>
<rect x="1102.40" y="1321.50" width="17.70" height="17.68" fill="#0038ff"/>
<rect x="1119.30" y="1321.50" width="17.70" height="17.68" fill="#00faff"/>
<rect x="1136.20" y="1321.50" width="17.70" height="17.68" fill="#6bff94"/>
<rect x="1153.10" y="1321.50" width="17.70" height="17.68" fill="#0075ff"/>
<rect x="1170.00" y="1321.50" width="17.70" height="17.68" fill="#61ff9e"/>
<rect x="1186.90" y="1321.50" width="17.70" height="17.68" fill="#0075ff"/>
<rect x="1203.80" y="1321.50" width="17.70" height="17.68" fill="#008aff"/>
<rect x="1017.90" y="1338.38" width="17.70" height="17.68" fill="#00d1ff"/>
<rect x="1034.80" y="1338.38" width="17.70" height="17.68" fill="#00d1ff"/>
<rect x="1051.70" y="1338.38" width="17.70" height="17.68" fill="#00faff"/>
<rect x="1068.60" y="1338.38" width="17.70" height="17.68" fill="#008aff"/>
<rect x="1085.50" y="1338.38" width="17.70" height="17.68" fill="#0075ff"/>
<rect x="1102.40" y="1338.38" width="17.70" height="17.68" fill="#0042ff"/>
<rect x="1119.30" y="1338.38" width="17.70" height="17.68" fill="#00faff"/>
<rect x="1136.20" y="1338.38" width="17.70" height="17.68" fill="#6bff94"/>
<rect x="1153.10" y="1338.38" width="17.70" height="17.68" fill="#00faff"/>
<rect x="1170.00" y="1338.38" width="17.70" height="17.68" fill="#8aff75"/>
<rect x="1186.90" y="1338.38" width="17.70" height="17.68" fill="#000fff"/>
<rect x="1203.80" y="1338.38" width="17.70" height="17.68" fill="#0038ff"/>
<rect x="1220.70" y="1338.38" width="17.70" height="17.68" fill="#0057ff"/>
<rect x="1017.90" y="1355.25" width="17.70" height="17.68" fill="#05fffa"/>
<rect x="1034.80" y="1355.25" width="17.70" height="17.68" fill="#2effd1"/>
<rect x="1051.70" y="1355.25" width="17.70" height="17.68" fill="#4dffb2"/>
<rect x="1068.60" y="1355.25" width="17.70" height="17.68" fill="#00e5ff"/>
<rect x="1085.50" y="1355.25" width="17.70" height="17.68" fill="#006bff"/>
<rect x="1102.40" y="1355.25" width="17.70" height="17.68" fill="#004dff"/>
<rect x="1119.30" y="1355.25" width="17.70" height="17.68" fill="#00f0ff"/>
<rect x="1136.20" y="1355.25" width="17.70" height="17.68" fill="#d1ff2e"/>
<rect x="1153.10" y="1355.25" width="17.70" height="17.68" fill="#00c7ff"/>
<rect x="1170.00" y="1355.25" width="17.70" height="17.68" fill="#b3ff4c"/>
<rect x="1186.90" y="1355.25" width="17.70" height="17.68" fill="#0000fa"/>
<rect x="1203.80" y="1355.25" width="17.70" height="17.68" fill="#0038ff"/>
<rect x="1220.70" y="1355.25" width="17.70" height="17.68" fill="#006bff"/>
<rect x="1237.60" y="1355.25" width="17.70" height="17.68" fill="#57ffa8"/>
<rect x="1017.90" y="1372.12" width="17.70" height="17.68" fill="#00a8ff"/>
<rect x="1034.80" y="1372.12" width="17.70" height="17.68" fill="#00dbff"/>
<rect x="1051.70" y="1372.12" width="17.70" height="17.68" fill="#00e5ff"/>
<rect x="1068.60" y="1372.12" width="17.70" height="17.68" fill="#0000f0"/>
<rect x="1085.50" y="1372.12" width="17.70" height="17.68" fill="#0000c7"/>
<rect x="1102.40" y="1372.12" width="17.70" height="17.68" fill="#0000c7"/>
<rect x="1119.30" y="1372.12" width="17.70" height="17.68" fill="#00f0ff"/>
<rect x="1136.20" y="1372.12" width="17.70" height="17.68" fill="#f0ff0f"/>
<rect x="1153.10" y="1372.12" width="17.70" height="17.68" fill="#008aff"/>
<rect x="1170.00" y="1372.12" width="17.70" height="17.68" fill="#fffa00"/>
<rect x="1186.90" y="1372.12" width="17.70" height="17.68" fill="#0057ff"/>
<rect x="1203.80" y="1372.12" width="17.70" height="17.68" fill="#0057ff"/>
<rect x="1220.70" y="1372.12" width="17.70" height="17.68" fill="#0080ff"/>
<rect x="1237.60" y="1372.12" width="17.70" height="17.68" fill="#00a8ff"/>
<rect x="1254.50" y="1372.12" width="17.70" height="17.68" fill="#0000fa"/>
<rect x="1017.90" y="1389.00" width="17.70" height="17.68" fill="#94ff6b"/>
<rect x="1034.80" y="1389.00" width="17.70" height="17.68" fill="#94ff6b"/>
<rect x="1051.70" y="1389.00" width="17.70" height="17.68" fill="#80ff80"/>
<rect x="1068.60" y="1389.00" width="17.70" height="17.68" fill="#05fffa"/>
<rect x="1085.50" y="1389.00" width="17.70" height="17.68" fill="#00a8ff"/>
<rect x="1102.40" y="1389.00" width="17.70" height="17.68" fill="#4dffb2"/>
<rect x="1119.30" y="1389.00" width="17.70" height="17.68" fill="#00a8ff"/>
<rect x="1136.20" y="1389.00" width="17.70" height="17.68" fill="#bdff42"/>
<rect x="1153.10" y="1389.00" width="17.70" height="17.68" fill="#00c7ff"/>
<rect x="1170.00" y="1389.00" width="17.70" height="17.68" fill="#faff05"/>
<rect x="1186.90" y="1389.00" width="17.70" height="17.68" fill="#00d1ff"/>
<rect x="1203.80" y="1389.00" width="17.70" height="17.68" fill="#00f0ff"/>
<rect x="1220.70" y="1389.00" width="17.70" height="17.68" fill="#00faff"/>
<rect x="1237.60" y="1389.00" width="17.70" height="17.68" fill="#2effd1"/>
<rect x="1254.50" y="1389.00" width="17.70" height="17.68" fill="#00e5ff"/>
<rect x="1271.40" y="1389.00" width="17.70" height="17.68" fill="#6bff94"/>
<rect x="1017.90" y="1405.88" width="17.70" height="17.68" fill="#4dffb2"/>
<rect x="1034.80" y="1405.88" width="17.70" height="17.68" fill="#4dffb2"/>
<rect x="1051.70" y="1405.88" width="17.70" height="17.68" fill="#1affe5"/>
<rect x="1068.60" y="1405.88" width="17.70" height="17.68" fill="#00faff"/>
<rect x="1085.50" y="1405.88" width="17.70" height="17.68" fill="#4dffb2"/>
<rect x="1102.40" y="1405.88" width="17.70" height="17.68" fill="#80ff80"/>
<rect x="1119.30" y="1405.88" width="17.70" height="17.68" fill="#94ff6b"/>
<rect x="1136.20" y="1405.88" width="17.70" height="17.68" fill="#4dffb2"/>
<rect x="1153.10" y="1405.88" width="17.70" height="17.68" fill="#80ff80"/>
<rect x="1170.00" y="1405.88" width="17.70" height="17.68" fill="#6bff94"/>
<rect x="1186.90" y="1405.88" width="17.70" height="17.68" fill="#0ffff0"/>
<rect x="1203.80" y="1405.88" width="17.70" height="17.68" fill="#0ffff0"/>
<rect x="1220.70" y="1405.88" width="17.70" height="17.68" fill="#2effd1"/>
<rect x="1237.60" y="1405.88" width="17.70" height="17.68" fill="#38ffc7"/>
<rect x="1254.50" y="1405.88" width="17.70" height="17.68" fill="#9eff61"/>
<rect x="1271.40" y="1405.88" width="17.70" height="17.68" fill="#b3ff4c"/>
<rect x="1288.30" y="1405.88" width="17.70" height="17.68" fill="#9eff61"/>
<rect x="1017.90" y="1422.75" width="17.70" height="17.68" fill="#b3ff4c"/>
<rect x="1034.80" y="1422.75" width="17.70" height="17.68" fill="#94ff6b"/>
<rect x="1051.70" y="1422.75" width="17.70" height="17.68" fill="#a8ff57"/>
<rect x="1068.60" y="1422.75" width="17.70" height="17.68" fill="#fffa00"/>
<rect x="1085.50" y="1422.75" width="17.70" height="17.68" fill="#bdff42"/>
<rect x="1102.40" y="1422.75" width="17.70" height="17.68" fill="#f0ff0f"/>
<rect x="1119.30" y="1422.75" width="17.70" height="17.68" fill="#05fffa"/>
<rect x="1136.20" y="1422.75" width="17.70" height="17.68" fill="#c7ff38"/>
<rect x="1153.10" y="1422.75" width="17.70" height="17.68" fill="#f0ff0f"/>
<rect x="1170.00" y="1422.75" width="17.70" height="17.68" fill="#9eff61"/>
<rect x="1186.90" y="1422.75" width="17.70" height="17.68" fill="#002eff"/>
<rect x="1203.80" y="1422.75" width="17.70" height="17.68" fill="#0075ff"/>
<rect x="1220.70" y="1422.75" width="17.70" height="17.68" fill="#006bff"/>
<rect x="1237.60" y="1422.75" width="17.70" height="17.68" fill="#00faff"/>
<rect x="1254.50" y="1422.75" width="17.70" height="17.68" fill="#00d1ff"/>
<rect x="1271.40" y="1422.75" width="17.70" height="17.68" fill="#00a8ff"/>
<rect x="1288.30" y="1422.75" width="17.70" height="17.68" fill="#00c7ff"/>
<rect x="1305.20" y="1422.75" width="17.70" height="17.68" fill="#a8ff57"/>
<rect x="1017.90" y="1439.62" width="17.70" height="17.68" fill="#ffdb00"/>
<rect x="1034.80" y="1439.62" width="17.70" height="17.68" fill="#ffe500"/>
<rect x="1051.70" y="1439.62" width="17.70" height="17.68" fill="#a8ff57"/>
<rect x="1068.60" y="1439.62" width="17.70" height="17.68" fill="#bdff42"/>
<rect x="1085.50" y="1439.62" width="17.70" height="17.68" fill="#f0ff0f"/>
<rect x="1102.40" y="1439.62" width="17.70" height="17.68" fill="#ff7500"/>
<rect x="1119.30" y="1439.62" width="17.70" height="17.68" fill="#ffbd00"/>
<rect x="1136.20" y="1439.62" width="17.70" height="17.68" fill="#57ffa8"/>
<rect x="1153.10" y="1439.62" width="17.70" height="17.68" fill="#57ffa8"/>
<rect x="1170.00" y="1439.62" width="17.70" height="17.68" fill="#75ff8a"/>
<rect x="1186.90" y="1439.62" width="17.70" height="17.68" fill="#6bff94"/>
<rect x="1203.80" y="1439.62" width="17.70" height="17.68" fill="#94ff6b"/>
<rect x="1220.70" y="1439.62" width="17.70" height="17.68" fill="#75ff8a"/>
<rect x="1237.60" y="1439.62" width="17.70" height="17.68" fill="#94ff6b"/>
<rect x="1254.50" y="1439.62" width="17.70" height="17.68" fill="#f0ff0f"/>
<rect x="1271.40" y="1439.62" width="17.70" height="17.68" fill="#ffdb00"/>
<rect x="1288.30" y="1439.62" width="17.70" height="17.68" fill="#ffdb00"/>
<rect x="1305.20" y="1439.62" width="17.70" height="17.68" fill="#6bff94"/>
<rect x="1322.10" y="1439.62" width="17.70" height="17.68" fill="#75ff8a"/>
<path d="M1077.0 1290.4L1079.7 1293.5L1082.8 1296.2L1079.7 1298.9L1077.0 1302.0L1074.4 1298.9L1071.2 1296.2L1074.4 1293.5ZM1094.0 1290.4L1096.6 1293.5L1099.8 1296.2L1096.6 1298.9L1094.0 1302.0L1091.3 1298.9L1088.2 1296.2L1091.3 1293.5ZM1110.8 1290.4L1113.5 1293.5L1116.6 1296.2L1113.5 1298.9L1110.8 1302.0L1108.2 1298.9L1105.0 1296.2L1108.2 1293.5ZM1077.0 1307.3L1079.7 1310.4L1082.8 1313.1L1079.7 1315.7L1077.0 1318.9L1074.4 1315.7L1071.2 1313.1L1074.4 1310.4ZM1094.0 1307.3L1096.6 1310.4L1099.8 1313.1L1096.6 1315.7L1094.0 1318.9L1091.3 1315.7L1088.2 1313.1L1091.3 1310.4ZM1110.8 1307.3L1113.5 1310.4L1116.6 1313.1L1113.5 1315.7L1110.8 1318.9L1108.2 1315.7L1105.0 1313.1L1108.2 1310.4ZM1094.0 1324.1L1096.6 1327.3L1099.8 1329.9L1096.6 1332.6L1094.0 1335.7L1091.3 1332.6L1088.2 1329.9L1091.3 1327.3ZM1195.3 1324.1L1198.0 1327.3L1201.1 1329.9L1198.0 1332.6L1195.3 1335.7L1192.7 1332.6L1189.5 1329.9L1192.7 1327.3ZM1212.2 1324.1L1214.9 1327.3L1218.0 1329.9L1214.9 1332.6L1212.2 1335.7L1209.6 1332.6L1206.5 1329.9L1209.6 1327.3ZM1110.8 1341.0L1113.5 1344.1L1116.6 1346.8L1113.5 1349.5L1110.8 1352.6L1108.2 1349.5L1105.0 1346.8L1108.2 1344.1ZM1195.3 1341.0L1198.0 1344.1L1201.1 1346.8L1198.0 1349.5L1195.3 1352.6L1192.7 1349.5L1189.5 1346.8L1192.7 1344.1ZM1094.0 1357.9L1096.6 1361.0L1099.8 1363.7L1096.6 1366.4L1094.0 1369.5L1091.3 1366.4L1088.2 1363.7L1091.3 1361.0ZM1110.8 1357.9L1113.5 1361.0L1116.6 1363.7L1113.5 1366.4L1110.8 1369.5L1108.2 1366.4L1105.0 1363.7L1108.2 1361.0ZM1077.0 1374.8L1079.7 1377.9L1082.8 1380.6L1079.7 1383.2L1077.0 1386.4L1074.4 1383.2L1071.2 1380.6L1074.4 1377.9ZM1094.0 1374.8L1096.6 1377.9L1099.8 1380.6L1096.6 1383.2L1094.0 1386.4L1091.3 1383.2L1088.2 1380.6L1091.3 1377.9ZM1110.8 1374.8L1113.5 1377.9L1116.6 1380.6L1113.5 1383.2L1110.8 1386.4L1108.2 1383.2L1105.0 1380.6L1108.2 1377.9ZM1246.1 1374.8L1248.7 1377.9L1251.9 1380.6L1248.7 1383.2L1246.1 1386.4L1243.4 1383.2L1240.3 1380.6L1243.4 1377.9ZM1263.0 1374.8L1265.6 1377.9L1268.8 1380.6L1265.6 1383.2L1263.0 1386.4L1260.3 1383.2L1257.2 1380.6L1260.3 1377.9ZM1094.0 1391.6L1096.6 1394.8L1099.8 1397.4L1096.6 1400.1L1094.0 1403.2L1091.3 1400.1L1088.2 1397.4L1091.3 1394.8ZM1279.9 1425.4L1282.5 1428.5L1285.7 1431.2L1282.5 1433.9L1279.9 1437.0L1277.2 1433.9L1274.1 1431.2L1277.2 1428.5Z" fill="#fff"/>
</g>
<line x1="1186.9" y1="1119.0" x2="1186.9" y2="1456.5" stroke="#000" stroke-width="1.8"/>
<line x1="1014.5" y1="1287.8" x2="1355.9" y2="1287.8" stroke="#000" stroke-width="1.8"/>
</g>
<line x1="1017.9" y1="1111.0" x2="1017.9" y2="1456.5" stroke="#111" stroke-width="1.6"/>
<line x1="1355.2" y1="1111.0" x2="1355.2" y2="1119.0" stroke="#444" stroke-width="1.4"/>
<clipPath id="c1565"><rect x="1395.0" y="1119.0" width="342.4" height="337.5"/></clipPath>
<g clip-path="url(#c1565)">
<rect x="1393.0" y="1117.0" width="346.4" height="341.5" fill="#00008f"/>
<g filter="url(#bl)">
<rect x="1398.40" y="1135.88" width="17.75" height="17.68" fill="#00008f"/>
<rect x="1398.40" y="1152.75" width="17.75" height="17.68" fill="#0000f0"/>
<rect x="1415.35" y="1152.75" width="17.75" height="17.68" fill="#000fff"/>
<rect x="1398.40" y="1169.62" width="17.75" height="17.68" fill="#0094ff"/>
<rect x="1415.35" y="1169.62" width="17.75" height="17.68" fill="#004dff"/>
<rect x="1432.30" y="1169.62" width="17.75" height="17.68" fill="#0061ff"/>
<rect x="1398.40" y="1186.50" width="17.75" height="17.68" fill="#0094ff"/>
<rect x="1415.35" y="1186.50" width="17.75" height="17.68" fill="#0061ff"/>
<rect x="1432.30" y="1186.50" width="17.75" height="17.68" fill="#00dbff"/>
<rect x="1449.25" y="1186.50" width="17.75" height="17.68" fill="#00a8ff"/>
<rect x="1398.40" y="1203.38" width="17.75" height="17.68" fill="#0000fa"/>
<rect x="1415.35" y="1203.38" width="17.75" height="17.68" fill="#0005ff"/>
<rect x="1432.30" y="1203.38" width="17.75" height="17.68" fill="#0075ff"/>
<rect x="1449.25" y="1203.38" width="17.75" height="17.68" fill="#0057ff"/>
<rect x="1466.20" y="1203.38" width="17.75" height="17.68" fill="#002eff"/>
<rect x="1398.40" y="1220.25" width="17.75" height="17.68" fill="#05fffa"/>
<rect x="1415.35" y="1220.25" width="17.75" height="17.68" fill="#05fffa"/>
<rect x="1432.30" y="1220.25" width="17.75" height="17.68" fill="#24ffdb"/>
<rect x="1449.25" y="1220.25" width="17.75" height="17.68" fill="#00c7ff"/>
<rect x="1466.20" y="1220.25" width="17.75" height="17.68" fill="#004dff"/>
<rect x="1483.15" y="1220.25" width="17.75" height="17.68" fill="#0080ff"/>
<rect x="1398.40" y="1237.12" width="17.75" height="17.68" fill="#24ffdb"/>
<rect x="1415.35" y="1237.12" width="17.75" height="17.68" fill="#24ffdb"/>
<rect x="1432.30" y="1237.12" width="17.75" height="17.68" fill="#00faff"/>
<rect x="1449.25" y="1237.12" width="17.75" height="17.68" fill="#57ffa8"/>
<rect x="1466.20" y="1237.12" width="17.75" height="17.68" fill="#8aff75"/>
<rect x="1483.15" y="1237.12" width="17.75" height="17.68" fill="#75ff8a"/>
<rect x="1500.10" y="1237.12" width="17.75" height="17.68" fill="#b3ff4c"/>
<rect x="1398.40" y="1254.00" width="17.75" height="17.68" fill="#a8ff57"/>
<rect x="1415.35" y="1254.00" width="17.75" height="17.68" fill="#9eff61"/>
<rect x="1432.30" y="1254.00" width="17.75" height="17.68" fill="#a8ff57"/>
<rect x="1449.25" y="1254.00" width="17.75" height="17.68" fill="#a8ff57"/>
<rect x="1466.20" y="1254.00" width="17.75" height="17.68" fill="#38ffc7"/>
<rect x="1483.15" y="1254.00" width="17.75" height="17.68" fill="#80ff80"/>
<rect x="1500.10" y="1254.00" width="17.75" height="17.68" fill="#00b2ff"/>
<rect x="1517.05" y="1254.00" width="17.75" height="17.68" fill="#d1ff2e"/>
<rect x="1398.40" y="1270.88" width="17.75" height="17.68" fill="#4dffb2"/>
<rect x="1415.35" y="1270.88" width="17.75" height="17.68" fill="#4dffb2"/>
<rect x="1432.30" y="1270.88" width="17.75" height="17.68" fill="#4dffb2"/>
<rect x="1449.25" y="1270.88" width="17.75" height="17.68" fill="#38ffc7"/>
<rect x="1466.20" y="1270.88" width="17.75" height="17.68" fill="#2effd1"/>
<rect x="1483.15" y="1270.88" width="17.75" height="17.68" fill="#61ff9e"/>
<rect x="1500.10" y="1270.88" width="17.75" height="17.68" fill="#24ffdb"/>
<rect x="1517.05" y="1270.88" width="17.75" height="17.68" fill="#61ff9e"/>
<rect x="1534.00" y="1270.88" width="17.75" height="17.68" fill="#00faff"/>
<rect x="1398.40" y="1287.75" width="17.75" height="17.68" fill="#0000a8"/>
<rect x="1415.35" y="1287.75" width="17.75" height="17.68" fill="#0000c7"/>
<rect x="1432.30" y="1287.75" width="17.75" height="17.68" fill="#0000e6"/>
<rect x="1449.25" y="1287.75" width="17.75" height="17.68" fill="#0000d1"/>
<rect x="1466.20" y="1287.75" width="17.75" height="17.68" fill="#00009e"/>
<rect x="1483.15" y="1287.75" width="17.75" height="17.68" fill="#00009e"/>
<rect x="1500.10" y="1287.75" width="17.75" height="17.68" fill="#0038ff"/>
<rect x="1517.05" y="1287.75" width="17.75" height="17.68" fill="#0ffff0"/>
<rect x="1534.00" y="1287.75" width="17.75" height="17.68" fill="#0080ff"/>
<rect x="1550.95" y="1287.75" width="17.75" height="17.68" fill="#00faff"/>
<rect x="1398.40" y="1304.62" width="17.75" height="17.68" fill="#0000b2"/>
<rect x="1415.35" y="1304.62" width="17.75" height="17.68" fill="#0000db"/>
<rect x="1432.30" y="1304.62" width="17.75" height="17.68" fill="#0000f0"/>
<rect x="1449.25" y="1304.62" width="17.75" height="17.68" fill="#0000db"/>
<rect x="1466.20" y="1304.62" width="17.75" height="17.68" fill="#0000b2"/>
<rect x="1483.15" y="1304.62" width="17.75" height="17.68" fill="#0000a8"/>
<rect x="1500.10" y="1304.62" width="17.75" height="17.68" fill="#0042ff"/>
<rect x="1517.05" y="1304.62" width="17.75" height="17.68" fill="#1affe5"/>
<rect x="1534.00" y="1304.62" width="17.75" height="17.68" fill="#009eff"/>
<rect x="1550.95" y="1304.62" width="17.75" height="17.68" fill="#42ffbd"/>
<rect x="1567.90" y="1304.62" width="17.75" height="17.68" fill="#00008f"/>
<rect x="1398.40" y="1321.50" width="17.75" height="17.68" fill="#0000bd"/>
<rect x="1415.35" y="1321.50" width="17.75" height="17.68" fill="#0000db"/>
<rect x="1432.30" y="1321.50" width="17.75" height="17.68" fill="#0005ff"/>
<rect x="1449.25" y="1321.50" width="17.75" height="17.68" fill="#0000f0"/>
<rect x="1466.20" y="1321.50" width="17.75" height="17.68" fill="#0000bd"/>
<rect x="1483.15" y="1321.50" width="17.75" height="17.68" fill="#0000b2"/>
<rect x="1500.10" y="1321.50" width="17.75" height="17.68" fill="#0038ff"/>
<rect x="1517.05" y="1321.50" width="17.75" height="17.68" fill="#1affe5"/>
<rect x="1534.00" y="1321.50" width="17.75" height="17.68" fill="#00bdff"/>
<rect x="1550.95" y="1321.50" width="17.75" height="17.68" fill="#57ffa8"/>
<rect x="1567.90" y="1321.50" width="17.75" height="17.68" fill="#00008f"/>
<rect x="1584.85" y="1321.50" width="17.75" height="17.68" fill="#00008f"/>
<rect x="1398.40" y="1338.38" width="17.75" height="17.68" fill="#0000e6"/>
<rect x="1415.35" y="1338.38" width="17.75" height="17.68" fill="#0005ff"/>
<rect x="1432.30" y="1338.38" width="17.75" height="17.68" fill="#0024ff"/>
<rect x="1449.25" y="1338.38" width="17.75" height="17.68" fill="#0000e6"/>
<rect x="1466.20" y="1338.38" width="17.75" height="17.68" fill="#0000a8"/>
<rect x="1483.15" y="1338.38" width="17.75" height="17.68" fill="#0000b2"/>
<rect x="1500.10" y="1338.38" width="17.75" height="17.68" fill="#000fff"/>
<rect x="1517.05" y="1338.38" width="17.75" height="17.68" fill="#42ffbd"/>
<rect x="1534.00" y="1338.38" width="17.75" height="17.68" fill="#00d1ff"/>
<rect x="1550.95" y="1338.38" width="17.75" height="17.68" fill="#4dffb2"/>
<rect x="1567.90" y="1338.38" width="17.75" height="17.68" fill="#00008f"/>
<rect x="1584.85" y="1338.38" width="17.75" height="17.68" fill="#0000c7"/>
<rect x="1601.80" y="1338.38" width="17.75" height="17.68" fill="#0000fa"/>
<rect x="1398.40" y="1355.25" width="17.75" height="17.68" fill="#0075ff"/>
<rect x="1415.35" y="1355.25" width="17.75" height="17.68" fill="#0075ff"/>
<rect x="1432.30" y="1355.25" width="17.75" height="17.68" fill="#00dbff"/>
<rect x="1449.25" y="1355.25" width="17.75" height="17.68" fill="#00a8ff"/>
<rect x="1466.20" y="1355.25" width="17.75" height="17.68" fill="#0000db"/>
<rect x="1483.15" y="1355.25" width="17.75" height="17.68" fill="#0000c7"/>
<rect x="1500.10" y="1355.25" width="17.75" height="17.68" fill="#0000fa"/>
<rect x="1517.05" y="1355.25" width="17.75" height="17.68" fill="#94ff6b"/>
<rect x="1534.00" y="1355.25" width="17.75" height="17.68" fill="#00faff"/>
<rect x="1550.95" y="1355.25" width="17.75" height="17.68" fill="#6bff94"/>
<rect x="1567.90" y="1355.25" width="17.75" height="17.68" fill="#00008f"/>
<rect x="1584.85" y="1355.25" width="17.75" height="17.68" fill="#0000c7"/>
<rect x="1601.80" y="1355.25" width="17.75" height="17.68" fill="#0000f0"/>
<rect x="1618.75" y="1355.25" width="17.75" height="17.68" fill="#0038ff"/>
<rect x="1398.40" y="1372.12" width="17.75" height="17.68" fill="#0000c7"/>
<rect x="1415.35" y="1372.12" width="17.75" height="17.68" fill="#0000db"/>
<rect x="1432.30" y="1372.12" width="17.75" height="17.68" fill="#000fff"/>
<rect x="1449.25" y="1372.12" width="17.75" height="17.68" fill="#0000db"/>
<rect x="1466.20" y="1372.12" width="17.75" height="17.68" fill="#00008a"/>
<rect x="1483.15" y="1372.12" width="17.75" height="17.68" fill="#00008a"/>
<rect x="1500.10" y="1372.12" width="17.75" height="17.68" fill="#0000fa"/>
<rect x="1517.05" y="1372.12" width="17.75" height="17.68" fill="#94ff6b"/>
<rect x="1534.00" y="1372.12" width="17.75" height="17.68" fill="#0075ff"/>
<rect x="1550.95" y="1372.12" width="17.75" height="17.68" fill="#75ff8a"/>
<rect x="1567.90" y="1372.12" width="17.75" height="17.68" fill="#00008f"/>
<rect x="1584.85" y="1372.12" width="17.75" height="17.68" fill="#00008a"/>
<rect x="1601.80" y="1372.12" width="17.75" height="17.68" fill="#000094"/>
<rect x="1618.75" y="1372.12" width="17.75" height="17.68" fill="#00009e"/>
<rect x="1635.70" y="1372.12" width="17.75" height="17.68" fill="#00008f"/>
<rect x="1398.40" y="1389.00" width="17.75" height="17.68" fill="#00d1ff"/>
<rect x="1415.35" y="1389.00" width="17.75" height="17.68" fill="#00d1ff"/>
<rect x="1432.30" y="1389.00" width="17.75" height="17.68" fill="#00f0ff"/>
<rect x="1449.25" y="1389.00" width="17.75" height="17.68" fill="#00c7ff"/>
<rect x="1466.20" y="1389.00" width="17.75" height="17.68" fill="#002eff"/>
<rect x="1483.15" y="1389.00" width="17.75" height="17.68" fill="#001aff"/>
<rect x="1500.10" y="1389.00" width="17.75" height="17.68" fill="#0000e6"/>
<rect x="1517.05" y="1389.00" width="17.75" height="17.68" fill="#b3ff4c"/>
<rect x="1534.00" y="1389.00" width="17.75" height="17.68" fill="#00faff"/>
<rect x="1550.95" y="1389.00" width="17.75" height="17.68" fill="#6bff94"/>
<rect x="1567.90" y="1389.00" width="17.75" height="17.68" fill="#0024ff"/>
<rect x="1584.85" y="1389.00" width="17.75" height="17.68" fill="#0038ff"/>
<rect x="1601.80" y="1389.00" width="17.75" height="17.68" fill="#0042ff"/>
<rect x="1618.75" y="1389.00" width="17.75" height="17.68" fill="#0038ff"/>
<rect x="1635.70" y="1389.00" width="17.75" height="17.68" fill="#0024ff"/>
<rect x="1652.65" y="1389.00" width="17.75" height="17.68" fill="#001aff"/>
<rect x="1398.40" y="1405.88" width="17.75" height="17.68" fill="#0061ff"/>
<rect x="1415.35" y="1405.88" width="17.75" height="17.68" fill="#0061ff"/>
<rect x="1432.30" y="1405.88" width="17.75" height="17.68" fill="#0075ff"/>
<rect x="1449.25" y="1405.88" width="17.75" height="17.68" fill="#0075ff"/>
<rect x="1466.20" y="1405.88" width="17.75" height="17.68" fill="#0094ff"/>
<rect x="1483.15" y="1405.88" width="17.75" height="17.68" fill="#0075ff"/>
<rect x="1500.10" y="1405.88" width="17.75" height="17.68" fill="#00b2ff"/>
<rect x="1517.05" y="1405.88" width="17.75" height="17.68" fill="#00a8ff"/>
<rect x="1534.00" y="1405.88" width="17.75" height="17.68" fill="#00dbff"/>
<rect x="1550.95" y="1405.88" width="17.75" height="17.68" fill="#00faff"/>
<rect x="1567.90" y="1405.88" width="17.75" height="17.68" fill="#0057ff"/>
<rect x="1584.85" y="1405.88" width="17.75" height="17.68" fill="#0075ff"/>
<rect x="1601.80" y="1405.88" width="17.75" height="17.68" fill="#00a8ff"/>
<rect x="1618.75" y="1405.88" width="17.75" height="17.68" fill="#009eff"/>
<rect x="1635.70" y="1405.88" width="17.75" height="17.68" fill="#00b2ff"/>
<rect x="1652.65" y="1405.88" width="17.75" height="17.68" fill="#00d1ff"/>
<rect x="1669.60" y="1405.88" width="17.75" height="17.68" fill="#00e5ff"/>
<rect x="1398.40" y="1422.75" width="17.75" height="17.68" fill="#80ff80"/>
<rect x="1415.35" y="1422.75" width="17.75" height="17.68" fill="#80ff80"/>
<rect x="1432.30" y="1422.75" width="17.75" height="17.68" fill="#9eff61"/>
<rect x="1449.25" y="1422.75" width="17.75" height="17.68" fill="#75ff8a"/>
<rect x="1466.20" y="1422.75" width="17.75" height="17.68" fill="#00e5ff"/>
<rect x="1483.15" y="1422.75" width="17.75" height="17.68" fill="#2effd1"/>
<rect x="1500.10" y="1422.75" width="17.75" height="17.68" fill="#0094ff"/>
<rect x="1517.05" y="1422.75" width="17.75" height="17.68" fill="#e5ff1a"/>
<rect x="1534.00" y="1422.75" width="17.75" height="17.68" fill="#00f0ff"/>
<rect x="1550.95" y="1422.75" width="17.75" height="17.68" fill="#05fffa"/>
<rect x="1567.90" y="1422.75" width="17.75" height="17.68" fill="#008aff"/>
<rect x="1584.85" y="1422.75" width="17.75" height="17.68" fill="#00c7ff"/>
<rect x="1601.80" y="1422.75" width="17.75" height="17.68" fill="#00e5ff"/>
<rect x="1618.75" y="1422.75" width="17.75" height="17.68" fill="#00faff"/>
<rect x="1635.70" y="1422.75" width="17.75" height="17.68" fill="#00f0ff"/>
<rect x="1652.65" y="1422.75" width="17.75" height="17.68" fill="#009eff"/>
<rect x="1669.60" y="1422.75" width="17.75" height="17.68" fill="#05fffa"/>
<rect x="1686.55" y="1422.75" width="17.75" height="17.68" fill="#0ffff0"/>
<rect x="1398.40" y="1439.62" width="17.75" height="17.68" fill="#38ffc7"/>
<rect x="1415.35" y="1439.62" width="17.75" height="17.68" fill="#38ffc7"/>
<rect x="1432.30" y="1439.62" width="17.75" height="17.68" fill="#24ffdb"/>
<rect x="1449.25" y="1439.62" width="17.75" height="17.68" fill="#0ffff0"/>
<rect x="1466.20" y="1439.62" width="17.75" height="17.68" fill="#4dffb2"/>
<rect x="1483.15" y="1439.62" width="17.75" height="17.68" fill="#61ff9e"/>
<rect x="1500.10" y="1439.62" width="17.75" height="17.68" fill="#24ffdb"/>
<rect x="1517.05" y="1439.62" width="17.75" height="17.68" fill="#05fffa"/>
<rect x="1534.00" y="1439.62" width="17.75" height="17.68" fill="#00f0ff"/>
<rect x="1550.95" y="1439.62" width="17.75" height="17.68" fill="#004dff"/>
<rect x="1567.90" y="1439.62" width="17.75" height="17.68" fill="#00dbff"/>
<rect x="1584.85" y="1439.62" width="17.75" height="17.68" fill="#0ffff0"/>
<rect x="1601.80" y="1439.62" width="17.75" height="17.68" fill="#57ffa8"/>
<rect x="1618.75" y="1439.62" width="17.75" height="17.68" fill="#57ffa8"/>
<rect x="1635.70" y="1439.62" width="17.75" height="17.68" fill="#a8ff57"/>
<rect x="1652.65" y="1439.62" width="17.75" height="17.68" fill="#80ff80"/>
<rect x="1669.60" y="1439.62" width="17.75" height="17.68" fill="#80ff80"/>
<rect x="1686.55" y="1439.62" width="17.75" height="17.68" fill="#00d1ff"/>
<rect x="1703.50" y="1439.62" width="17.75" height="17.68" fill="#2effd1"/>
<path d="M1406.9 1138.5L1409.5 1141.6L1412.7 1144.3L1409.5 1147.0L1406.9 1150.1L1404.2 1147.0L1401.1 1144.3L1404.2 1141.6ZM1406.9 1155.4L1409.5 1158.5L1412.7 1161.2L1409.5 1163.9L1406.9 1167.0L1404.2 1163.9L1401.1 1161.2L1404.2 1158.5ZM1423.8 1155.4L1426.5 1158.5L1429.6 1161.2L1426.5 1163.9L1423.8 1167.0L1421.2 1163.9L1418.0 1161.2L1421.2 1158.5ZM1406.9 1172.3L1409.5 1175.4L1412.7 1178.1L1409.5 1180.7L1406.9 1183.9L1404.2 1180.7L1401.1 1178.1L1404.2 1175.4ZM1423.8 1172.3L1426.5 1175.4L1429.6 1178.1L1426.5 1180.7L1423.8 1183.9L1421.2 1180.7L1418.0 1178.1L1421.2 1175.4ZM1440.8 1172.3L1443.4 1175.4L1446.6 1178.1L1443.4 1180.7L1440.8 1183.9L1438.1 1180.7L1435.0 1178.1L1438.1 1175.4ZM1406.9 1189.1L1409.5 1192.3L1412.7 1194.9L1409.5 1197.6L1406.9 1200.7L1404.2 1197.6L1401.1 1194.9L1404.2 1192.3ZM1423.8 1189.1L1426.5 1192.3L1429.6 1194.9L1426.5 1197.6L1423.8 1200.7L1421.2 1197.6L1418.0 1194.9L1421.2 1192.3ZM1457.7 1189.1L1460.4 1192.3L1463.5 1194.9L1460.4 1197.6L1457.7 1200.7L1455.1 1197.6L1451.9 1194.9L1455.1 1192.3ZM1406.9 1206.0L1409.5 1209.1L1412.7 1211.8L1409.5 1214.5L1406.9 1217.6L1404.2 1214.5L1401.1 1211.8L1404.2 1209.1ZM1423.8 1206.0L1426.5 1209.1L1429.6 1211.8L1426.5 1214.5L1423.8 1217.6L1421.2 1214.5L1418.0 1211.8L1421.2 1209.1ZM1440.8 1206.0L1443.4 1209.1L1446.6 1211.8L1443.4 1214.5L1440.8 1217.6L1438.1 1214.5L1435.0 1211.8L1438.1 1209.1ZM1406.9 1222.9L1409.5 1226.0L1412.7 1228.7L1409.5 1231.4L1406.9 1234.5L1404.2 1231.4L1401.1 1228.7L1404.2 1226.0ZM1423.8 1222.9L1426.5 1226.0L1429.6 1228.7L1426.5 1231.4L1423.8 1234.5L1421.2 1231.4L1418.0 1228.7L1421.2 1226.0ZM1474.7 1222.9L1477.3 1226.0L1480.5 1228.7L1477.3 1231.4L1474.7 1234.5L1472.0 1231.4L1468.9 1228.7L1472.0 1226.0ZM1491.6 1222.9L1494.3 1226.0L1497.4 1228.7L1494.3 1231.4L1491.6 1234.5L1489.0 1231.4L1485.8 1228.7L1489.0 1226.0ZM1508.6 1256.6L1511.2 1259.8L1514.4 1262.4L1511.2 1265.1L1508.6 1268.2L1505.9 1265.1L1502.8 1262.4L1505.9 1259.8ZM1406.9 1290.4L1409.5 1293.5L1412.7 1296.2L1409.5 1298.9L1406.9 1302.0L1404.2 1298.9L1401.1 1296.2L1404.2 1293.5ZM1423.8 1290.4L1426.5 1293.5L1429.6 1296.2L1426.5 1298.9L1423.8 1302.0L1421.2 1298.9L1418.0 1296.2L1421.2 1293.5ZM1440.8 1290.4L1443.4 1293.5L1446.6 1296.2L1443.4 1298.9L1440.8 1302.0L1438.1 1298.9L1435.0 1296.2L1438.1 1293.5ZM1457.7 1290.4L1460.4 1293.5L1463.5 1296.2L1460.4 1298.9L1457.7 1302.0L1455.1 1298.9L1451.9 1296.2L1455.1 1293.5ZM1474.7 1290.4L1477.3 1293.5L1480.5 1296.2L1477.3 1298.9L1474.7 1302.0L1472.0 1298.9L1468.9 1296.2L1472.0 1293.5ZM1491.6 1290.4L1494.3 1293.5L1497.4 1296.2L1494.3 1298.9L1491.6 1302.0L1489.0 1298.9L1485.8 1296.2L1489.0 1293.5ZM1508.6 1290.4L1511.2 1293.5L1514.4 1296.2L1511.2 1298.9L1508.6 1302.0L1505.9 1298.9L1502.8 1296.2L1505.9 1293.5ZM1406.9 1307.3L1409.5 1310.4L1412.7 1313.1L1409.5 1315.7L1406.9 1318.9L1404.2 1315.7L1401.1 1313.1L1404.2 1310.4ZM1423.8 1307.3L1426.5 1310.4L1429.6 1313.1L1426.5 1315.7L1423.8 1318.9L1421.2 1315.7L1418.0 1313.1L1421.2 1310.4ZM1440.8 1307.3L1443.4 1310.4L1446.6 1313.1L1443.4 1315.7L1440.8 1318.9L1438.1 1315.7L1435.0 1313.1L1438.1 1310.4ZM1457.7 1307.3L1460.4 1310.4L1463.5 1313.1L1460.4 1315.7L1457.7 1318.9L1455.1 1315.7L1451.9 1313.1L1455.1 1310.4ZM1474.7 1307.3L1477.3 1310.4L1480.5 1313.1L1477.3 1315.7L1474.7 1318.9L1472.0 1315.7L1468.9 1313.1L1472.0 1310.4ZM1491.6 1307.3L1494.3 1310.4L1497.4 1313.1L1494.3 1315.7L1491.6 1318.9L1489.0 1315.7L1485.8 1313.1L1489.0 1310.4ZM1508.6 1307.3L1511.2 1310.4L1514.4 1313.1L1511.2 1315.7L1508.6 1318.9L1505.9 1315.7L1502.8 1313.1L1505.9 1310.4ZM1576.4 1307.3L1579.0 1310.4L1582.2 1313.1L1579.0 1315.7L1576.4 1318.9L1573.7 1315.7L1570.6 1313.1L1573.7 1310.4ZM1406.9 1324.1L1409.5 1327.3L1412.7 1329.9L1409.5 1332.6L1406.9 1335.7L1404.2 1332.6L1401.1 1329.9L1404.2 1327.3ZM1423.8 1324.1L1426.5 1327.3L1429.6 1329.9L1426.5 1332.6L1423.8 1335.7L1421.2 1332.6L1418.0 1329.9L1421.2 1327.3ZM1440.8 1324.1L1443.4 1327.3L1446.6 1329.9L1443.4 1332.6L1440.8 1335.7L1438.1 1332.6L1435.0 1329.9L1438.1 1327.3ZM1457.7 1324.1L1460.4 1327.3L1463.5 1329.9L1460.4 1332.6L1457.7 1335.7L1455.1 1332.6L1451.9 1329.9L1455.1 1327.3ZM1474.7 1324.1L1477.3 1327.3L1480.5 1329.9L1477.3 1332.6L1474.7 1335.7L1472.0 1332.6L1468.9 1329.9L1472.0 1327.3ZM1491.6 1324.1L1494.3 1327.3L1497.4 1329.9L1494.3 1332.6L1491.6 1335.7L1489.0 1332.6L1485.8 1329.9L1489.0 1327.3ZM1508.6 1324.1L1511.2 1327.3L1514.4 1329.9L1511.2 1332.6L1508.6 1335.7L1505.9 1332.6L1502.8 1329.9L1505.9 1327.3ZM1576.4 1324.1L1579.0 1327.3L1582.2 1329.9L1579.0 1332.6L1576.4 1335.7L1573.7 1332.6L1570.6 1329.9L1573.7 1327.3ZM1593.3 1324.1L1596.0 1327.3L1599.1 1329.9L1596.0 1332.6L1593.3 1335.7L1590.7 1332.6L1587.5 1329.9L1590.7 1327.3ZM1406.9 1341.0L1409.5 1344.1L1412.7 1346.8L1409.5 1349.5L1406.9 1352.6L1404.2 1349.5L1401.1 1346.8L1404.2 1344.1ZM1423.8 1341.0L1426.5 1344.1L1429.6 1346.8L1426.5 1349.5L1423.8 1352.6L1421.2 1349.5L1418.0 1346.8L1421.2 1344.1ZM1440.8 1341.0L1443.4 1344.1L1446.6 1346.8L1443.4 1349.5L1440.8 1352.6L1438.1 1349.5L1435.0 1346.8L1438.1 1344.1ZM1457.7 1341.0L1460.4 1344.1L1463.5 1346.8L1460.4 1349.5L1457.7 1352.6L1455.1 1349.5L1451.9 1346.8L1455.1 1344.1ZM1474.7 1341.0L1477.3 1344.1L1480.5 1346.8L1477.3 1349.5L1474.7 1352.6L1472.0 1349.5L1468.9 1346.8L1472.0 1344.1ZM1491.6 1341.0L1494.3 1344.1L1497.4 1346.8L1494.3 1349.5L1491.6 1352.6L1489.0 1349.5L1485.8 1346.8L1489.0 1344.1ZM1508.6 1341.0L1511.2 1344.1L1514.4 1346.8L1511.2 1349.5L1508.6 1352.6L1505.9 1349.5L1502.8 1346.8L1505.9 1344.1ZM1576.4 1341.0L1579.0 1344.1L1582.2 1346.8L1579.0 1349.5L1576.4 1352.6L1573.7 1349.5L1570.6 1346.8L1573.7 1344.1ZM1593.3 1341.0L1596.0 1344.1L1599.1 1346.8L1596.0 1349.5L1593.3 1352.6L1590.7 1349.5L1587.5 1346.8L1590.7 1344.1ZM1610.3 1341.0L1612.9 1344.1L1616.1 1346.8L1612.9 1349.5L1610.3 1352.6L1607.6 1349.5L1604.5 1346.8L1607.6 1344.1ZM1406.9 1357.9L1409.5 1361.0L1412.7 1363.7L1409.5 1366.4L1406.9 1369.5L1404.2 1366.4L1401.1 1363.7L1404.2 1361.0ZM1423.8 1357.9L1426.5 1361.0L1429.6 1363.7L1426.5 1366.4L1423.8 1369.5L1421.2 1366.4L1418.0 1363.7L1421.2 1361.0ZM1474.7 1357.9L1477.3 1361.0L1480.5 1363.7L1477.3 1366.4L1474.7 1369.5L1472.0 1366.4L1468.9 1363.7L1472.0 1361.0ZM1491.6 1357.9L1494.3 1361.0L1497.4 1363.7L1494.3 1366.4L1491.6 1369.5L1489.0 1366.4L1485.8 1363.7L1489.0 1361.0ZM1508.6 1357.9L1511.2 1361.0L1514.4 1363.7L1511.2 1366.4L1508.6 1369.5L1505.9 1366.4L1502.8 1363.7L1505.9 1361.0ZM1576.4 1357.9L1579.0 1361.0L1582.2 1363.7L1579.0 1366.4L1576.4 1369.5L1573.7 1366.4L1570.6 1363.7L1573.7 1361.0ZM1593.3 1357.9L1596.0 1361.0L1599.1 1363.7L1596.0 1366.4L1593.3 1369.5L1590.7 1366.4L1587.5 1363.7L1590.7 1361.0ZM1610.3 1357.9L1612.9 1361.0L1616.1 1363.7L1612.9 1366.4L1610.3 1369.5L1607.6 1366.4L1604.5 1363.7L1607.6 1361.0ZM1627.2 1357.9L1629.9 1361.0L1633.0 1363.7L1629.9 1366.4L1627.2 1369.5L1624.6 1366.4L1621.4 1363.7L1624.6 1361.0ZM1406.9 1374.8L1409.5 1377.9L1412.7 1380.6L1409.5 1383.2L1406.9 1386.4L1404.2 1383.2L1401.1 1380.6L1404.2 1377.9ZM1423.8 1374.8L1426.5 1377.9L1429.6 1380.6L1426.5 1383.2L1423.8 1386.4L1421.2 1383.2L1418.0 1380.6L1421.2 1377.9ZM1440.8 1374.8L1443.4 1377.9L1446.6 1380.6L1443.4 1383.2L1440.8 1386.4L1438.1 1383.2L1435.0 1380.6L1438.1 1377.9ZM1457.7 1374.8L1460.4 1377.9L1463.5 1380.6L1460.4 1383.2L1457.7 1386.4L1455.1 1383.2L1451.9 1380.6L1455.1 1377.9ZM1474.7 1374.8L1477.3 1377.9L1480.5 1380.6L1477.3 1383.2L1474.7 1386.4L1472.0 1383.2L1468.9 1380.6L1472.0 1377.9ZM1491.6 1374.8L1494.3 1377.9L1497.4 1380.6L1494.3 1383.2L1491.6 1386.4L1489.0 1383.2L1485.8 1380.6L1489.0 1377.9ZM1508.6 1374.8L1511.2 1377.9L1514.4 1380.6L1511.2 1383.2L1508.6 1386.4L1505.9 1383.2L1502.8 1380.6L1505.9 1377.9ZM1542.5 1374.8L1545.1 1377.9L1548.3 1380.6L1545.1 1383.2L1542.5 1386.4L1539.8 1383.2L1536.7 1380.6L1539.8 1377.9ZM1576.4 1374.8L1579.0 1377.9L1582.2 1380.6L1579.0 1383.2L1576.4 1386.4L1573.7 1383.2L1570.6 1380.6L1573.7 1377.9ZM1593.3 1374.8L1596.0 1377.9L1599.1 1380.6L1596.0 1383.2L1593.3 1386.4L1590.7 1383.2L1587.5 1380.6L1590.7 1377.9ZM1610.3 1374.8L1612.9 1377.9L1616.1 1380.6L1612.9 1383.2L1610.3 1386.4L1607.6 1383.2L1604.5 1380.6L1607.6 1377.9ZM1627.2 1374.8L1629.9 1377.9L1633.0 1380.6L1629.9 1383.2L1627.2 1386.4L1624.6 1383.2L1621.4 1380.6L1624.6 1377.9ZM1644.2 1374.8L1646.8 1377.9L1650.0 1380.6L1646.8 1383.2L1644.2 1386.4L1641.5 1383.2L1638.4 1380.6L1641.5 1377.9ZM1406.9 1391.6L1409.5 1394.8L1412.7 1397.4L1409.5 1400.1L1406.9 1403.2L1404.2 1400.1L1401.1 1397.4L1404.2 1394.8ZM1423.8 1391.6L1426.5 1394.8L1429.6 1397.4L1426.5 1400.1L1423.8 1403.2L1421.2 1400.1L1418.0 1397.4L1421.2 1394.8ZM1457.7 1391.6L1460.4 1394.8L1463.5 1397.4L1460.4 1400.1L1457.7 1403.2L1455.1 1400.1L1451.9 1397.4L1455.1 1394.8ZM1474.7 1391.6L1477.3 1394.8L1480.5 1397.4L1477.3 1400.1L1474.7 1403.2L1472.0 1400.1L1468.9 1397.4L1472.0 1394.8ZM1491.6 1391.6L1494.3 1394.8L1497.4 1397.4L1494.3 1400.1L1491.6 1403.2L1489.0 1400.1L1485.8 1397.4L1489.0 1394.8ZM1508.6 1391.6L1511.2 1394.8L1514.4 1397.4L1511.2 1400.1L1508.6 1403.2L1505.9 1400.1L1502.8 1397.4L1505.9 1394.8ZM1576.4 1391.6L1579.0 1394.8L1582.2 1397.4L1579.0 1400.1L1576.4 1403.2L1573.7 1400.1L1570.6 1397.4L1573.7 1394.8ZM1593.3 1391.6L1596.0 1394.8L1599.1 1397.4L1596.0 1400.1L1593.3 1403.2L1590.7 1400.1L1587.5 1397.4L1590.7 1394.8ZM1610.3 1391.6L1612.9 1394.8L1616.1 1397.4L1612.9 1400.1L1610.3 1403.2L1607.6 1400.1L1604.5 1397.4L1607.6 1394.8ZM1627.2 1391.6L1629.9 1394.8L1633.0 1397.4L1629.9 1400.1L1627.2 1403.2L1624.6 1400.1L1621.4 1397.4L1624.6 1394.8ZM1644.2 1391.6L1646.8 1394.8L1650.0 1397.4L1646.8 1400.1L1644.2 1403.2L1641.5 1400.1L1638.4 1397.4L1641.5 1394.8ZM1661.1 1391.6L1663.8 1394.8L1666.9 1397.4L1663.8 1400.1L1661.1 1403.2L1658.5 1400.1L1655.3 1397.4L1658.5 1394.8ZM1406.9 1408.5L1409.5 1411.6L1412.7 1414.3L1409.5 1417.0L1406.9 1420.1L1404.2 1417.0L1401.1 1414.3L1404.2 1411.6ZM1423.8 1408.5L1426.5 1411.6L1429.6 1414.3L1426.5 1417.0L1423.8 1420.1L1421.2 1417.0L1418.0 1414.3L1421.2 1411.6ZM1440.8 1408.5L1443.4 1411.6L1446.6 1414.3L1443.4 1417.0L1440.8 1420.1L1438.1 1417.0L1435.0 1414.3L1438.1 1411.6ZM1457.7 1408.5L1460.4 1411.6L1463.5 1414.3L1460.4 1417.0L1457.7 1420.1L1455.1 1417.0L1451.9 1414.3L1455.1 1411.6ZM1474.7 1408.5L1477.3 1411.6L1480.5 1414.3L1477.3 1417.0L1474.7 1420.1L1472.0 1417.0L1468.9 1414.3L1472.0 1411.6ZM1576.4 1408.5L1579.0 1411.6L1582.2 1414.3L1579.0 1417.0L1576.4 1420.1L1573.7 1417.0L1570.6 1414.3L1573.7 1411.6ZM1593.3 1408.5L1596.0 1411.6L1599.1 1414.3L1596.0 1417.0L1593.3 1420.1L1590.7 1417.0L1587.5 1414.3L1590.7 1411.6ZM1627.2 1408.5L1629.9 1411.6L1633.0 1414.3L1629.9 1417.0L1627.2 1420.1L1624.6 1417.0L1621.4 1414.3L1624.6 1411.6ZM1678.1 1408.5L1680.7 1411.6L1683.9 1414.3L1680.7 1417.0L1678.1 1420.1L1675.4 1417.0L1672.3 1414.3L1675.4 1411.6ZM1661.1 1425.4L1663.8 1428.5L1666.9 1431.2L1663.8 1433.9L1661.1 1437.0L1658.5 1433.9L1655.3 1431.2L1658.5 1428.5ZM1559.4 1442.3L1562.1 1445.4L1565.2 1448.1L1562.1 1450.7L1559.4 1453.9L1556.8 1450.7L1553.6 1448.1L1556.8 1445.4Z" fill="#fff"/>
</g>
<line x1="1567.9" y1="1119.0" x2="1567.9" y2="1456.5" stroke="#000" stroke-width="1.8"/>
<line x1="1395.0" y1="1287.8" x2="1729.0" y2="1287.8" stroke="#000" stroke-width="1.8"/>
</g>
<line x1="1398.4" y1="1111.0" x2="1398.4" y2="1456.5" stroke="#111" stroke-width="1.6"/>
<text x="390.59" y="756.80" font-size="41.85" fill="#000" stroke="#000" stroke-width="0.65" textLength="62.22" lengthAdjust="spacingAndGlyphs">d-2</text>
<text x="773.11" y="756.80" font-size="41.85" fill="#000" stroke="#000" stroke-width="0.65" textLength="47.99" lengthAdjust="spacingAndGlyphs">d3</text>
<text x="1143.42" y="756.80" font-size="41.85" fill="#000" stroke="#000" stroke-width="0.65" textLength="71.56" lengthAdjust="spacingAndGlyphs">d14</text>
<text x="1522.62" y="756.80" font-size="41.85" fill="#000" stroke="#000" stroke-width="0.65" textLength="71.56" lengthAdjust="spacingAndGlyphs">d31</text>
<rect x="142.5" y="821.7" width="41.8" height="246.9" fill="url(#jet)" stroke="#333" stroke-width="1"/>
<text x="193.5" y="829.3" font-size="18.3" fill="#404040">1.5</text>
<text x="193.5" y="912.3" font-size="18.3" fill="#404040">1</text>
<text x="193.5" y="994.3" font-size="18.3" fill="#404040">0.5</text>
<text x="193.5" y="1076.3" font-size="18.3" fill="#404040">0</text>
<text x="0.00" y="0.00" font-size="47.70" fill="#000" stroke="#000" stroke-width="0.74" textLength="201.00" lengthAdjust="spacingAndGlyphs" transform="translate(105.80 1041.00) rotate(-90)">Fisher z(r)</text>
<rect x="492.6" y="1169" width="42.1" height="246.4" fill="url(#jet)" stroke="#333" stroke-width="1"/>
<text x="543.3" y="1201.8" font-size="19" fill="#404040">0.2</text>
<text x="543.3" y="1251.8" font-size="19" fill="#404040">0.1</text>
<text x="543.3" y="1299.8" font-size="19" fill="#404040">0</text>
<text x="543.3" y="1349.8" font-size="19" fill="#404040">-0.1</text>
<text x="543.3" y="1399.8" font-size="19" fill="#404040">-0.2</text>
<text x="0.00" y="0.00" font-size="47.70" fill="#000" stroke="#000" stroke-width="0.00" font-weight="bold" textLength="211.00" lengthAdjust="spacingAndGlyphs" transform="translate(368.50 1405.00) rotate(-90)">Difference</text>
<g transform="translate(428 1365) rotate(-90)" font-weight="bold">
<text x="0" y="0" font-size="41" textLength="131" lengthAdjust="spacingAndGlyphs">z<tspan font-size="27" dy="9">(i)</tspan><tspan dy="-9">-z</tspan><tspan font-size="27" dy="9">(-2)</tspan></text>
</g>
<g stroke="#555" stroke-width="1.3" fill="none">
<path d="M156.7 1542.6H142.6L146.8 2059.5"/>
<path d="M144.7 1774H156.8M145.9 2006H157.5"/>
<path d="M146.8 2104.4V2137.2M142 2137.2H1489"/>
<path d="M260.8 2104.4V2137.2"/>
<path d="M458.8 2104.4V2137.2"/>
<path d="M656.8 2104.4V2137.2"/>
<path d="M854.8 2104.4V2137.2"/>
<path d="M1052.8 2104.4V2137.2"/>
<path d="M1250.8 2104.4V2137.2"/>
<path d="M1448.8 2104.4V2137.2"/>
</g>
<rect x="246.6" y="1542.5" width="13.7" height="441.3" fill="#bfbfbf"/>
<text x="268.60" y="1573.50" font-size="37.80" fill="#a6a6a6" stroke="#a6a6a6" stroke-width="0.00" font-weight="bold" textLength="79.00" lengthAdjust="spacingAndGlyphs">ONC</text>
<text x="68.36" y="1563.10" font-size="38.70" fill="#222" stroke="#222" stroke-width="0.60" textLength="54.44" lengthAdjust="spacingAndGlyphs">1.5</text>
<text x="108.40" y="1792.70" font-size="38.70" fill="#222" stroke="#222" stroke-width="0.60" textLength="21.80" lengthAdjust="spacingAndGlyphs">1</text>
<text x="72.26" y="2020.70" font-size="38.70" fill="#222" stroke="#222" stroke-width="0.60" textLength="54.44" lengthAdjust="spacingAndGlyphs">0.5</text>
<text x="105.80" y="2148.00" font-size="38.70" fill="#222" stroke="#222" stroke-width="0.60" textLength="21.80" lengthAdjust="spacingAndGlyphs">0</text>
<text x="257.60" y="2193.00" font-size="38.70" fill="#222" stroke="#222" stroke-width="0.60" textLength="21.80" lengthAdjust="spacingAndGlyphs">0</text>
<text x="453.90" y="2193.00" font-size="38.70" fill="#222" stroke="#222" stroke-width="0.60" textLength="21.80" lengthAdjust="spacingAndGlyphs">5</text>
<text x="651.20" y="2193.00" font-size="38.70" fill="#222" stroke="#222" stroke-width="0.60" textLength="43.60" lengthAdjust="spacingAndGlyphs">10</text>
<text x="850.20" y="2193.00" font-size="38.70" fill="#222" stroke="#222" stroke-width="0.60" textLength="43.60" lengthAdjust="spacingAndGlyphs">15</text>
<text x="1047.50" y="2193.00" font-size="38.70" fill="#222" stroke="#222" stroke-width="0.60" textLength="43.60" lengthAdjust="spacingAndGlyphs">20</text>
<text x="1244.20" y="2193.00" font-size="38.70" fill="#222" stroke="#222" stroke-width="0.60" textLength="43.60" lengthAdjust="spacingAndGlyphs">25</text>
<text x="1442.90" y="2193.00" font-size="38.70" fill="#222" stroke="#222" stroke-width="0.60" textLength="43.60" lengthAdjust="spacingAndGlyphs">30</text>
<text x="670.50" y="2263.40" font-size="38.70" fill="#222" stroke="#222" stroke-width="0.60" textLength="381.00" lengthAdjust="spacingAndGlyphs">Time (days from ONC)</text>
<text x="0.00" y="0.00" font-size="38.70" fill="#222" stroke="#222" stroke-width="0.60" textLength="171.00" lengthAdjust="spacingAndGlyphs" transform="translate(41.00 1924.00) rotate(-90)">Fisher z(r)</text>
<text x="1470.50" y="1773.00" font-size="38.70" fill="#000" stroke="#000" stroke-width="0.60" textLength="223.50" lengthAdjust="spacingAndGlyphs">RAM vs RPM</text>
<text x="1470.50" y="1846.80" font-size="38.70" fill="#000" stroke="#000" stroke-width="0.60" textLength="173.00" lengthAdjust="spacingAndGlyphs">RV1 vs RA</text>
<text x="1472.00" y="1950.70" font-size="38.70" fill="#000" stroke="#000" stroke-width="0.60" textLength="213.00" lengthAdjust="spacingAndGlyphs">LPM vs RPM</text>
<text x="1360.30" y="2073.60" font-size="38.70" fill="#000" stroke="#000" stroke-width="0.60" textLength="149.40" lengthAdjust="spacingAndGlyphs">* p&lt;0,05</text>
<path d="M184.2 1600.1V1630.7M180.2 1600.1h8M180.2 1630.7h8M263.1 1747.6V1773.2M259.1 1747.6h8M259.1 1773.2h8M302.9 1667.8V1697.6M298.9 1667.8h8M298.9 1697.6h8M382.1 1674.6V1709.9M378.1 1674.6h8M378.1 1709.9h8M461.0 1685.5V1723.8M457.0 1685.5h8M457.0 1723.8h8M540.5 1706.7V1747.0M536.5 1706.7h8M536.5 1747.0h8M817.3 1679.5V1719.5M813.3 1679.5h8M813.3 1719.5h8M1097.1 1707.5V1761.9M1093.1 1707.5h8M1093.1 1761.9h8M1451.4 1741.3V1771.5M1447.4 1741.3h8M1447.4 1771.5h8M185.4 1697.9V1737.0M181.4 1697.9h8M181.4 1737.0h8M264.9 1832.7V1894.0M260.9 1832.7h8M260.9 1894.0h8M304.9 1782.1V1843.9M300.9 1782.1h8M300.9 1843.9h8M383.8 1749.1V1802.1M379.8 1749.1h8M379.8 1802.1h8M462.8 1753.8V1815.1M458.8 1753.8h8M458.8 1815.1h8M542.3 1770.3V1837.1M538.3 1770.3h8M538.3 1837.1h8M819.4 1770.8V1845.9M815.4 1770.8h8M815.4 1845.9h8M1098.5 1787.0V1855.6M1094.5 1787.0h8M1094.5 1855.6h8M1453.0 1815.0V1848.9M1449.0 1815.0h8M1449.0 1848.9h8M181.8 1756.5V1813.3M177.8 1756.5h8M177.8 1813.3h8M261.0 1902.8V1960.8M257.0 1902.8h8M257.0 1960.8h8M301.1 1844.5V1905.7M297.1 1844.5h8M297.1 1905.7h8M380.0 1844.5V1897.8M376.0 1844.5h8M376.0 1897.8h8M459.2 1850.4V1909.6M455.2 1850.4h8M455.2 1909.6h8M538.7 1867.8V1929.3M534.7 1867.8h8M534.7 1929.3h8M815.8 1862.6V1908.6M811.8 1862.6h8M811.8 1908.6h8M1095.6 1882.7V1947.4M1091.6 1882.7h8M1091.6 1947.4h8M1449.3 1903.5V1965.0M1445.3 1903.5h8M1445.3 1965.0h8" stroke="#262626" stroke-width="1.05" fill="none"/>
<polyline points="184.2,1614.8 263.1,1761.5 302.9,1681.4 382.1,1692.3 461.0,1704.9 540.5,1726.7 817.3,1698.0 1097.1,1735.4 1451.4,1756.0" fill="none" stroke="#000" stroke-width="3.4" stroke-linejoin="miter"/>
<polyline points="185.4,1716.7 264.9,1863.3 304.9,1812.1 383.8,1773.8 462.8,1784.1 542.3,1803.0 819.4,1807.3 1098.5,1821.1 1453.0,1832.0" fill="none" stroke="#000" stroke-width="3.4" stroke-linejoin="miter"/>
<polyline points="181.8,1785.0 261.0,1932.8 301.1,1875.7 380.0,1870.1 459.2,1879.0 538.7,1897.8 815.8,1885.0 1095.6,1915.3 1449.3,1933.7" fill="none" stroke="#000" stroke-width="3.4" stroke-linejoin="miter"/>
<text x="273.7" y="1770.1" font-size="43.3" text-anchor="middle" stroke="#000" stroke-width="0.5">*</text>
<text x="313.5" y="1689.7" font-size="43.3" text-anchor="middle" stroke="#000" stroke-width="0.5">*</text>
<text x="392.7" y="1697.3" font-size="43.3" text-anchor="middle" stroke="#000" stroke-width="0.5">*</text>
<text x="471.9" y="1708.2" font-size="43.3" text-anchor="middle" stroke="#000" stroke-width="0.5">*</text>
<text x="550.8" y="1726.5" font-size="43.3" text-anchor="middle" stroke="#000" stroke-width="0.5">*</text>
<text x="275.2" y="1854.0" font-size="43.3" text-anchor="middle" stroke="#000" stroke-width="0.5">*</text>
<text x="315.2" y="1803.4" font-size="43.3" text-anchor="middle" stroke="#000" stroke-width="0.5">*</text>
<text x="473.4" y="1773.0" font-size="43.3" text-anchor="middle" stroke="#000" stroke-width="0.5">*</text>
<text x="271.4" y="1923.2" font-size="43.3" text-anchor="middle" stroke="#000" stroke-width="0.5">*</text>
<text x="390.9" y="1865.8" font-size="43.3" text-anchor="middle" stroke="#000" stroke-width="0.5">*</text>
<text x="469.8" y="1868.7" font-size="43.3" text-anchor="middle" stroke="#000" stroke-width="0.5">*</text>
<text x="549.0" y="1887.9" font-size="43.3" text-anchor="middle" stroke="#000" stroke-width="0.5">*</text>
<text x="828.8" y="1703.1" font-size="43.3" text-anchor="middle" stroke="#000" stroke-width="0.5">*</text>
<text x="830.3" y="1792.9" font-size="43.3" text-anchor="middle" stroke="#000" stroke-width="0.5">*</text>
<text x="826.1" y="1884.2" font-size="43.3" text-anchor="middle" stroke="#000" stroke-width="0.5">*</text>
<text x="1104.8" y="1729.9" font-size="43.3" text-anchor="middle" stroke="#000" stroke-width="0.5">*</text>
<text x="1460.4" y="1763.8" font-size="43.3" text-anchor="middle" stroke="#000" stroke-width="0.5">*</text>
<text x="1106.9" y="1806.8" font-size="43.3" text-anchor="middle" stroke="#000" stroke-width="0.5">*</text>
<text x="1463.1" y="1836.4" font-size="43.3" text-anchor="middle" stroke="#000" stroke-width="0.5">*</text>
<text x="1102.7" y="1903.2" font-size="43.3" text-anchor="middle" stroke="#000" stroke-width="0.5">*</text>
<text x="1459.4" y="1922.8" font-size="43.3" text-anchor="middle" stroke="#000" stroke-width="0.5">*</text>
</svg></body></html>
